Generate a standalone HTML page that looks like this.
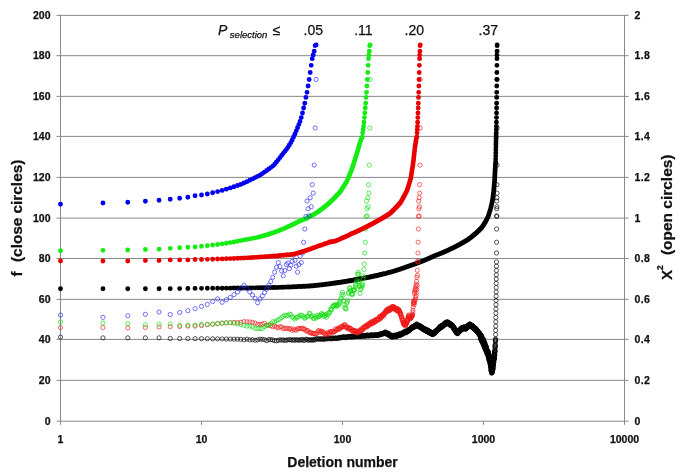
<!DOCTYPE html>
<html><head><meta charset="utf-8"><style>
html,body{margin:0;padding:0;background:#fff;}
svg{display:block;filter:blur(0.35px);}
.grid{stroke:#888;stroke-width:1;}
.ax{stroke:#888;stroke-width:1;}
text{font-family:"Liberation Sans",sans-serif;fill:#111;stroke:#111;stroke-width:0.25px;}
.tl{font-size:10.5px;font-weight:bold;}
.tt{font-size:14px;font-weight:bold;}
.ty{font-size:15.2px;font-weight:bold;}
.tr{font-size:10.5px;font-weight:bold;letter-spacing:0.3px;}
.sup{font-size:8.5px;font-weight:bold;}
.pl{font-size:14px;}
.sub{font-size:9.5px;}
</style></head><body>
<svg width="685" height="473" viewBox="0 0 685 473">
<rect width="685" height="473" fill="#fff"/>
<line x1="60.5" x2="624.5" y1="380.36" y2="380.36" class="grid"/>
<line x1="60.5" x2="624.5" y1="339.4" y2="339.4" class="grid"/>
<line x1="60.5" x2="624.5" y1="299.36" y2="299.36" class="grid"/>
<line x1="60.5" x2="624.5" y1="258.5" y2="258.5" class="grid"/>
<line x1="60.5" x2="624.5" y1="218.1" y2="218.1" class="grid"/>
<line x1="60.5" x2="624.5" y1="177.4" y2="177.4" class="grid"/>
<line x1="60.5" x2="624.5" y1="136.4" y2="136.4" class="grid"/>
<line x1="60.5" x2="624.5" y1="96.36" y2="96.36" class="grid"/>
<line x1="60.5" x2="624.5" y1="55.7" y2="55.7" class="grid"/>
<line x1="60.5" x2="624.5" y1="15.36" y2="15.36" class="grid"/>
<line x1="60.5" x2="60.5" y1="14.86" y2="421.7" class="ax"/>
<line x1="624.5" x2="624.5" y1="14.86" y2="421.7" class="ax"/>
<line x1="60" x2="625" y1="421.2" y2="421.2" class="ax"/>
<line x1="56.5" x2="60.5" y1="421.2" y2="421.2" class="ax"/>
<line x1="624.5" x2="628.5" y1="421.2" y2="421.2" class="ax"/>
<line x1="56.5" x2="60.5" y1="380.36" y2="380.36" class="ax"/>
<line x1="624.5" x2="628.5" y1="380.36" y2="380.36" class="ax"/>
<line x1="56.5" x2="60.5" y1="339.4" y2="339.4" class="ax"/>
<line x1="624.5" x2="628.5" y1="339.4" y2="339.4" class="ax"/>
<line x1="56.5" x2="60.5" y1="299.36" y2="299.36" class="ax"/>
<line x1="624.5" x2="628.5" y1="299.36" y2="299.36" class="ax"/>
<line x1="56.5" x2="60.5" y1="258.5" y2="258.5" class="ax"/>
<line x1="624.5" x2="628.5" y1="258.5" y2="258.5" class="ax"/>
<line x1="56.5" x2="60.5" y1="218.1" y2="218.1" class="ax"/>
<line x1="624.5" x2="628.5" y1="218.1" y2="218.1" class="ax"/>
<line x1="56.5" x2="60.5" y1="177.4" y2="177.4" class="ax"/>
<line x1="624.5" x2="628.5" y1="177.4" y2="177.4" class="ax"/>
<line x1="56.5" x2="60.5" y1="136.4" y2="136.4" class="ax"/>
<line x1="624.5" x2="628.5" y1="136.4" y2="136.4" class="ax"/>
<line x1="56.5" x2="60.5" y1="96.36" y2="96.36" class="ax"/>
<line x1="624.5" x2="628.5" y1="96.36" y2="96.36" class="ax"/>
<line x1="56.5" x2="60.5" y1="55.7" y2="55.7" class="ax"/>
<line x1="624.5" x2="628.5" y1="55.7" y2="55.7" class="ax"/>
<line x1="56.5" x2="60.5" y1="15.36" y2="15.36" class="ax"/>
<line x1="624.5" x2="628.5" y1="15.36" y2="15.36" class="ax"/>
<line x1="60.5" x2="60.5" y1="421.2" y2="424.8" class="ax"/>
<line x1="201.5" x2="201.5" y1="421.2" y2="424.8" class="ax"/>
<line x1="342.5" x2="342.5" y1="421.2" y2="424.8" class="ax"/>
<line x1="483.5" x2="483.5" y1="421.2" y2="424.8" class="ax"/>
<line x1="624.5" x2="624.5" y1="421.2" y2="424.8" class="ax"/>
<path fill="none" stroke="#000000" stroke-width="0.65" d="M58.4 337.05a2.1 2.1 0 1 0 4.2 0a2.1 2.1 0 1 0 -4.2 0M100.85 337.86a2.1 2.1 0 1 0 4.2 0a2.1 2.1 0 1 0 -4.2 0M125.67 337.86a2.1 2.1 0 1 0 4.2 0a2.1 2.1 0 1 0 -4.2 0M143.29 337.86a2.1 2.1 0 1 0 4.2 0a2.1 2.1 0 1 0 -4.2 0M156.95 337.86a2.1 2.1 0 1 0 4.2 0a2.1 2.1 0 1 0 -4.2 0M168.12 338.47a2.1 2.1 0 1 0 4.2 0a2.1 2.1 0 1 0 -4.2 0M177.56 338.52a2.1 2.1 0 1 0 4.2 0a2.1 2.1 0 1 0 -4.2 0M185.74 338.57a2.1 2.1 0 1 0 4.2 0a2.1 2.1 0 1 0 -4.2 0M192.95 338.63a2.1 2.1 0 1 0 4.2 0a2.1 2.1 0 1 0 -4.2 0M199.4 338.68a2.1 2.1 0 1 0 4.2 0a2.1 2.1 0 1 0 -4.2 0M205.24 338.75a2.1 2.1 0 1 0 4.2 0a2.1 2.1 0 1 0 -4.2 0M210.56 338.82a2.1 2.1 0 1 0 4.2 0a2.1 2.1 0 1 0 -4.2 0M215.47 338.89a2.1 2.1 0 1 0 4.2 0a2.1 2.1 0 1 0 -4.2 0M220 338.96a2.1 2.1 0 1 0 4.2 0a2.1 2.1 0 1 0 -4.2 0M224.23 339.03a2.1 2.1 0 1 0 4.2 0a2.1 2.1 0 1 0 -4.2 0M228.18 339.1a2.1 2.1 0 1 0 4.2 0a2.1 2.1 0 1 0 -4.2 0M231.89 339.17a2.1 2.1 0 1 0 4.2 0a2.1 2.1 0 1 0 -4.2 0M235.39 339.24a2.1 2.1 0 1 0 4.2 0a2.1 2.1 0 1 0 -4.2 0M238.7 339.31a2.1 2.1 0 1 0 4.2 0a2.1 2.1 0 1 0 -4.2 0M241.85 339.81a2.1 2.1 0 1 0 4.2 0a2.1 2.1 0 1 0 -4.2 0M244.83 339.19a2.1 2.1 0 1 0 4.2 0a2.1 2.1 0 1 0 -4.2 0M247.68 339.9a2.1 2.1 0 1 0 4.2 0a2.1 2.1 0 1 0 -4.2 0M250.4 339.79a2.1 2.1 0 1 0 4.2 0a2.1 2.1 0 1 0 -4.2 0M253.01 340.24a2.1 2.1 0 1 0 4.2 0a2.1 2.1 0 1 0 -4.2 0M255.51 339.93a2.1 2.1 0 1 0 4.2 0a2.1 2.1 0 1 0 -4.2 0M257.91 339.24a2.1 2.1 0 1 0 4.2 0a2.1 2.1 0 1 0 -4.2 0M260.22 339.29a2.1 2.1 0 1 0 4.2 0a2.1 2.1 0 1 0 -4.2 0M262.45 339.65a2.1 2.1 0 1 0 4.2 0a2.1 2.1 0 1 0 -4.2 0M264.6 340.62a2.1 2.1 0 1 0 4.2 0a2.1 2.1 0 1 0 -4.2 0M266.67 339.55a2.1 2.1 0 1 0 4.2 0a2.1 2.1 0 1 0 -4.2 0M268.68 339.71a2.1 2.1 0 1 0 4.2 0a2.1 2.1 0 1 0 -4.2 0M270.63 339.9a2.1 2.1 0 1 0 4.2 0a2.1 2.1 0 1 0 -4.2 0M272.51 340.69a2.1 2.1 0 1 0 4.2 0a2.1 2.1 0 1 0 -4.2 0M274.34 340.77a2.1 2.1 0 1 0 4.2 0a2.1 2.1 0 1 0 -4.2 0M276.11 340.36a2.1 2.1 0 1 0 4.2 0a2.1 2.1 0 1 0 -4.2 0M277.84 339.76a2.1 2.1 0 1 0 4.2 0a2.1 2.1 0 1 0 -4.2 0M279.52 340.11a2.1 2.1 0 1 0 4.2 0a2.1 2.1 0 1 0 -4.2 0M281.15 339.9a2.1 2.1 0 1 0 4.2 0a2.1 2.1 0 1 0 -4.2 0M282.74 340.49a2.1 2.1 0 1 0 4.2 0a2.1 2.1 0 1 0 -4.2 0M284.29 340.11a2.1 2.1 0 1 0 4.2 0a2.1 2.1 0 1 0 -4.2 0M285.8 339.86a2.1 2.1 0 1 0 4.2 0a2.1 2.1 0 1 0 -4.2 0M287.28 339.7a2.1 2.1 0 1 0 4.2 0a2.1 2.1 0 1 0 -4.2 0M288.72 339.7a2.1 2.1 0 1 0 4.2 0a2.1 2.1 0 1 0 -4.2 0M290.13 340.38a2.1 2.1 0 1 0 4.2 0a2.1 2.1 0 1 0 -4.2 0M291.5 339.57a2.1 2.1 0 1 0 4.2 0a2.1 2.1 0 1 0 -4.2 0M292.85 340.35a2.1 2.1 0 1 0 4.2 0a2.1 2.1 0 1 0 -4.2 0M294.17 339.62a2.1 2.1 0 1 0 4.2 0a2.1 2.1 0 1 0 -4.2 0M295.46 339.89a2.1 2.1 0 1 0 4.2 0a2.1 2.1 0 1 0 -4.2 0M296.72 340.32a2.1 2.1 0 1 0 4.2 0a2.1 2.1 0 1 0 -4.2 0M297.95 339.81a2.1 2.1 0 1 0 4.2 0a2.1 2.1 0 1 0 -4.2 0M299.17 339.87a2.1 2.1 0 1 0 4.2 0a2.1 2.1 0 1 0 -4.2 0M300.36 339.31a2.1 2.1 0 1 0 4.2 0a2.1 2.1 0 1 0 -4.2 0M301.52 340.41a2.1 2.1 0 1 0 4.2 0a2.1 2.1 0 1 0 -4.2 0M302.67 340.24a2.1 2.1 0 1 0 4.2 0a2.1 2.1 0 1 0 -4.2 0M303.79 339.22a2.1 2.1 0 1 0 4.2 0a2.1 2.1 0 1 0 -4.2 0M304.89 339.38a2.1 2.1 0 1 0 4.2 0a2.1 2.1 0 1 0 -4.2 0M305.98 340.18a2.1 2.1 0 1 0 4.2 0a2.1 2.1 0 1 0 -4.2 0M307.04 340.07a2.1 2.1 0 1 0 4.2 0a2.1 2.1 0 1 0 -4.2 0M308.09 339.67a2.1 2.1 0 1 0 4.2 0a2.1 2.1 0 1 0 -4.2 0M309.12 340.11a2.1 2.1 0 1 0 4.2 0a2.1 2.1 0 1 0 -4.2 0M310.13 339.85a2.1 2.1 0 1 0 4.2 0a2.1 2.1 0 1 0 -4.2 0M311.13 340.13a2.1 2.1 0 1 0 4.2 0a2.1 2.1 0 1 0 -4.2 0M312.11 339.26a2.1 2.1 0 1 0 4.2 0a2.1 2.1 0 1 0 -4.2 0M313.07 339.97a2.1 2.1 0 1 0 4.2 0a2.1 2.1 0 1 0 -4.2 0M314.02 338.8a2.1 2.1 0 1 0 4.2 0a2.1 2.1 0 1 0 -4.2 0M314.96 338.83a2.1 2.1 0 1 0 4.2 0a2.1 2.1 0 1 0 -4.2 0M315.88 338.94a2.1 2.1 0 1 0 4.2 0a2.1 2.1 0 1 0 -4.2 0M316.78 338.9a2.1 2.1 0 1 0 4.2 0a2.1 2.1 0 1 0 -4.2 0M317.68 339.34a2.1 2.1 0 1 0 4.2 0a2.1 2.1 0 1 0 -4.2 0M318.56 338.9a2.1 2.1 0 1 0 4.2 0a2.1 2.1 0 1 0 -4.2 0M319.43 338.74a2.1 2.1 0 1 0 4.2 0a2.1 2.1 0 1 0 -4.2 0M320.28 339.03a2.1 2.1 0 1 0 4.2 0a2.1 2.1 0 1 0 -4.2 0M321.13 339.48a2.1 2.1 0 1 0 4.2 0a2.1 2.1 0 1 0 -4.2 0M321.96 338.73a2.1 2.1 0 1 0 4.2 0a2.1 2.1 0 1 0 -4.2 0M322.78 339.04a2.1 2.1 0 1 0 4.2 0a2.1 2.1 0 1 0 -4.2 0M323.59 338.64a2.1 2.1 0 1 0 4.2 0a2.1 2.1 0 1 0 -4.2 0M324.4 338.81a2.1 2.1 0 1 0 4.2 0a2.1 2.1 0 1 0 -4.2 0M325.19 338.11a2.1 2.1 0 1 0 4.2 0a2.1 2.1 0 1 0 -4.2 0M325.97 338.96a2.1 2.1 0 1 0 4.2 0a2.1 2.1 0 1 0 -4.2 0M326.74 338.22a2.1 2.1 0 1 0 4.2 0a2.1 2.1 0 1 0 -4.2 0M327.5 338.24a2.1 2.1 0 1 0 4.2 0a2.1 2.1 0 1 0 -4.2 0M328.25 338.36a2.1 2.1 0 1 0 4.2 0a2.1 2.1 0 1 0 -4.2 0M328.99 338.88a2.1 2.1 0 1 0 4.2 0a2.1 2.1 0 1 0 -4.2 0M329.72 338.72a2.1 2.1 0 1 0 4.2 0a2.1 2.1 0 1 0 -4.2 0M330.45 337.69a2.1 2.1 0 1 0 4.2 0a2.1 2.1 0 1 0 -4.2 0M331.16 338.53a2.1 2.1 0 1 0 4.2 0a2.1 2.1 0 1 0 -4.2 0M331.87 338.55a2.1 2.1 0 1 0 4.2 0a2.1 2.1 0 1 0 -4.2 0M332.57 338.34a2.1 2.1 0 1 0 4.2 0a2.1 2.1 0 1 0 -4.2 0M333.26 337.98a2.1 2.1 0 1 0 4.2 0a2.1 2.1 0 1 0 -4.2 0M333.95 337.95a2.1 2.1 0 1 0 4.2 0a2.1 2.1 0 1 0 -4.2 0M334.62 338.52a2.1 2.1 0 1 0 4.2 0a2.1 2.1 0 1 0 -4.2 0M335.29 338.46a2.1 2.1 0 1 0 4.2 0a2.1 2.1 0 1 0 -4.2 0M335.96 337.8a2.1 2.1 0 1 0 4.2 0a2.1 2.1 0 1 0 -4.2 0M336.61 338.13a2.1 2.1 0 1 0 4.2 0a2.1 2.1 0 1 0 -4.2 0M337.26 337.55a2.1 2.1 0 1 0 4.2 0a2.1 2.1 0 1 0 -4.2 0M337.9 337.26a2.1 2.1 0 1 0 4.2 0a2.1 2.1 0 1 0 -4.2 0M338.53 338.06a2.1 2.1 0 1 0 4.2 0a2.1 2.1 0 1 0 -4.2 0M339.16 337.5a2.1 2.1 0 1 0 4.2 0a2.1 2.1 0 1 0 -4.2 0M339.78 337.56a2.1 2.1 0 1 0 4.2 0a2.1 2.1 0 1 0 -4.2 0M340.4 337.03a2.1 2.1 0 1 0 4.2 0a2.1 2.1 0 1 0 -4.2 0M341.01 336.76a2.1 2.1 0 1 0 4.2 0a2.1 2.1 0 1 0 -4.2 0M341.61 337.36a2.1 2.1 0 1 0 4.2 0a2.1 2.1 0 1 0 -4.2 0M342.21 337.51a2.1 2.1 0 1 0 4.2 0a2.1 2.1 0 1 0 -4.2 0M342.8 336.67a2.1 2.1 0 1 0 4.2 0a2.1 2.1 0 1 0 -4.2 0M343.39 337.65a2.1 2.1 0 1 0 4.2 0a2.1 2.1 0 1 0 -4.2 0M343.97 337.22a2.1 2.1 0 1 0 4.2 0a2.1 2.1 0 1 0 -4.2 0M344.54 337.08a2.1 2.1 0 1 0 4.2 0a2.1 2.1 0 1 0 -4.2 0M345.11 337.28a2.1 2.1 0 1 0 4.2 0a2.1 2.1 0 1 0 -4.2 0M345.68 336.61a2.1 2.1 0 1 0 4.2 0a2.1 2.1 0 1 0 -4.2 0M346.24 336.75a2.1 2.1 0 1 0 4.2 0a2.1 2.1 0 1 0 -4.2 0M346.79 337.01a2.1 2.1 0 1 0 4.2 0a2.1 2.1 0 1 0 -4.2 0M347.34 336.75a2.1 2.1 0 1 0 4.2 0a2.1 2.1 0 1 0 -4.2 0M347.88 336.38a2.1 2.1 0 1 0 4.2 0a2.1 2.1 0 1 0 -4.2 0M348.42 336.8a2.1 2.1 0 1 0 4.2 0a2.1 2.1 0 1 0 -4.2 0M348.96 337.09a2.1 2.1 0 1 0 4.2 0a2.1 2.1 0 1 0 -4.2 0M349.49 336.58a2.1 2.1 0 1 0 4.2 0a2.1 2.1 0 1 0 -4.2 0M350.01 336.88a2.1 2.1 0 1 0 4.2 0a2.1 2.1 0 1 0 -4.2 0M350.54 336.33a2.1 2.1 0 1 0 4.2 0a2.1 2.1 0 1 0 -4.2 0M351.05 336.81a2.1 2.1 0 1 0 4.2 0a2.1 2.1 0 1 0 -4.2 0M351.56 336.86a2.1 2.1 0 1 0 4.2 0a2.1 2.1 0 1 0 -4.2 0M352.07 335.91a2.1 2.1 0 1 0 4.2 0a2.1 2.1 0 1 0 -4.2 0M352.58 336.57a2.1 2.1 0 1 0 4.2 0a2.1 2.1 0 1 0 -4.2 0M353.08 336.59a2.1 2.1 0 1 0 4.2 0a2.1 2.1 0 1 0 -4.2 0M353.57 336.26a2.1 2.1 0 1 0 4.2 0a2.1 2.1 0 1 0 -4.2 0M354.06 336.04a2.1 2.1 0 1 0 4.2 0a2.1 2.1 0 1 0 -4.2 0M354.55 336.04a2.1 2.1 0 1 0 4.2 0a2.1 2.1 0 1 0 -4.2 0M355.04 335.86a2.1 2.1 0 1 0 4.2 0a2.1 2.1 0 1 0 -4.2 0M355.52 336.48a2.1 2.1 0 1 0 4.2 0a2.1 2.1 0 1 0 -4.2 0M355.99 336.25a2.1 2.1 0 1 0 4.2 0a2.1 2.1 0 1 0 -4.2 0M356.47 336.3a2.1 2.1 0 1 0 4.2 0a2.1 2.1 0 1 0 -4.2 0M356.94 336.09a2.1 2.1 0 1 0 4.2 0a2.1 2.1 0 1 0 -4.2 0M357.4 335.99a2.1 2.1 0 1 0 4.2 0a2.1 2.1 0 1 0 -4.2 0M357.86 335.89a2.1 2.1 0 1 0 4.2 0a2.1 2.1 0 1 0 -4.2 0M358.32 336.55a2.1 2.1 0 1 0 4.2 0a2.1 2.1 0 1 0 -4.2 0M358.78 336.15a2.1 2.1 0 1 0 4.2 0a2.1 2.1 0 1 0 -4.2 0M359.23 335.71a2.1 2.1 0 1 0 4.2 0a2.1 2.1 0 1 0 -4.2 0M359.68 336.5a2.1 2.1 0 1 0 4.2 0a2.1 2.1 0 1 0 -4.2 0M360.12 335.61a2.1 2.1 0 1 0 4.2 0a2.1 2.1 0 1 0 -4.2 0M360.57 335.65a2.1 2.1 0 1 0 4.2 0a2.1 2.1 0 1 0 -4.2 0M361 335.97a2.1 2.1 0 1 0 4.2 0a2.1 2.1 0 1 0 -4.2 0M361.44 335.88a2.1 2.1 0 1 0 4.2 0a2.1 2.1 0 1 0 -4.2 0M361.87 336.08a2.1 2.1 0 1 0 4.2 0a2.1 2.1 0 1 0 -4.2 0M362.3 335.48a2.1 2.1 0 1 0 4.2 0a2.1 2.1 0 1 0 -4.2 0M362.73 335.76a2.1 2.1 0 1 0 4.2 0a2.1 2.1 0 1 0 -4.2 0M363.15 336a2.1 2.1 0 1 0 4.2 0a2.1 2.1 0 1 0 -4.2 0M363.57 336.25a2.1 2.1 0 1 0 4.2 0a2.1 2.1 0 1 0 -4.2 0M363.99 335.84a2.1 2.1 0 1 0 4.2 0a2.1 2.1 0 1 0 -4.2 0M364.41 335.11a2.1 2.1 0 1 0 4.2 0a2.1 2.1 0 1 0 -4.2 0M364.82 335.38a2.1 2.1 0 1 0 4.2 0a2.1 2.1 0 1 0 -4.2 0M365.23 335.41a2.1 2.1 0 1 0 4.2 0a2.1 2.1 0 1 0 -4.2 0M365.64 335.01a2.1 2.1 0 1 0 4.2 0a2.1 2.1 0 1 0 -4.2 0M366.04 336.08a2.1 2.1 0 1 0 4.2 0a2.1 2.1 0 1 0 -4.2 0M366.44 335.36a2.1 2.1 0 1 0 4.2 0a2.1 2.1 0 1 0 -4.2 0M366.84 335.83a2.1 2.1 0 1 0 4.2 0a2.1 2.1 0 1 0 -4.2 0M367.24 335.55a2.1 2.1 0 1 0 4.2 0a2.1 2.1 0 1 0 -4.2 0M367.63 335.78a2.1 2.1 0 1 0 4.2 0a2.1 2.1 0 1 0 -4.2 0M368.02 335.55a2.1 2.1 0 1 0 4.2 0a2.1 2.1 0 1 0 -4.2 0M368.41 334.85a2.1 2.1 0 1 0 4.2 0a2.1 2.1 0 1 0 -4.2 0M368.8 335.04a2.1 2.1 0 1 0 4.2 0a2.1 2.1 0 1 0 -4.2 0M369.18 334.86a2.1 2.1 0 1 0 4.2 0a2.1 2.1 0 1 0 -4.2 0M369.56 335.77a2.1 2.1 0 1 0 4.2 0a2.1 2.1 0 1 0 -4.2 0M369.94 335.47a2.1 2.1 0 1 0 4.2 0a2.1 2.1 0 1 0 -4.2 0M370.32 334.85a2.1 2.1 0 1 0 4.2 0a2.1 2.1 0 1 0 -4.2 0M370.69 335.73a2.1 2.1 0 1 0 4.2 0a2.1 2.1 0 1 0 -4.2 0M371.07 335.52a2.1 2.1 0 1 0 4.2 0a2.1 2.1 0 1 0 -4.2 0M371.44 335.62a2.1 2.1 0 1 0 4.2 0a2.1 2.1 0 1 0 -4.2 0M371.8 334.7a2.1 2.1 0 1 0 4.2 0a2.1 2.1 0 1 0 -4.2 0M372.17 335.38a2.1 2.1 0 1 0 4.2 0a2.1 2.1 0 1 0 -4.2 0M372.53 335.12a2.1 2.1 0 1 0 4.2 0a2.1 2.1 0 1 0 -4.2 0M372.89 335.59a2.1 2.1 0 1 0 4.2 0a2.1 2.1 0 1 0 -4.2 0M373.25 335.44a2.1 2.1 0 1 0 4.2 0a2.1 2.1 0 1 0 -4.2 0M373.61 334.93a2.1 2.1 0 1 0 4.2 0a2.1 2.1 0 1 0 -4.2 0M373.96 334.56a2.1 2.1 0 1 0 4.2 0a2.1 2.1 0 1 0 -4.2 0M374.32 335.08a2.1 2.1 0 1 0 4.2 0a2.1 2.1 0 1 0 -4.2 0M374.67 335.08a2.1 2.1 0 1 0 4.2 0a2.1 2.1 0 1 0 -4.2 0M375.02 335.39a2.1 2.1 0 1 0 4.2 0a2.1 2.1 0 1 0 -4.2 0M375.36 335.29a2.1 2.1 0 1 0 4.2 0a2.1 2.1 0 1 0 -4.2 0M375.71 335.2a2.1 2.1 0 1 0 4.2 0a2.1 2.1 0 1 0 -4.2 0M376.05 335.1a2.1 2.1 0 1 0 4.2 0a2.1 2.1 0 1 0 -4.2 0M376.39 334.63a2.1 2.1 0 1 0 4.2 0a2.1 2.1 0 1 0 -4.2 0M376.73 334.86a2.1 2.1 0 1 0 4.2 0a2.1 2.1 0 1 0 -4.2 0M377.07 334.08a2.1 2.1 0 1 0 4.2 0a2.1 2.1 0 1 0 -4.2 0M377.41 334.89a2.1 2.1 0 1 0 4.2 0a2.1 2.1 0 1 0 -4.2 0M377.74 334.13a2.1 2.1 0 1 0 4.2 0a2.1 2.1 0 1 0 -4.2 0M378.07 334.96a2.1 2.1 0 1 0 4.2 0a2.1 2.1 0 1 0 -4.2 0M378.4 334.32a2.1 2.1 0 1 0 4.2 0a2.1 2.1 0 1 0 -4.2 0M378.73 334.19a2.1 2.1 0 1 0 4.2 0a2.1 2.1 0 1 0 -4.2 0M379.06 333.96a2.1 2.1 0 1 0 4.2 0a2.1 2.1 0 1 0 -4.2 0M379.38 334.15a2.1 2.1 0 1 0 4.2 0a2.1 2.1 0 1 0 -4.2 0M379.7 333.91a2.1 2.1 0 1 0 4.2 0a2.1 2.1 0 1 0 -4.2 0M380.03 333.5a2.1 2.1 0 1 0 4.2 0a2.1 2.1 0 1 0 -4.2 0M380.35 334.16a2.1 2.1 0 1 0 4.2 0a2.1 2.1 0 1 0 -4.2 0M380.66 333.59a2.1 2.1 0 1 0 4.2 0a2.1 2.1 0 1 0 -4.2 0M380.98 333.42a2.1 2.1 0 1 0 4.2 0a2.1 2.1 0 1 0 -4.2 0M381.29 333.08a2.1 2.1 0 1 0 4.2 0a2.1 2.1 0 1 0 -4.2 0M381.61 333.72a2.1 2.1 0 1 0 4.2 0a2.1 2.1 0 1 0 -4.2 0M381.92 333.31a2.1 2.1 0 1 0 4.2 0a2.1 2.1 0 1 0 -4.2 0M382.23 333.69a2.1 2.1 0 1 0 4.2 0a2.1 2.1 0 1 0 -4.2 0M382.54 332.8a2.1 2.1 0 1 0 4.2 0a2.1 2.1 0 1 0 -4.2 0M382.85 332.15a2.1 2.1 0 1 0 4.2 0a2.1 2.1 0 1 0 -4.2 0M383.15 333.09a2.1 2.1 0 1 0 4.2 0a2.1 2.1 0 1 0 -4.2 0M383.45 332.05a2.1 2.1 0 1 0 4.2 0a2.1 2.1 0 1 0 -4.2 0M383.76 332.27a2.1 2.1 0 1 0 4.2 0a2.1 2.1 0 1 0 -4.2 0M384.06 333.74a2.1 2.1 0 1 0 4.2 0a2.1 2.1 0 1 0 -4.2 0M384.36 333a2.1 2.1 0 1 0 4.2 0a2.1 2.1 0 1 0 -4.2 0M384.66 334.04a2.1 2.1 0 1 0 4.2 0a2.1 2.1 0 1 0 -4.2 0M384.95 333.67a2.1 2.1 0 1 0 4.2 0a2.1 2.1 0 1 0 -4.2 0M385.25 332.86a2.1 2.1 0 1 0 4.2 0a2.1 2.1 0 1 0 -4.2 0M385.54 334.41a2.1 2.1 0 1 0 4.2 0a2.1 2.1 0 1 0 -4.2 0M385.83 333.69a2.1 2.1 0 1 0 4.2 0a2.1 2.1 0 1 0 -4.2 0M386.12 334.9a2.1 2.1 0 1 0 4.2 0a2.1 2.1 0 1 0 -4.2 0M386.41 334.97a2.1 2.1 0 1 0 4.2 0a2.1 2.1 0 1 0 -4.2 0M386.7 333.43a2.1 2.1 0 1 0 4.2 0a2.1 2.1 0 1 0 -4.2 0M386.99 335.35a2.1 2.1 0 1 0 4.2 0a2.1 2.1 0 1 0 -4.2 0M387.27 335.37a2.1 2.1 0 1 0 4.2 0a2.1 2.1 0 1 0 -4.2 0M387.56 333.99a2.1 2.1 0 1 0 4.2 0a2.1 2.1 0 1 0 -4.2 0M387.84 335.45a2.1 2.1 0 1 0 4.2 0a2.1 2.1 0 1 0 -4.2 0M388.12 335.81a2.1 2.1 0 1 0 4.2 0a2.1 2.1 0 1 0 -4.2 0M388.4 336.23a2.1 2.1 0 1 0 4.2 0a2.1 2.1 0 1 0 -4.2 0M388.68 335.59a2.1 2.1 0 1 0 4.2 0a2.1 2.1 0 1 0 -4.2 0M388.96 336.66a2.1 2.1 0 1 0 4.2 0a2.1 2.1 0 1 0 -4.2 0M389.24 336.51a2.1 2.1 0 1 0 4.2 0a2.1 2.1 0 1 0 -4.2 0M389.51 336.68a2.1 2.1 0 1 0 4.2 0a2.1 2.1 0 1 0 -4.2 0M389.78 335.8a2.1 2.1 0 1 0 4.2 0a2.1 2.1 0 1 0 -4.2 0M390.06 337.16a2.1 2.1 0 1 0 4.2 0a2.1 2.1 0 1 0 -4.2 0M390.33 336.47a2.1 2.1 0 1 0 4.2 0a2.1 2.1 0 1 0 -4.2 0M390.6 337.1a2.1 2.1 0 1 0 4.2 0a2.1 2.1 0 1 0 -4.2 0M390.87 335.51a2.1 2.1 0 1 0 4.2 0a2.1 2.1 0 1 0 -4.2 0M391.14 335.45a2.1 2.1 0 1 0 4.2 0a2.1 2.1 0 1 0 -4.2 0M391.4 335.51a2.1 2.1 0 1 0 4.2 0a2.1 2.1 0 1 0 -4.2 0M391.67 335.5a2.1 2.1 0 1 0 4.2 0a2.1 2.1 0 1 0 -4.2 0M391.93 336.13a2.1 2.1 0 1 0 4.2 0a2.1 2.1 0 1 0 -4.2 0M392.2 335.3a2.1 2.1 0 1 0 4.2 0a2.1 2.1 0 1 0 -4.2 0M392.46 335.82a2.1 2.1 0 1 0 4.2 0a2.1 2.1 0 1 0 -4.2 0M392.72 336.73a2.1 2.1 0 1 0 4.2 0a2.1 2.1 0 1 0 -4.2 0M392.98 335.5a2.1 2.1 0 1 0 4.2 0a2.1 2.1 0 1 0 -4.2 0M393.24 335.19a2.1 2.1 0 1 0 4.2 0a2.1 2.1 0 1 0 -4.2 0M393.5 336.82a2.1 2.1 0 1 0 4.2 0a2.1 2.1 0 1 0 -4.2 0M393.75 336.39a2.1 2.1 0 1 0 4.2 0a2.1 2.1 0 1 0 -4.2 0M394.01 335.12a2.1 2.1 0 1 0 4.2 0a2.1 2.1 0 1 0 -4.2 0M394.26 335.09a2.1 2.1 0 1 0 4.2 0a2.1 2.1 0 1 0 -4.2 0M394.52 335.44a2.1 2.1 0 1 0 4.2 0a2.1 2.1 0 1 0 -4.2 0M394.77 336.26a2.1 2.1 0 1 0 4.2 0a2.1 2.1 0 1 0 -4.2 0M395.02 335.9a2.1 2.1 0 1 0 4.2 0a2.1 2.1 0 1 0 -4.2 0M395.27 335.9a2.1 2.1 0 1 0 4.2 0a2.1 2.1 0 1 0 -4.2 0M395.52 334.32a2.1 2.1 0 1 0 4.2 0a2.1 2.1 0 1 0 -4.2 0M395.77 335.78a2.1 2.1 0 1 0 4.2 0a2.1 2.1 0 1 0 -4.2 0M396.02 335.42a2.1 2.1 0 1 0 4.2 0a2.1 2.1 0 1 0 -4.2 0M396.26 334.71a2.1 2.1 0 1 0 4.2 0a2.1 2.1 0 1 0 -4.2 0M396.51 334.69a2.1 2.1 0 1 0 4.2 0a2.1 2.1 0 1 0 -4.2 0M396.75 334.83a2.1 2.1 0 1 0 4.2 0a2.1 2.1 0 1 0 -4.2 0M397 334.58a2.1 2.1 0 1 0 4.2 0a2.1 2.1 0 1 0 -4.2 0M397.24 334.08a2.1 2.1 0 1 0 4.2 0a2.1 2.1 0 1 0 -4.2 0M397.48 333.91a2.1 2.1 0 1 0 4.2 0a2.1 2.1 0 1 0 -4.2 0M397.72 335.48a2.1 2.1 0 1 0 4.2 0a2.1 2.1 0 1 0 -4.2 0M397.96 335.57a2.1 2.1 0 1 0 4.2 0a2.1 2.1 0 1 0 -4.2 0M398.2 333.67a2.1 2.1 0 1 0 4.2 0a2.1 2.1 0 1 0 -4.2 0M398.44 333.56a2.1 2.1 0 1 0 4.2 0a2.1 2.1 0 1 0 -4.2 0M398.68 334.55a2.1 2.1 0 1 0 4.2 0a2.1 2.1 0 1 0 -4.2 0M398.91 334.38a2.1 2.1 0 1 0 4.2 0a2.1 2.1 0 1 0 -4.2 0M399.15 333.69a2.1 2.1 0 1 0 4.2 0a2.1 2.1 0 1 0 -4.2 0M399.38 334.11a2.1 2.1 0 1 0 4.2 0a2.1 2.1 0 1 0 -4.2 0M399.61 334.63a2.1 2.1 0 1 0 4.2 0a2.1 2.1 0 1 0 -4.2 0M399.85 334.24a2.1 2.1 0 1 0 4.2 0a2.1 2.1 0 1 0 -4.2 0M400.08 334.02a2.1 2.1 0 1 0 4.2 0a2.1 2.1 0 1 0 -4.2 0M400.31 333.38a2.1 2.1 0 1 0 4.2 0a2.1 2.1 0 1 0 -4.2 0M400.54 334.07a2.1 2.1 0 1 0 4.2 0a2.1 2.1 0 1 0 -4.2 0M400.77 332.83a2.1 2.1 0 1 0 4.2 0a2.1 2.1 0 1 0 -4.2 0M401 332.23a2.1 2.1 0 1 0 4.2 0a2.1 2.1 0 1 0 -4.2 0M401.22 333.31a2.1 2.1 0 1 0 4.2 0a2.1 2.1 0 1 0 -4.2 0M401.45 332.82a2.1 2.1 0 1 0 4.2 0a2.1 2.1 0 1 0 -4.2 0M401.67 332.58a2.1 2.1 0 1 0 4.2 0a2.1 2.1 0 1 0 -4.2 0M401.9 332.14a2.1 2.1 0 1 0 4.2 0a2.1 2.1 0 1 0 -4.2 0M402.12 332.37a2.1 2.1 0 1 0 4.2 0a2.1 2.1 0 1 0 -4.2 0M402.35 332.49a2.1 2.1 0 1 0 4.2 0a2.1 2.1 0 1 0 -4.2 0M402.57 331.96a2.1 2.1 0 1 0 4.2 0a2.1 2.1 0 1 0 -4.2 0M402.79 333.27a2.1 2.1 0 1 0 4.2 0a2.1 2.1 0 1 0 -4.2 0M403.01 331.3a2.1 2.1 0 1 0 4.2 0a2.1 2.1 0 1 0 -4.2 0M403.23 331.27a2.1 2.1 0 1 0 4.2 0a2.1 2.1 0 1 0 -4.2 0M403.45 331.58a2.1 2.1 0 1 0 4.2 0a2.1 2.1 0 1 0 -4.2 0M403.67 332.47a2.1 2.1 0 1 0 4.2 0a2.1 2.1 0 1 0 -4.2 0M403.89 331.5a2.1 2.1 0 1 0 4.2 0a2.1 2.1 0 1 0 -4.2 0M404.1 332.6a2.1 2.1 0 1 0 4.2 0a2.1 2.1 0 1 0 -4.2 0M404.32 331.74a2.1 2.1 0 1 0 4.2 0a2.1 2.1 0 1 0 -4.2 0M404.53 332a2.1 2.1 0 1 0 4.2 0a2.1 2.1 0 1 0 -4.2 0M404.75 331.19a2.1 2.1 0 1 0 4.2 0a2.1 2.1 0 1 0 -4.2 0M404.96 331.71a2.1 2.1 0 1 0 4.2 0a2.1 2.1 0 1 0 -4.2 0M405.17 331.92a2.1 2.1 0 1 0 4.2 0a2.1 2.1 0 1 0 -4.2 0M405.39 330.38a2.1 2.1 0 1 0 4.2 0a2.1 2.1 0 1 0 -4.2 0M405.6 331.37a2.1 2.1 0 1 0 4.2 0a2.1 2.1 0 1 0 -4.2 0M405.81 330.64a2.1 2.1 0 1 0 4.2 0a2.1 2.1 0 1 0 -4.2 0M406.02 331.6a2.1 2.1 0 1 0 4.2 0a2.1 2.1 0 1 0 -4.2 0M406.23 330.34a2.1 2.1 0 1 0 4.2 0a2.1 2.1 0 1 0 -4.2 0M406.44 329.74a2.1 2.1 0 1 0 4.2 0a2.1 2.1 0 1 0 -4.2 0M406.64 329.6a2.1 2.1 0 1 0 4.2 0a2.1 2.1 0 1 0 -4.2 0M406.85 330.38a2.1 2.1 0 1 0 4.2 0a2.1 2.1 0 1 0 -4.2 0M407.06 330.64a2.1 2.1 0 1 0 4.2 0a2.1 2.1 0 1 0 -4.2 0M407.26 329.52a2.1 2.1 0 1 0 4.2 0a2.1 2.1 0 1 0 -4.2 0M407.47 330a2.1 2.1 0 1 0 4.2 0a2.1 2.1 0 1 0 -4.2 0M407.67 329.91a2.1 2.1 0 1 0 4.2 0a2.1 2.1 0 1 0 -4.2 0M407.88 329.93a2.1 2.1 0 1 0 4.2 0a2.1 2.1 0 1 0 -4.2 0M408.08 329.43a2.1 2.1 0 1 0 4.2 0a2.1 2.1 0 1 0 -4.2 0M408.28 328.71a2.1 2.1 0 1 0 4.2 0a2.1 2.1 0 1 0 -4.2 0M408.49 329.14a2.1 2.1 0 1 0 4.2 0a2.1 2.1 0 1 0 -4.2 0M408.69 328.51a2.1 2.1 0 1 0 4.2 0a2.1 2.1 0 1 0 -4.2 0M408.89 328.21a2.1 2.1 0 1 0 4.2 0a2.1 2.1 0 1 0 -4.2 0M409.09 327.91a2.1 2.1 0 1 0 4.2 0a2.1 2.1 0 1 0 -4.2 0M409.29 328.26a2.1 2.1 0 1 0 4.2 0a2.1 2.1 0 1 0 -4.2 0M409.48 327.28a2.1 2.1 0 1 0 4.2 0a2.1 2.1 0 1 0 -4.2 0M409.68 328.14a2.1 2.1 0 1 0 4.2 0a2.1 2.1 0 1 0 -4.2 0M409.88 327.93a2.1 2.1 0 1 0 4.2 0a2.1 2.1 0 1 0 -4.2 0M410.08 327.55a2.1 2.1 0 1 0 4.2 0a2.1 2.1 0 1 0 -4.2 0M410.27 326.78a2.1 2.1 0 1 0 4.2 0a2.1 2.1 0 1 0 -4.2 0M410.47 327.2a2.1 2.1 0 1 0 4.2 0a2.1 2.1 0 1 0 -4.2 0M410.66 326.63a2.1 2.1 0 1 0 4.2 0a2.1 2.1 0 1 0 -4.2 0M410.86 328.03a2.1 2.1 0 1 0 4.2 0a2.1 2.1 0 1 0 -4.2 0M411.05 327.36a2.1 2.1 0 1 0 4.2 0a2.1 2.1 0 1 0 -4.2 0M411.24 326.66a2.1 2.1 0 1 0 4.2 0a2.1 2.1 0 1 0 -4.2 0M411.43 326.47a2.1 2.1 0 1 0 4.2 0a2.1 2.1 0 1 0 -4.2 0M411.63 326.14a2.1 2.1 0 1 0 4.2 0a2.1 2.1 0 1 0 -4.2 0M411.82 327.15a2.1 2.1 0 1 0 4.2 0a2.1 2.1 0 1 0 -4.2 0M412.01 326.91a2.1 2.1 0 1 0 4.2 0a2.1 2.1 0 1 0 -4.2 0M412.2 326.58a2.1 2.1 0 1 0 4.2 0a2.1 2.1 0 1 0 -4.2 0M412.39 326.49a2.1 2.1 0 1 0 4.2 0a2.1 2.1 0 1 0 -4.2 0M412.58 326.96a2.1 2.1 0 1 0 4.2 0a2.1 2.1 0 1 0 -4.2 0M412.76 326.23a2.1 2.1 0 1 0 4.2 0a2.1 2.1 0 1 0 -4.2 0M412.95 325.58a2.1 2.1 0 1 0 4.2 0a2.1 2.1 0 1 0 -4.2 0M413.14 325.25a2.1 2.1 0 1 0 4.2 0a2.1 2.1 0 1 0 -4.2 0M413.32 326.15a2.1 2.1 0 1 0 4.2 0a2.1 2.1 0 1 0 -4.2 0M413.51 325.23a2.1 2.1 0 1 0 4.2 0a2.1 2.1 0 1 0 -4.2 0M413.7 324.83a2.1 2.1 0 1 0 4.2 0a2.1 2.1 0 1 0 -4.2 0M413.88 325.9a2.1 2.1 0 1 0 4.2 0a2.1 2.1 0 1 0 -4.2 0M414.06 326.06a2.1 2.1 0 1 0 4.2 0a2.1 2.1 0 1 0 -4.2 0M414.25 325.63a2.1 2.1 0 1 0 4.2 0a2.1 2.1 0 1 0 -4.2 0M414.43 324.44a2.1 2.1 0 1 0 4.2 0a2.1 2.1 0 1 0 -4.2 0M414.61 323.83a2.1 2.1 0 1 0 4.2 0a2.1 2.1 0 1 0 -4.2 0M414.8 325a2.1 2.1 0 1 0 4.2 0a2.1 2.1 0 1 0 -4.2 0M414.98 325.26a2.1 2.1 0 1 0 4.2 0a2.1 2.1 0 1 0 -4.2 0M415.16 324.72a2.1 2.1 0 1 0 4.2 0a2.1 2.1 0 1 0 -4.2 0M415.34 325.46a2.1 2.1 0 1 0 4.2 0a2.1 2.1 0 1 0 -4.2 0M415.52 326.12a2.1 2.1 0 1 0 4.2 0a2.1 2.1 0 1 0 -4.2 0M415.7 325.81a2.1 2.1 0 1 0 4.2 0a2.1 2.1 0 1 0 -4.2 0M415.88 325.19a2.1 2.1 0 1 0 4.2 0a2.1 2.1 0 1 0 -4.2 0M416.05 325.58a2.1 2.1 0 1 0 4.2 0a2.1 2.1 0 1 0 -4.2 0M416.23 325.91a2.1 2.1 0 1 0 4.2 0a2.1 2.1 0 1 0 -4.2 0M416.41 325.92a2.1 2.1 0 1 0 4.2 0a2.1 2.1 0 1 0 -4.2 0M416.59 326.54a2.1 2.1 0 1 0 4.2 0a2.1 2.1 0 1 0 -4.2 0M416.76 325.37a2.1 2.1 0 1 0 4.2 0a2.1 2.1 0 1 0 -4.2 0M416.94 326.27a2.1 2.1 0 1 0 4.2 0a2.1 2.1 0 1 0 -4.2 0M417.11 325.73a2.1 2.1 0 1 0 4.2 0a2.1 2.1 0 1 0 -4.2 0M417.29 326.08a2.1 2.1 0 1 0 4.2 0a2.1 2.1 0 1 0 -4.2 0M417.46 325.51a2.1 2.1 0 1 0 4.2 0a2.1 2.1 0 1 0 -4.2 0M417.64 325.83a2.1 2.1 0 1 0 4.2 0a2.1 2.1 0 1 0 -4.2 0M417.81 327.28a2.1 2.1 0 1 0 4.2 0a2.1 2.1 0 1 0 -4.2 0M417.98 326.74a2.1 2.1 0 1 0 4.2 0a2.1 2.1 0 1 0 -4.2 0M418.15 327.73a2.1 2.1 0 1 0 4.2 0a2.1 2.1 0 1 0 -4.2 0M418.33 326.33a2.1 2.1 0 1 0 4.2 0a2.1 2.1 0 1 0 -4.2 0M418.5 327.49a2.1 2.1 0 1 0 4.2 0a2.1 2.1 0 1 0 -4.2 0M418.67 326.08a2.1 2.1 0 1 0 4.2 0a2.1 2.1 0 1 0 -4.2 0M418.84 327.71a2.1 2.1 0 1 0 4.2 0a2.1 2.1 0 1 0 -4.2 0M419.01 327.24a2.1 2.1 0 1 0 4.2 0a2.1 2.1 0 1 0 -4.2 0M419.18 327.38a2.1 2.1 0 1 0 4.2 0a2.1 2.1 0 1 0 -4.2 0M419.35 326.8a2.1 2.1 0 1 0 4.2 0a2.1 2.1 0 1 0 -4.2 0M419.52 327.38a2.1 2.1 0 1 0 4.2 0a2.1 2.1 0 1 0 -4.2 0M419.68 326.9a2.1 2.1 0 1 0 4.2 0a2.1 2.1 0 1 0 -4.2 0M419.85 328.14a2.1 2.1 0 1 0 4.2 0a2.1 2.1 0 1 0 -4.2 0M420.02 328.7a2.1 2.1 0 1 0 4.2 0a2.1 2.1 0 1 0 -4.2 0M420.18 328.62a2.1 2.1 0 1 0 4.2 0a2.1 2.1 0 1 0 -4.2 0M420.35 329.01a2.1 2.1 0 1 0 4.2 0a2.1 2.1 0 1 0 -4.2 0M420.52 327.77a2.1 2.1 0 1 0 4.2 0a2.1 2.1 0 1 0 -4.2 0M420.68 327.92a2.1 2.1 0 1 0 4.2 0a2.1 2.1 0 1 0 -4.2 0M420.85 327.88a2.1 2.1 0 1 0 4.2 0a2.1 2.1 0 1 0 -4.2 0M421.17 329.37a2.1 2.1 0 1 0 4.2 0a2.1 2.1 0 1 0 -4.2 0M421.34 329.59a2.1 2.1 0 1 0 4.2 0a2.1 2.1 0 1 0 -4.2 0M421.5 328.49a2.1 2.1 0 1 0 4.2 0a2.1 2.1 0 1 0 -4.2 0M421.66 329.93a2.1 2.1 0 1 0 4.2 0a2.1 2.1 0 1 0 -4.2 0M421.83 329.35a2.1 2.1 0 1 0 4.2 0a2.1 2.1 0 1 0 -4.2 0M421.99 328.94a2.1 2.1 0 1 0 4.2 0a2.1 2.1 0 1 0 -4.2 0M422.15 328.92a2.1 2.1 0 1 0 4.2 0a2.1 2.1 0 1 0 -4.2 0M422.31 329.1a2.1 2.1 0 1 0 4.2 0a2.1 2.1 0 1 0 -4.2 0M422.47 328.52a2.1 2.1 0 1 0 4.2 0a2.1 2.1 0 1 0 -4.2 0M422.63 328.57a2.1 2.1 0 1 0 4.2 0a2.1 2.1 0 1 0 -4.2 0M422.79 330.03a2.1 2.1 0 1 0 4.2 0a2.1 2.1 0 1 0 -4.2 0M423.11 330.79a2.1 2.1 0 1 0 4.2 0a2.1 2.1 0 1 0 -4.2 0M423.43 330.11a2.1 2.1 0 1 0 4.2 0a2.1 2.1 0 1 0 -4.2 0M423.58 329.77a2.1 2.1 0 1 0 4.2 0a2.1 2.1 0 1 0 -4.2 0M423.74 330.68a2.1 2.1 0 1 0 4.2 0a2.1 2.1 0 1 0 -4.2 0M423.9 331.03a2.1 2.1 0 1 0 4.2 0a2.1 2.1 0 1 0 -4.2 0M424.05 329.92a2.1 2.1 0 1 0 4.2 0a2.1 2.1 0 1 0 -4.2 0M424.36 330.45a2.1 2.1 0 1 0 4.2 0a2.1 2.1 0 1 0 -4.2 0M424.52 331.26a2.1 2.1 0 1 0 4.2 0a2.1 2.1 0 1 0 -4.2 0M424.68 331.23a2.1 2.1 0 1 0 4.2 0a2.1 2.1 0 1 0 -4.2 0M424.83 331.16a2.1 2.1 0 1 0 4.2 0a2.1 2.1 0 1 0 -4.2 0M424.98 330.05a2.1 2.1 0 1 0 4.2 0a2.1 2.1 0 1 0 -4.2 0M425.14 329.98a2.1 2.1 0 1 0 4.2 0a2.1 2.1 0 1 0 -4.2 0M425.29 331.85a2.1 2.1 0 1 0 4.2 0a2.1 2.1 0 1 0 -4.2 0M425.44 330.12a2.1 2.1 0 1 0 4.2 0a2.1 2.1 0 1 0 -4.2 0M425.6 330.25a2.1 2.1 0 1 0 4.2 0a2.1 2.1 0 1 0 -4.2 0M425.75 330.57a2.1 2.1 0 1 0 4.2 0a2.1 2.1 0 1 0 -4.2 0M425.9 331.79a2.1 2.1 0 1 0 4.2 0a2.1 2.1 0 1 0 -4.2 0M426.05 330.37a2.1 2.1 0 1 0 4.2 0a2.1 2.1 0 1 0 -4.2 0M426.2 330.78a2.1 2.1 0 1 0 4.2 0a2.1 2.1 0 1 0 -4.2 0M426.35 332.21a2.1 2.1 0 1 0 4.2 0a2.1 2.1 0 1 0 -4.2 0M426.5 332.5a2.1 2.1 0 1 0 4.2 0a2.1 2.1 0 1 0 -4.2 0M426.65 331.89a2.1 2.1 0 1 0 4.2 0a2.1 2.1 0 1 0 -4.2 0M426.8 331.56a2.1 2.1 0 1 0 4.2 0a2.1 2.1 0 1 0 -4.2 0M426.95 332.76a2.1 2.1 0 1 0 4.2 0a2.1 2.1 0 1 0 -4.2 0M427.1 330.95a2.1 2.1 0 1 0 4.2 0a2.1 2.1 0 1 0 -4.2 0M427.25 331.6a2.1 2.1 0 1 0 4.2 0a2.1 2.1 0 1 0 -4.2 0M427.4 332a2.1 2.1 0 1 0 4.2 0a2.1 2.1 0 1 0 -4.2 0M427.54 332.13a2.1 2.1 0 1 0 4.2 0a2.1 2.1 0 1 0 -4.2 0M427.69 332.99a2.1 2.1 0 1 0 4.2 0a2.1 2.1 0 1 0 -4.2 0M427.84 331.77a2.1 2.1 0 1 0 4.2 0a2.1 2.1 0 1 0 -4.2 0M428.13 333.4a2.1 2.1 0 1 0 4.2 0a2.1 2.1 0 1 0 -4.2 0M428.28 331.88a2.1 2.1 0 1 0 4.2 0a2.1 2.1 0 1 0 -4.2 0M428.42 332.88a2.1 2.1 0 1 0 4.2 0a2.1 2.1 0 1 0 -4.2 0M428.57 331.79a2.1 2.1 0 1 0 4.2 0a2.1 2.1 0 1 0 -4.2 0M428.71 333.06a2.1 2.1 0 1 0 4.2 0a2.1 2.1 0 1 0 -4.2 0M428.86 333.41a2.1 2.1 0 1 0 4.2 0a2.1 2.1 0 1 0 -4.2 0M429.15 333.32a2.1 2.1 0 1 0 4.2 0a2.1 2.1 0 1 0 -4.2 0M429.29 333.93a2.1 2.1 0 1 0 4.2 0a2.1 2.1 0 1 0 -4.2 0M429.43 333.82a2.1 2.1 0 1 0 4.2 0a2.1 2.1 0 1 0 -4.2 0M429.58 333.27a2.1 2.1 0 1 0 4.2 0a2.1 2.1 0 1 0 -4.2 0M429.86 333.26a2.1 2.1 0 1 0 4.2 0a2.1 2.1 0 1 0 -4.2 0M430 334.2a2.1 2.1 0 1 0 4.2 0a2.1 2.1 0 1 0 -4.2 0M430.14 334.5a2.1 2.1 0 1 0 4.2 0a2.1 2.1 0 1 0 -4.2 0M430.29 334.33a2.1 2.1 0 1 0 4.2 0a2.1 2.1 0 1 0 -4.2 0M430.43 332.88a2.1 2.1 0 1 0 4.2 0a2.1 2.1 0 1 0 -4.2 0M430.57 334.51a2.1 2.1 0 1 0 4.2 0a2.1 2.1 0 1 0 -4.2 0M430.71 333.48a2.1 2.1 0 1 0 4.2 0a2.1 2.1 0 1 0 -4.2 0M430.85 333.82a2.1 2.1 0 1 0 4.2 0a2.1 2.1 0 1 0 -4.2 0M431.13 333a2.1 2.1 0 1 0 4.2 0a2.1 2.1 0 1 0 -4.2 0M431.27 334.25a2.1 2.1 0 1 0 4.2 0a2.1 2.1 0 1 0 -4.2 0M431.4 333.22a2.1 2.1 0 1 0 4.2 0a2.1 2.1 0 1 0 -4.2 0M431.54 333.48a2.1 2.1 0 1 0 4.2 0a2.1 2.1 0 1 0 -4.2 0M431.68 333.65a2.1 2.1 0 1 0 4.2 0a2.1 2.1 0 1 0 -4.2 0M431.82 333.46a2.1 2.1 0 1 0 4.2 0a2.1 2.1 0 1 0 -4.2 0M431.96 333.74a2.1 2.1 0 1 0 4.2 0a2.1 2.1 0 1 0 -4.2 0M432.09 333.82a2.1 2.1 0 1 0 4.2 0a2.1 2.1 0 1 0 -4.2 0M432.23 332.04a2.1 2.1 0 1 0 4.2 0a2.1 2.1 0 1 0 -4.2 0M432.37 332.48a2.1 2.1 0 1 0 4.2 0a2.1 2.1 0 1 0 -4.2 0M432.5 333.31a2.1 2.1 0 1 0 4.2 0a2.1 2.1 0 1 0 -4.2 0M432.64 331.9a2.1 2.1 0 1 0 4.2 0a2.1 2.1 0 1 0 -4.2 0M432.77 333.03a2.1 2.1 0 1 0 4.2 0a2.1 2.1 0 1 0 -4.2 0M432.91 331.94a2.1 2.1 0 1 0 4.2 0a2.1 2.1 0 1 0 -4.2 0M433.04 331.97a2.1 2.1 0 1 0 4.2 0a2.1 2.1 0 1 0 -4.2 0M433.18 331.42a2.1 2.1 0 1 0 4.2 0a2.1 2.1 0 1 0 -4.2 0M433.31 332.08a2.1 2.1 0 1 0 4.2 0a2.1 2.1 0 1 0 -4.2 0M433.45 330.85a2.1 2.1 0 1 0 4.2 0a2.1 2.1 0 1 0 -4.2 0M433.58 331.21a2.1 2.1 0 1 0 4.2 0a2.1 2.1 0 1 0 -4.2 0M433.72 331.63a2.1 2.1 0 1 0 4.2 0a2.1 2.1 0 1 0 -4.2 0M433.85 332.17a2.1 2.1 0 1 0 4.2 0a2.1 2.1 0 1 0 -4.2 0M433.98 331.77a2.1 2.1 0 1 0 4.2 0a2.1 2.1 0 1 0 -4.2 0M434.11 331.9a2.1 2.1 0 1 0 4.2 0a2.1 2.1 0 1 0 -4.2 0M434.25 330.99a2.1 2.1 0 1 0 4.2 0a2.1 2.1 0 1 0 -4.2 0M434.38 330.28a2.1 2.1 0 1 0 4.2 0a2.1 2.1 0 1 0 -4.2 0M434.64 330.38a2.1 2.1 0 1 0 4.2 0a2.1 2.1 0 1 0 -4.2 0M434.77 330.68a2.1 2.1 0 1 0 4.2 0a2.1 2.1 0 1 0 -4.2 0M434.9 330.86a2.1 2.1 0 1 0 4.2 0a2.1 2.1 0 1 0 -4.2 0M435.04 329.67a2.1 2.1 0 1 0 4.2 0a2.1 2.1 0 1 0 -4.2 0M435.3 329.71a2.1 2.1 0 1 0 4.2 0a2.1 2.1 0 1 0 -4.2 0M435.56 329.2a2.1 2.1 0 1 0 4.2 0a2.1 2.1 0 1 0 -4.2 0M435.68 329.48a2.1 2.1 0 1 0 4.2 0a2.1 2.1 0 1 0 -4.2 0M435.81 330.02a2.1 2.1 0 1 0 4.2 0a2.1 2.1 0 1 0 -4.2 0M435.94 329.67a2.1 2.1 0 1 0 4.2 0a2.1 2.1 0 1 0 -4.2 0M436.07 329.68a2.1 2.1 0 1 0 4.2 0a2.1 2.1 0 1 0 -4.2 0M436.2 329.59a2.1 2.1 0 1 0 4.2 0a2.1 2.1 0 1 0 -4.2 0M436.33 328.24a2.1 2.1 0 1 0 4.2 0a2.1 2.1 0 1 0 -4.2 0M436.46 328.49a2.1 2.1 0 1 0 4.2 0a2.1 2.1 0 1 0 -4.2 0M436.58 328.57a2.1 2.1 0 1 0 4.2 0a2.1 2.1 0 1 0 -4.2 0M436.71 328.77a2.1 2.1 0 1 0 4.2 0a2.1 2.1 0 1 0 -4.2 0M436.84 328.58a2.1 2.1 0 1 0 4.2 0a2.1 2.1 0 1 0 -4.2 0M436.96 329.23a2.1 2.1 0 1 0 4.2 0a2.1 2.1 0 1 0 -4.2 0M437.09 328.35a2.1 2.1 0 1 0 4.2 0a2.1 2.1 0 1 0 -4.2 0M437.22 328a2.1 2.1 0 1 0 4.2 0a2.1 2.1 0 1 0 -4.2 0M437.34 328.36a2.1 2.1 0 1 0 4.2 0a2.1 2.1 0 1 0 -4.2 0M437.47 327.91a2.1 2.1 0 1 0 4.2 0a2.1 2.1 0 1 0 -4.2 0M437.59 326.79a2.1 2.1 0 1 0 4.2 0a2.1 2.1 0 1 0 -4.2 0M437.84 328.41a2.1 2.1 0 1 0 4.2 0a2.1 2.1 0 1 0 -4.2 0M437.97 326.53a2.1 2.1 0 1 0 4.2 0a2.1 2.1 0 1 0 -4.2 0M438.09 326.71a2.1 2.1 0 1 0 4.2 0a2.1 2.1 0 1 0 -4.2 0M438.22 326.59a2.1 2.1 0 1 0 4.2 0a2.1 2.1 0 1 0 -4.2 0M438.34 326.51a2.1 2.1 0 1 0 4.2 0a2.1 2.1 0 1 0 -4.2 0M438.46 327.64a2.1 2.1 0 1 0 4.2 0a2.1 2.1 0 1 0 -4.2 0M438.59 327.71a2.1 2.1 0 1 0 4.2 0a2.1 2.1 0 1 0 -4.2 0M438.71 326.58a2.1 2.1 0 1 0 4.2 0a2.1 2.1 0 1 0 -4.2 0M438.83 326.12a2.1 2.1 0 1 0 4.2 0a2.1 2.1 0 1 0 -4.2 0M438.95 327.5a2.1 2.1 0 1 0 4.2 0a2.1 2.1 0 1 0 -4.2 0M439.08 327.59a2.1 2.1 0 1 0 4.2 0a2.1 2.1 0 1 0 -4.2 0M439.2 325.61a2.1 2.1 0 1 0 4.2 0a2.1 2.1 0 1 0 -4.2 0M439.32 325.6a2.1 2.1 0 1 0 4.2 0a2.1 2.1 0 1 0 -4.2 0M439.44 326.83a2.1 2.1 0 1 0 4.2 0a2.1 2.1 0 1 0 -4.2 0M439.56 325.59a2.1 2.1 0 1 0 4.2 0a2.1 2.1 0 1 0 -4.2 0M439.69 326.58a2.1 2.1 0 1 0 4.2 0a2.1 2.1 0 1 0 -4.2 0M439.81 325.39a2.1 2.1 0 1 0 4.2 0a2.1 2.1 0 1 0 -4.2 0M439.93 326.98a2.1 2.1 0 1 0 4.2 0a2.1 2.1 0 1 0 -4.2 0M440.05 325.69a2.1 2.1 0 1 0 4.2 0a2.1 2.1 0 1 0 -4.2 0M440.17 326.38a2.1 2.1 0 1 0 4.2 0a2.1 2.1 0 1 0 -4.2 0M440.29 325.46a2.1 2.1 0 1 0 4.2 0a2.1 2.1 0 1 0 -4.2 0M440.41 326.61a2.1 2.1 0 1 0 4.2 0a2.1 2.1 0 1 0 -4.2 0M440.53 325.26a2.1 2.1 0 1 0 4.2 0a2.1 2.1 0 1 0 -4.2 0M440.65 326.28a2.1 2.1 0 1 0 4.2 0a2.1 2.1 0 1 0 -4.2 0M440.76 325.5a2.1 2.1 0 1 0 4.2 0a2.1 2.1 0 1 0 -4.2 0M440.88 326.17a2.1 2.1 0 1 0 4.2 0a2.1 2.1 0 1 0 -4.2 0M441 325.44a2.1 2.1 0 1 0 4.2 0a2.1 2.1 0 1 0 -4.2 0M441.12 325.82a2.1 2.1 0 1 0 4.2 0a2.1 2.1 0 1 0 -4.2 0M441.24 325.38a2.1 2.1 0 1 0 4.2 0a2.1 2.1 0 1 0 -4.2 0M441.36 325.01a2.1 2.1 0 1 0 4.2 0a2.1 2.1 0 1 0 -4.2 0M441.47 324.53a2.1 2.1 0 1 0 4.2 0a2.1 2.1 0 1 0 -4.2 0M441.59 324.5a2.1 2.1 0 1 0 4.2 0a2.1 2.1 0 1 0 -4.2 0M441.71 324.64a2.1 2.1 0 1 0 4.2 0a2.1 2.1 0 1 0 -4.2 0M441.83 323.88a2.1 2.1 0 1 0 4.2 0a2.1 2.1 0 1 0 -4.2 0M441.94 324.69a2.1 2.1 0 1 0 4.2 0a2.1 2.1 0 1 0 -4.2 0M442.06 325.14a2.1 2.1 0 1 0 4.2 0a2.1 2.1 0 1 0 -4.2 0M442.18 323.96a2.1 2.1 0 1 0 4.2 0a2.1 2.1 0 1 0 -4.2 0M442.29 324.54a2.1 2.1 0 1 0 4.2 0a2.1 2.1 0 1 0 -4.2 0M442.41 323.28a2.1 2.1 0 1 0 4.2 0a2.1 2.1 0 1 0 -4.2 0M442.52 324.29a2.1 2.1 0 1 0 4.2 0a2.1 2.1 0 1 0 -4.2 0M442.64 324.97a2.1 2.1 0 1 0 4.2 0a2.1 2.1 0 1 0 -4.2 0M442.75 324.21a2.1 2.1 0 1 0 4.2 0a2.1 2.1 0 1 0 -4.2 0M442.87 322.87a2.1 2.1 0 1 0 4.2 0a2.1 2.1 0 1 0 -4.2 0M442.98 323.77a2.1 2.1 0 1 0 4.2 0a2.1 2.1 0 1 0 -4.2 0M443.1 322.98a2.1 2.1 0 1 0 4.2 0a2.1 2.1 0 1 0 -4.2 0M443.21 323.81a2.1 2.1 0 1 0 4.2 0a2.1 2.1 0 1 0 -4.2 0M443.33 323.24a2.1 2.1 0 1 0 4.2 0a2.1 2.1 0 1 0 -4.2 0M443.44 324.23a2.1 2.1 0 1 0 4.2 0a2.1 2.1 0 1 0 -4.2 0M443.55 323.89a2.1 2.1 0 1 0 4.2 0a2.1 2.1 0 1 0 -4.2 0M443.78 323.31a2.1 2.1 0 1 0 4.2 0a2.1 2.1 0 1 0 -4.2 0M443.89 323.38a2.1 2.1 0 1 0 4.2 0a2.1 2.1 0 1 0 -4.2 0M444.01 322.82a2.1 2.1 0 1 0 4.2 0a2.1 2.1 0 1 0 -4.2 0M444.12 322.54a2.1 2.1 0 1 0 4.2 0a2.1 2.1 0 1 0 -4.2 0M444.23 323.29a2.1 2.1 0 1 0 4.2 0a2.1 2.1 0 1 0 -4.2 0M444.34 323.14a2.1 2.1 0 1 0 4.2 0a2.1 2.1 0 1 0 -4.2 0M444.46 323.55a2.1 2.1 0 1 0 4.2 0a2.1 2.1 0 1 0 -4.2 0M444.57 323.26a2.1 2.1 0 1 0 4.2 0a2.1 2.1 0 1 0 -4.2 0M444.68 322.65a2.1 2.1 0 1 0 4.2 0a2.1 2.1 0 1 0 -4.2 0M444.79 321.51a2.1 2.1 0 1 0 4.2 0a2.1 2.1 0 1 0 -4.2 0M444.9 322.87a2.1 2.1 0 1 0 4.2 0a2.1 2.1 0 1 0 -4.2 0M445.01 322.49a2.1 2.1 0 1 0 4.2 0a2.1 2.1 0 1 0 -4.2 0M445.12 323.36a2.1 2.1 0 1 0 4.2 0a2.1 2.1 0 1 0 -4.2 0M445.23 322.26a2.1 2.1 0 1 0 4.2 0a2.1 2.1 0 1 0 -4.2 0M445.35 322.68a2.1 2.1 0 1 0 4.2 0a2.1 2.1 0 1 0 -4.2 0M445.46 322.93a2.1 2.1 0 1 0 4.2 0a2.1 2.1 0 1 0 -4.2 0M445.57 322.88a2.1 2.1 0 1 0 4.2 0a2.1 2.1 0 1 0 -4.2 0M445.68 323.19a2.1 2.1 0 1 0 4.2 0a2.1 2.1 0 1 0 -4.2 0M445.79 322.98a2.1 2.1 0 1 0 4.2 0a2.1 2.1 0 1 0 -4.2 0M445.89 323.51a2.1 2.1 0 1 0 4.2 0a2.1 2.1 0 1 0 -4.2 0M446 322.51a2.1 2.1 0 1 0 4.2 0a2.1 2.1 0 1 0 -4.2 0M446.11 322.13a2.1 2.1 0 1 0 4.2 0a2.1 2.1 0 1 0 -4.2 0M446.33 323.42a2.1 2.1 0 1 0 4.2 0a2.1 2.1 0 1 0 -4.2 0M446.44 324.21a2.1 2.1 0 1 0 4.2 0a2.1 2.1 0 1 0 -4.2 0M446.55 322.74a2.1 2.1 0 1 0 4.2 0a2.1 2.1 0 1 0 -4.2 0M446.66 323.44a2.1 2.1 0 1 0 4.2 0a2.1 2.1 0 1 0 -4.2 0M446.76 323.34a2.1 2.1 0 1 0 4.2 0a2.1 2.1 0 1 0 -4.2 0M446.87 323.18a2.1 2.1 0 1 0 4.2 0a2.1 2.1 0 1 0 -4.2 0M446.98 322.94a2.1 2.1 0 1 0 4.2 0a2.1 2.1 0 1 0 -4.2 0M447.09 323.61a2.1 2.1 0 1 0 4.2 0a2.1 2.1 0 1 0 -4.2 0M447.19 323.85a2.1 2.1 0 1 0 4.2 0a2.1 2.1 0 1 0 -4.2 0M447.3 324.53a2.1 2.1 0 1 0 4.2 0a2.1 2.1 0 1 0 -4.2 0M447.41 324.78a2.1 2.1 0 1 0 4.2 0a2.1 2.1 0 1 0 -4.2 0M447.51 324.6a2.1 2.1 0 1 0 4.2 0a2.1 2.1 0 1 0 -4.2 0M447.62 324.69a2.1 2.1 0 1 0 4.2 0a2.1 2.1 0 1 0 -4.2 0M447.73 323.17a2.1 2.1 0 1 0 4.2 0a2.1 2.1 0 1 0 -4.2 0M447.83 324a2.1 2.1 0 1 0 4.2 0a2.1 2.1 0 1 0 -4.2 0M447.94 325.16a2.1 2.1 0 1 0 4.2 0a2.1 2.1 0 1 0 -4.2 0M448.04 324.64a2.1 2.1 0 1 0 4.2 0a2.1 2.1 0 1 0 -4.2 0M448.15 324.52a2.1 2.1 0 1 0 4.2 0a2.1 2.1 0 1 0 -4.2 0M448.25 323.74a2.1 2.1 0 1 0 4.2 0a2.1 2.1 0 1 0 -4.2 0M448.36 324.66a2.1 2.1 0 1 0 4.2 0a2.1 2.1 0 1 0 -4.2 0M448.46 324.46a2.1 2.1 0 1 0 4.2 0a2.1 2.1 0 1 0 -4.2 0M448.57 325.11a2.1 2.1 0 1 0 4.2 0a2.1 2.1 0 1 0 -4.2 0M448.78 325.62a2.1 2.1 0 1 0 4.2 0a2.1 2.1 0 1 0 -4.2 0M448.88 324.26a2.1 2.1 0 1 0 4.2 0a2.1 2.1 0 1 0 -4.2 0M448.99 324.93a2.1 2.1 0 1 0 4.2 0a2.1 2.1 0 1 0 -4.2 0M449.09 324.51a2.1 2.1 0 1 0 4.2 0a2.1 2.1 0 1 0 -4.2 0M449.19 324.9a2.1 2.1 0 1 0 4.2 0a2.1 2.1 0 1 0 -4.2 0M449.3 325.95a2.1 2.1 0 1 0 4.2 0a2.1 2.1 0 1 0 -4.2 0M449.4 325.66a2.1 2.1 0 1 0 4.2 0a2.1 2.1 0 1 0 -4.2 0M449.61 324.76a2.1 2.1 0 1 0 4.2 0a2.1 2.1 0 1 0 -4.2 0M449.71 325.71a2.1 2.1 0 1 0 4.2 0a2.1 2.1 0 1 0 -4.2 0M449.81 324.53a2.1 2.1 0 1 0 4.2 0a2.1 2.1 0 1 0 -4.2 0M449.91 324.94a2.1 2.1 0 1 0 4.2 0a2.1 2.1 0 1 0 -4.2 0M450.02 325.23a2.1 2.1 0 1 0 4.2 0a2.1 2.1 0 1 0 -4.2 0M450.12 325.62a2.1 2.1 0 1 0 4.2 0a2.1 2.1 0 1 0 -4.2 0M450.32 326.31a2.1 2.1 0 1 0 4.2 0a2.1 2.1 0 1 0 -4.2 0M450.42 326.94a2.1 2.1 0 1 0 4.2 0a2.1 2.1 0 1 0 -4.2 0M450.53 325.56a2.1 2.1 0 1 0 4.2 0a2.1 2.1 0 1 0 -4.2 0M450.63 326.52a2.1 2.1 0 1 0 4.2 0a2.1 2.1 0 1 0 -4.2 0M450.73 325.66a2.1 2.1 0 1 0 4.2 0a2.1 2.1 0 1 0 -4.2 0M450.83 326.26a2.1 2.1 0 1 0 4.2 0a2.1 2.1 0 1 0 -4.2 0M450.93 326.73a2.1 2.1 0 1 0 4.2 0a2.1 2.1 0 1 0 -4.2 0M451.03 327.18a2.1 2.1 0 1 0 4.2 0a2.1 2.1 0 1 0 -4.2 0M451.13 326.81a2.1 2.1 0 1 0 4.2 0a2.1 2.1 0 1 0 -4.2 0M451.23 327.86a2.1 2.1 0 1 0 4.2 0a2.1 2.1 0 1 0 -4.2 0M451.33 327.78a2.1 2.1 0 1 0 4.2 0a2.1 2.1 0 1 0 -4.2 0M451.43 328a2.1 2.1 0 1 0 4.2 0a2.1 2.1 0 1 0 -4.2 0M451.53 327.14a2.1 2.1 0 1 0 4.2 0a2.1 2.1 0 1 0 -4.2 0M451.63 327.02a2.1 2.1 0 1 0 4.2 0a2.1 2.1 0 1 0 -4.2 0M451.73 328.91a2.1 2.1 0 1 0 4.2 0a2.1 2.1 0 1 0 -4.2 0M451.83 329.2a2.1 2.1 0 1 0 4.2 0a2.1 2.1 0 1 0 -4.2 0M451.93 328.69a2.1 2.1 0 1 0 4.2 0a2.1 2.1 0 1 0 -4.2 0M452.03 328.17a2.1 2.1 0 1 0 4.2 0a2.1 2.1 0 1 0 -4.2 0M452.13 328.81a2.1 2.1 0 1 0 4.2 0a2.1 2.1 0 1 0 -4.2 0M452.23 328.31a2.1 2.1 0 1 0 4.2 0a2.1 2.1 0 1 0 -4.2 0M452.32 328.04a2.1 2.1 0 1 0 4.2 0a2.1 2.1 0 1 0 -4.2 0M452.42 328.8a2.1 2.1 0 1 0 4.2 0a2.1 2.1 0 1 0 -4.2 0M452.52 328.95a2.1 2.1 0 1 0 4.2 0a2.1 2.1 0 1 0 -4.2 0M452.62 330.16a2.1 2.1 0 1 0 4.2 0a2.1 2.1 0 1 0 -4.2 0M452.72 329.42a2.1 2.1 0 1 0 4.2 0a2.1 2.1 0 1 0 -4.2 0M452.81 329.48a2.1 2.1 0 1 0 4.2 0a2.1 2.1 0 1 0 -4.2 0M452.91 330.51a2.1 2.1 0 1 0 4.2 0a2.1 2.1 0 1 0 -4.2 0M453.01 331a2.1 2.1 0 1 0 4.2 0a2.1 2.1 0 1 0 -4.2 0M453.11 329.83a2.1 2.1 0 1 0 4.2 0a2.1 2.1 0 1 0 -4.2 0M453.2 329.34a2.1 2.1 0 1 0 4.2 0a2.1 2.1 0 1 0 -4.2 0M453.3 330.19a2.1 2.1 0 1 0 4.2 0a2.1 2.1 0 1 0 -4.2 0M453.4 331.25a2.1 2.1 0 1 0 4.2 0a2.1 2.1 0 1 0 -4.2 0M453.49 330.04a2.1 2.1 0 1 0 4.2 0a2.1 2.1 0 1 0 -4.2 0M453.59 331.31a2.1 2.1 0 1 0 4.2 0a2.1 2.1 0 1 0 -4.2 0M453.69 331.41a2.1 2.1 0 1 0 4.2 0a2.1 2.1 0 1 0 -4.2 0M453.78 330.61a2.1 2.1 0 1 0 4.2 0a2.1 2.1 0 1 0 -4.2 0M453.88 330.8a2.1 2.1 0 1 0 4.2 0a2.1 2.1 0 1 0 -4.2 0M454.07 330.91a2.1 2.1 0 1 0 4.2 0a2.1 2.1 0 1 0 -4.2 0M454.17 332.85a2.1 2.1 0 1 0 4.2 0a2.1 2.1 0 1 0 -4.2 0M454.26 332.54a2.1 2.1 0 1 0 4.2 0a2.1 2.1 0 1 0 -4.2 0M454.36 331.98a2.1 2.1 0 1 0 4.2 0a2.1 2.1 0 1 0 -4.2 0M454.45 332.84a2.1 2.1 0 1 0 4.2 0a2.1 2.1 0 1 0 -4.2 0M454.55 331.73a2.1 2.1 0 1 0 4.2 0a2.1 2.1 0 1 0 -4.2 0M454.64 332.11a2.1 2.1 0 1 0 4.2 0a2.1 2.1 0 1 0 -4.2 0M454.74 332.22a2.1 2.1 0 1 0 4.2 0a2.1 2.1 0 1 0 -4.2 0M454.83 331.99a2.1 2.1 0 1 0 4.2 0a2.1 2.1 0 1 0 -4.2 0M454.93 332.62a2.1 2.1 0 1 0 4.2 0a2.1 2.1 0 1 0 -4.2 0M455.02 332.25a2.1 2.1 0 1 0 4.2 0a2.1 2.1 0 1 0 -4.2 0M455.11 333.17a2.1 2.1 0 1 0 4.2 0a2.1 2.1 0 1 0 -4.2 0M455.21 333.75a2.1 2.1 0 1 0 4.2 0a2.1 2.1 0 1 0 -4.2 0M455.3 332.89a2.1 2.1 0 1 0 4.2 0a2.1 2.1 0 1 0 -4.2 0M455.4 331.92a2.1 2.1 0 1 0 4.2 0a2.1 2.1 0 1 0 -4.2 0M455.49 332.51a2.1 2.1 0 1 0 4.2 0a2.1 2.1 0 1 0 -4.2 0M455.58 333.01a2.1 2.1 0 1 0 4.2 0a2.1 2.1 0 1 0 -4.2 0M455.68 333.38a2.1 2.1 0 1 0 4.2 0a2.1 2.1 0 1 0 -4.2 0M455.77 333.21a2.1 2.1 0 1 0 4.2 0a2.1 2.1 0 1 0 -4.2 0M455.86 333.15a2.1 2.1 0 1 0 4.2 0a2.1 2.1 0 1 0 -4.2 0M455.96 331.86a2.1 2.1 0 1 0 4.2 0a2.1 2.1 0 1 0 -4.2 0M456.05 332.55a2.1 2.1 0 1 0 4.2 0a2.1 2.1 0 1 0 -4.2 0M456.14 332.24a2.1 2.1 0 1 0 4.2 0a2.1 2.1 0 1 0 -4.2 0M456.23 331.05a2.1 2.1 0 1 0 4.2 0a2.1 2.1 0 1 0 -4.2 0M456.33 332.27a2.1 2.1 0 1 0 4.2 0a2.1 2.1 0 1 0 -4.2 0M456.42 331.52a2.1 2.1 0 1 0 4.2 0a2.1 2.1 0 1 0 -4.2 0M456.51 332.05a2.1 2.1 0 1 0 4.2 0a2.1 2.1 0 1 0 -4.2 0M456.6 331.89a2.1 2.1 0 1 0 4.2 0a2.1 2.1 0 1 0 -4.2 0M456.69 331.71a2.1 2.1 0 1 0 4.2 0a2.1 2.1 0 1 0 -4.2 0M456.79 331.59a2.1 2.1 0 1 0 4.2 0a2.1 2.1 0 1 0 -4.2 0M456.88 332.16a2.1 2.1 0 1 0 4.2 0a2.1 2.1 0 1 0 -4.2 0M456.97 331a2.1 2.1 0 1 0 4.2 0a2.1 2.1 0 1 0 -4.2 0M457.06 331.09a2.1 2.1 0 1 0 4.2 0a2.1 2.1 0 1 0 -4.2 0M457.15 331.9a2.1 2.1 0 1 0 4.2 0a2.1 2.1 0 1 0 -4.2 0M457.24 330.06a2.1 2.1 0 1 0 4.2 0a2.1 2.1 0 1 0 -4.2 0M457.33 329.94a2.1 2.1 0 1 0 4.2 0a2.1 2.1 0 1 0 -4.2 0M457.42 331.3a2.1 2.1 0 1 0 4.2 0a2.1 2.1 0 1 0 -4.2 0M457.51 331.07a2.1 2.1 0 1 0 4.2 0a2.1 2.1 0 1 0 -4.2 0M457.6 330.09a2.1 2.1 0 1 0 4.2 0a2.1 2.1 0 1 0 -4.2 0M457.69 330.55a2.1 2.1 0 1 0 4.2 0a2.1 2.1 0 1 0 -4.2 0M457.78 330.34a2.1 2.1 0 1 0 4.2 0a2.1 2.1 0 1 0 -4.2 0M457.87 329.85a2.1 2.1 0 1 0 4.2 0a2.1 2.1 0 1 0 -4.2 0M458.05 330.68a2.1 2.1 0 1 0 4.2 0a2.1 2.1 0 1 0 -4.2 0M458.14 330.14a2.1 2.1 0 1 0 4.2 0a2.1 2.1 0 1 0 -4.2 0M458.23 329.39a2.1 2.1 0 1 0 4.2 0a2.1 2.1 0 1 0 -4.2 0M458.32 329.16a2.1 2.1 0 1 0 4.2 0a2.1 2.1 0 1 0 -4.2 0M458.41 329.1a2.1 2.1 0 1 0 4.2 0a2.1 2.1 0 1 0 -4.2 0M458.5 329.14a2.1 2.1 0 1 0 4.2 0a2.1 2.1 0 1 0 -4.2 0M458.59 329.34a2.1 2.1 0 1 0 4.2 0a2.1 2.1 0 1 0 -4.2 0M458.68 330.53a2.1 2.1 0 1 0 4.2 0a2.1 2.1 0 1 0 -4.2 0M458.77 329.75a2.1 2.1 0 1 0 4.2 0a2.1 2.1 0 1 0 -4.2 0M458.85 328.96a2.1 2.1 0 1 0 4.2 0a2.1 2.1 0 1 0 -4.2 0M458.94 329.82a2.1 2.1 0 1 0 4.2 0a2.1 2.1 0 1 0 -4.2 0M459.03 330.09a2.1 2.1 0 1 0 4.2 0a2.1 2.1 0 1 0 -4.2 0M459.12 328.93a2.1 2.1 0 1 0 4.2 0a2.1 2.1 0 1 0 -4.2 0M459.21 328.48a2.1 2.1 0 1 0 4.2 0a2.1 2.1 0 1 0 -4.2 0M459.3 327.93a2.1 2.1 0 1 0 4.2 0a2.1 2.1 0 1 0 -4.2 0M459.38 328.38a2.1 2.1 0 1 0 4.2 0a2.1 2.1 0 1 0 -4.2 0M459.47 328.86a2.1 2.1 0 1 0 4.2 0a2.1 2.1 0 1 0 -4.2 0M459.56 329.61a2.1 2.1 0 1 0 4.2 0a2.1 2.1 0 1 0 -4.2 0M459.65 328.21a2.1 2.1 0 1 0 4.2 0a2.1 2.1 0 1 0 -4.2 0M459.73 327.69a2.1 2.1 0 1 0 4.2 0a2.1 2.1 0 1 0 -4.2 0M459.82 328.36a2.1 2.1 0 1 0 4.2 0a2.1 2.1 0 1 0 -4.2 0M459.99 329.04a2.1 2.1 0 1 0 4.2 0a2.1 2.1 0 1 0 -4.2 0M460.08 328.48a2.1 2.1 0 1 0 4.2 0a2.1 2.1 0 1 0 -4.2 0M460.17 327.93a2.1 2.1 0 1 0 4.2 0a2.1 2.1 0 1 0 -4.2 0M460.25 327.51a2.1 2.1 0 1 0 4.2 0a2.1 2.1 0 1 0 -4.2 0M460.34 328.48a2.1 2.1 0 1 0 4.2 0a2.1 2.1 0 1 0 -4.2 0M460.43 327.45a2.1 2.1 0 1 0 4.2 0a2.1 2.1 0 1 0 -4.2 0M460.51 327.94a2.1 2.1 0 1 0 4.2 0a2.1 2.1 0 1 0 -4.2 0M460.6 328.01a2.1 2.1 0 1 0 4.2 0a2.1 2.1 0 1 0 -4.2 0M460.69 328.73a2.1 2.1 0 1 0 4.2 0a2.1 2.1 0 1 0 -4.2 0M460.77 327.72a2.1 2.1 0 1 0 4.2 0a2.1 2.1 0 1 0 -4.2 0M460.86 328.86a2.1 2.1 0 1 0 4.2 0a2.1 2.1 0 1 0 -4.2 0M460.94 328.28a2.1 2.1 0 1 0 4.2 0a2.1 2.1 0 1 0 -4.2 0M461.03 327.34a2.1 2.1 0 1 0 4.2 0a2.1 2.1 0 1 0 -4.2 0M461.28 328.74a2.1 2.1 0 1 0 4.2 0a2.1 2.1 0 1 0 -4.2 0M461.37 327.3a2.1 2.1 0 1 0 4.2 0a2.1 2.1 0 1 0 -4.2 0M461.45 328.18a2.1 2.1 0 1 0 4.2 0a2.1 2.1 0 1 0 -4.2 0M461.54 328.8a2.1 2.1 0 1 0 4.2 0a2.1 2.1 0 1 0 -4.2 0M461.62 327.32a2.1 2.1 0 1 0 4.2 0a2.1 2.1 0 1 0 -4.2 0M461.79 327.16a2.1 2.1 0 1 0 4.2 0a2.1 2.1 0 1 0 -4.2 0M461.88 328.41a2.1 2.1 0 1 0 4.2 0a2.1 2.1 0 1 0 -4.2 0M461.96 328.68a2.1 2.1 0 1 0 4.2 0a2.1 2.1 0 1 0 -4.2 0M462.04 327.26a2.1 2.1 0 1 0 4.2 0a2.1 2.1 0 1 0 -4.2 0M462.13 327.69a2.1 2.1 0 1 0 4.2 0a2.1 2.1 0 1 0 -4.2 0M462.21 327.26a2.1 2.1 0 1 0 4.2 0a2.1 2.1 0 1 0 -4.2 0M462.3 327.65a2.1 2.1 0 1 0 4.2 0a2.1 2.1 0 1 0 -4.2 0M462.38 327.14a2.1 2.1 0 1 0 4.2 0a2.1 2.1 0 1 0 -4.2 0M462.46 327.65a2.1 2.1 0 1 0 4.2 0a2.1 2.1 0 1 0 -4.2 0M462.55 327.47a2.1 2.1 0 1 0 4.2 0a2.1 2.1 0 1 0 -4.2 0M462.63 327.26a2.1 2.1 0 1 0 4.2 0a2.1 2.1 0 1 0 -4.2 0M462.71 328.26a2.1 2.1 0 1 0 4.2 0a2.1 2.1 0 1 0 -4.2 0M462.8 327.27a2.1 2.1 0 1 0 4.2 0a2.1 2.1 0 1 0 -4.2 0M462.88 328.3a2.1 2.1 0 1 0 4.2 0a2.1 2.1 0 1 0 -4.2 0M462.96 327.18a2.1 2.1 0 1 0 4.2 0a2.1 2.1 0 1 0 -4.2 0M463.04 328.03a2.1 2.1 0 1 0 4.2 0a2.1 2.1 0 1 0 -4.2 0M463.13 327.83a2.1 2.1 0 1 0 4.2 0a2.1 2.1 0 1 0 -4.2 0M463.21 329.12a2.1 2.1 0 1 0 4.2 0a2.1 2.1 0 1 0 -4.2 0M463.29 328.45a2.1 2.1 0 1 0 4.2 0a2.1 2.1 0 1 0 -4.2 0M463.46 329.11a2.1 2.1 0 1 0 4.2 0a2.1 2.1 0 1 0 -4.2 0M463.54 328.5a2.1 2.1 0 1 0 4.2 0a2.1 2.1 0 1 0 -4.2 0M463.7 328.85a2.1 2.1 0 1 0 4.2 0a2.1 2.1 0 1 0 -4.2 0M463.78 328.49a2.1 2.1 0 1 0 4.2 0a2.1 2.1 0 1 0 -4.2 0M463.87 327.2a2.1 2.1 0 1 0 4.2 0a2.1 2.1 0 1 0 -4.2 0M463.95 328.44a2.1 2.1 0 1 0 4.2 0a2.1 2.1 0 1 0 -4.2 0M464.03 327.39a2.1 2.1 0 1 0 4.2 0a2.1 2.1 0 1 0 -4.2 0M464.11 326.74a2.1 2.1 0 1 0 4.2 0a2.1 2.1 0 1 0 -4.2 0M464.19 328.67a2.1 2.1 0 1 0 4.2 0a2.1 2.1 0 1 0 -4.2 0M464.27 327.18a2.1 2.1 0 1 0 4.2 0a2.1 2.1 0 1 0 -4.2 0M464.35 328.29a2.1 2.1 0 1 0 4.2 0a2.1 2.1 0 1 0 -4.2 0M464.43 328.12a2.1 2.1 0 1 0 4.2 0a2.1 2.1 0 1 0 -4.2 0M464.51 327.81a2.1 2.1 0 1 0 4.2 0a2.1 2.1 0 1 0 -4.2 0M464.59 326.5a2.1 2.1 0 1 0 4.2 0a2.1 2.1 0 1 0 -4.2 0M464.76 328.05a2.1 2.1 0 1 0 4.2 0a2.1 2.1 0 1 0 -4.2 0M464.84 326.57a2.1 2.1 0 1 0 4.2 0a2.1 2.1 0 1 0 -4.2 0M464.92 327.94a2.1 2.1 0 1 0 4.2 0a2.1 2.1 0 1 0 -4.2 0M465 327.32a2.1 2.1 0 1 0 4.2 0a2.1 2.1 0 1 0 -4.2 0M465.08 325.96a2.1 2.1 0 1 0 4.2 0a2.1 2.1 0 1 0 -4.2 0M465.16 326.14a2.1 2.1 0 1 0 4.2 0a2.1 2.1 0 1 0 -4.2 0M465.24 327.63a2.1 2.1 0 1 0 4.2 0a2.1 2.1 0 1 0 -4.2 0M465.32 326.64a2.1 2.1 0 1 0 4.2 0a2.1 2.1 0 1 0 -4.2 0M465.4 326.88a2.1 2.1 0 1 0 4.2 0a2.1 2.1 0 1 0 -4.2 0M465.47 326.29a2.1 2.1 0 1 0 4.2 0a2.1 2.1 0 1 0 -4.2 0M465.55 325.86a2.1 2.1 0 1 0 4.2 0a2.1 2.1 0 1 0 -4.2 0M465.63 326.41a2.1 2.1 0 1 0 4.2 0a2.1 2.1 0 1 0 -4.2 0M465.71 325.58a2.1 2.1 0 1 0 4.2 0a2.1 2.1 0 1 0 -4.2 0M465.79 325.59a2.1 2.1 0 1 0 4.2 0a2.1 2.1 0 1 0 -4.2 0M465.87 327.01a2.1 2.1 0 1 0 4.2 0a2.1 2.1 0 1 0 -4.2 0M465.95 327.17a2.1 2.1 0 1 0 4.2 0a2.1 2.1 0 1 0 -4.2 0M466.03 326.82a2.1 2.1 0 1 0 4.2 0a2.1 2.1 0 1 0 -4.2 0M466.11 326.12a2.1 2.1 0 1 0 4.2 0a2.1 2.1 0 1 0 -4.2 0M466.19 325.68a2.1 2.1 0 1 0 4.2 0a2.1 2.1 0 1 0 -4.2 0M466.26 325.29a2.1 2.1 0 1 0 4.2 0a2.1 2.1 0 1 0 -4.2 0M466.34 325.48a2.1 2.1 0 1 0 4.2 0a2.1 2.1 0 1 0 -4.2 0M466.58 325.44a2.1 2.1 0 1 0 4.2 0a2.1 2.1 0 1 0 -4.2 0M466.65 325.89a2.1 2.1 0 1 0 4.2 0a2.1 2.1 0 1 0 -4.2 0M466.73 325.3a2.1 2.1 0 1 0 4.2 0a2.1 2.1 0 1 0 -4.2 0M466.81 324.88a2.1 2.1 0 1 0 4.2 0a2.1 2.1 0 1 0 -4.2 0M466.89 324.78a2.1 2.1 0 1 0 4.2 0a2.1 2.1 0 1 0 -4.2 0M466.97 324.99a2.1 2.1 0 1 0 4.2 0a2.1 2.1 0 1 0 -4.2 0M467.04 325.02a2.1 2.1 0 1 0 4.2 0a2.1 2.1 0 1 0 -4.2 0M467.12 326.18a2.1 2.1 0 1 0 4.2 0a2.1 2.1 0 1 0 -4.2 0M467.2 325.59a2.1 2.1 0 1 0 4.2 0a2.1 2.1 0 1 0 -4.2 0M467.27 325.27a2.1 2.1 0 1 0 4.2 0a2.1 2.1 0 1 0 -4.2 0M467.35 325.51a2.1 2.1 0 1 0 4.2 0a2.1 2.1 0 1 0 -4.2 0M467.43 325.66a2.1 2.1 0 1 0 4.2 0a2.1 2.1 0 1 0 -4.2 0M467.51 325.24a2.1 2.1 0 1 0 4.2 0a2.1 2.1 0 1 0 -4.2 0M467.58 324.25a2.1 2.1 0 1 0 4.2 0a2.1 2.1 0 1 0 -4.2 0M467.66 325.33a2.1 2.1 0 1 0 4.2 0a2.1 2.1 0 1 0 -4.2 0M467.74 323.91a2.1 2.1 0 1 0 4.2 0a2.1 2.1 0 1 0 -4.2 0M467.81 325.74a2.1 2.1 0 1 0 4.2 0a2.1 2.1 0 1 0 -4.2 0M467.89 324.83a2.1 2.1 0 1 0 4.2 0a2.1 2.1 0 1 0 -4.2 0M467.96 324.28a2.1 2.1 0 1 0 4.2 0a2.1 2.1 0 1 0 -4.2 0M468.04 324.27a2.1 2.1 0 1 0 4.2 0a2.1 2.1 0 1 0 -4.2 0M468.12 325.83a2.1 2.1 0 1 0 4.2 0a2.1 2.1 0 1 0 -4.2 0M468.35 324.88a2.1 2.1 0 1 0 4.2 0a2.1 2.1 0 1 0 -4.2 0M468.42 325.9a2.1 2.1 0 1 0 4.2 0a2.1 2.1 0 1 0 -4.2 0M468.5 325.34a2.1 2.1 0 1 0 4.2 0a2.1 2.1 0 1 0 -4.2 0M468.57 325.63a2.1 2.1 0 1 0 4.2 0a2.1 2.1 0 1 0 -4.2 0M468.65 326.06a2.1 2.1 0 1 0 4.2 0a2.1 2.1 0 1 0 -4.2 0M468.72 325.56a2.1 2.1 0 1 0 4.2 0a2.1 2.1 0 1 0 -4.2 0M468.8 325.5a2.1 2.1 0 1 0 4.2 0a2.1 2.1 0 1 0 -4.2 0M468.87 325.26a2.1 2.1 0 1 0 4.2 0a2.1 2.1 0 1 0 -4.2 0M468.95 325.8a2.1 2.1 0 1 0 4.2 0a2.1 2.1 0 1 0 -4.2 0M469.02 326.41a2.1 2.1 0 1 0 4.2 0a2.1 2.1 0 1 0 -4.2 0M469.1 325.94a2.1 2.1 0 1 0 4.2 0a2.1 2.1 0 1 0 -4.2 0M469.17 325.26a2.1 2.1 0 1 0 4.2 0a2.1 2.1 0 1 0 -4.2 0M469.25 326.72a2.1 2.1 0 1 0 4.2 0a2.1 2.1 0 1 0 -4.2 0M469.32 325.73a2.1 2.1 0 1 0 4.2 0a2.1 2.1 0 1 0 -4.2 0M469.4 326.8a2.1 2.1 0 1 0 4.2 0a2.1 2.1 0 1 0 -4.2 0M469.47 325.15a2.1 2.1 0 1 0 4.2 0a2.1 2.1 0 1 0 -4.2 0M469.55 326.56a2.1 2.1 0 1 0 4.2 0a2.1 2.1 0 1 0 -4.2 0M469.62 325.93a2.1 2.1 0 1 0 4.2 0a2.1 2.1 0 1 0 -4.2 0M469.69 326.89a2.1 2.1 0 1 0 4.2 0a2.1 2.1 0 1 0 -4.2 0M469.77 326.02a2.1 2.1 0 1 0 4.2 0a2.1 2.1 0 1 0 -4.2 0M469.84 325.58a2.1 2.1 0 1 0 4.2 0a2.1 2.1 0 1 0 -4.2 0M469.99 325.7a2.1 2.1 0 1 0 4.2 0a2.1 2.1 0 1 0 -4.2 0M470.06 325.55a2.1 2.1 0 1 0 4.2 0a2.1 2.1 0 1 0 -4.2 0M470.14 327.41a2.1 2.1 0 1 0 4.2 0a2.1 2.1 0 1 0 -4.2 0M470.21 325.85a2.1 2.1 0 1 0 4.2 0a2.1 2.1 0 1 0 -4.2 0M470.28 327.44a2.1 2.1 0 1 0 4.2 0a2.1 2.1 0 1 0 -4.2 0M470.36 325.83a2.1 2.1 0 1 0 4.2 0a2.1 2.1 0 1 0 -4.2 0M470.5 326.26a2.1 2.1 0 1 0 4.2 0a2.1 2.1 0 1 0 -4.2 0M470.58 326.54a2.1 2.1 0 1 0 4.2 0a2.1 2.1 0 1 0 -4.2 0M470.65 326.34a2.1 2.1 0 1 0 4.2 0a2.1 2.1 0 1 0 -4.2 0M470.72 327.71a2.1 2.1 0 1 0 4.2 0a2.1 2.1 0 1 0 -4.2 0M470.8 326.19a2.1 2.1 0 1 0 4.2 0a2.1 2.1 0 1 0 -4.2 0M470.87 327.83a2.1 2.1 0 1 0 4.2 0a2.1 2.1 0 1 0 -4.2 0M470.94 327.58a2.1 2.1 0 1 0 4.2 0a2.1 2.1 0 1 0 -4.2 0M471.09 326.78a2.1 2.1 0 1 0 4.2 0a2.1 2.1 0 1 0 -4.2 0M471.16 327.44a2.1 2.1 0 1 0 4.2 0a2.1 2.1 0 1 0 -4.2 0M471.3 327.33a2.1 2.1 0 1 0 4.2 0a2.1 2.1 0 1 0 -4.2 0M471.38 326.88a2.1 2.1 0 1 0 4.2 0a2.1 2.1 0 1 0 -4.2 0M471.45 326.76a2.1 2.1 0 1 0 4.2 0a2.1 2.1 0 1 0 -4.2 0M471.59 328.01a2.1 2.1 0 1 0 4.2 0a2.1 2.1 0 1 0 -4.2 0M471.66 328.54a2.1 2.1 0 1 0 4.2 0a2.1 2.1 0 1 0 -4.2 0M471.81 328.52a2.1 2.1 0 1 0 4.2 0a2.1 2.1 0 1 0 -4.2 0M471.88 327.3a2.1 2.1 0 1 0 4.2 0a2.1 2.1 0 1 0 -4.2 0M471.95 328.7a2.1 2.1 0 1 0 4.2 0a2.1 2.1 0 1 0 -4.2 0M472.02 327.4a2.1 2.1 0 1 0 4.2 0a2.1 2.1 0 1 0 -4.2 0M472.09 328.99a2.1 2.1 0 1 0 4.2 0a2.1 2.1 0 1 0 -4.2 0M472.16 327.65a2.1 2.1 0 1 0 4.2 0a2.1 2.1 0 1 0 -4.2 0M472.24 328.6a2.1 2.1 0 1 0 4.2 0a2.1 2.1 0 1 0 -4.2 0M472.31 327.85a2.1 2.1 0 1 0 4.2 0a2.1 2.1 0 1 0 -4.2 0M472.45 327.95a2.1 2.1 0 1 0 4.2 0a2.1 2.1 0 1 0 -4.2 0M472.52 329.19a2.1 2.1 0 1 0 4.2 0a2.1 2.1 0 1 0 -4.2 0M472.59 329.35a2.1 2.1 0 1 0 4.2 0a2.1 2.1 0 1 0 -4.2 0M472.66 328.68a2.1 2.1 0 1 0 4.2 0a2.1 2.1 0 1 0 -4.2 0M472.73 327.67a2.1 2.1 0 1 0 4.2 0a2.1 2.1 0 1 0 -4.2 0M472.8 328.63a2.1 2.1 0 1 0 4.2 0a2.1 2.1 0 1 0 -4.2 0M472.87 329.09a2.1 2.1 0 1 0 4.2 0a2.1 2.1 0 1 0 -4.2 0M472.94 328.73a2.1 2.1 0 1 0 4.2 0a2.1 2.1 0 1 0 -4.2 0M473.01 328.08a2.1 2.1 0 1 0 4.2 0a2.1 2.1 0 1 0 -4.2 0M473.08 329.41a2.1 2.1 0 1 0 4.2 0a2.1 2.1 0 1 0 -4.2 0M473.15 329.66a2.1 2.1 0 1 0 4.2 0a2.1 2.1 0 1 0 -4.2 0M473.22 328.13a2.1 2.1 0 1 0 4.2 0a2.1 2.1 0 1 0 -4.2 0M473.29 329.21a2.1 2.1 0 1 0 4.2 0a2.1 2.1 0 1 0 -4.2 0M473.43 329.6a2.1 2.1 0 1 0 4.2 0a2.1 2.1 0 1 0 -4.2 0M473.5 329.82a2.1 2.1 0 1 0 4.2 0a2.1 2.1 0 1 0 -4.2 0M473.57 328.65a2.1 2.1 0 1 0 4.2 0a2.1 2.1 0 1 0 -4.2 0M473.71 330.05a2.1 2.1 0 1 0 4.2 0a2.1 2.1 0 1 0 -4.2 0M473.78 329.17a2.1 2.1 0 1 0 4.2 0a2.1 2.1 0 1 0 -4.2 0M473.85 328.86a2.1 2.1 0 1 0 4.2 0a2.1 2.1 0 1 0 -4.2 0M473.92 329.96a2.1 2.1 0 1 0 4.2 0a2.1 2.1 0 1 0 -4.2 0M473.99 328.9a2.1 2.1 0 1 0 4.2 0a2.1 2.1 0 1 0 -4.2 0M474.06 330.79a2.1 2.1 0 1 0 4.2 0a2.1 2.1 0 1 0 -4.2 0M474.13 329.35a2.1 2.1 0 1 0 4.2 0a2.1 2.1 0 1 0 -4.2 0M474.2 329.41a2.1 2.1 0 1 0 4.2 0a2.1 2.1 0 1 0 -4.2 0M474.26 330.71a2.1 2.1 0 1 0 4.2 0a2.1 2.1 0 1 0 -4.2 0M474.33 330.74a2.1 2.1 0 1 0 4.2 0a2.1 2.1 0 1 0 -4.2 0M474.47 331.19a2.1 2.1 0 1 0 4.2 0a2.1 2.1 0 1 0 -4.2 0M474.54 329.9a2.1 2.1 0 1 0 4.2 0a2.1 2.1 0 1 0 -4.2 0M474.61 330.21a2.1 2.1 0 1 0 4.2 0a2.1 2.1 0 1 0 -4.2 0M474.68 330.11a2.1 2.1 0 1 0 4.2 0a2.1 2.1 0 1 0 -4.2 0M474.74 330.49a2.1 2.1 0 1 0 4.2 0a2.1 2.1 0 1 0 -4.2 0M474.81 331.34a2.1 2.1 0 1 0 4.2 0a2.1 2.1 0 1 0 -4.2 0M474.88 331.78a2.1 2.1 0 1 0 4.2 0a2.1 2.1 0 1 0 -4.2 0M474.95 331.51a2.1 2.1 0 1 0 4.2 0a2.1 2.1 0 1 0 -4.2 0M475.02 330.52a2.1 2.1 0 1 0 4.2 0a2.1 2.1 0 1 0 -4.2 0M475.08 332.16a2.1 2.1 0 1 0 4.2 0a2.1 2.1 0 1 0 -4.2 0M475.15 331.2a2.1 2.1 0 1 0 4.2 0a2.1 2.1 0 1 0 -4.2 0M475.22 331.71a2.1 2.1 0 1 0 4.2 0a2.1 2.1 0 1 0 -4.2 0M475.29 331.86a2.1 2.1 0 1 0 4.2 0a2.1 2.1 0 1 0 -4.2 0M475.42 331.41a2.1 2.1 0 1 0 4.2 0a2.1 2.1 0 1 0 -4.2 0M475.49 332.35a2.1 2.1 0 1 0 4.2 0a2.1 2.1 0 1 0 -4.2 0M475.56 332.45a2.1 2.1 0 1 0 4.2 0a2.1 2.1 0 1 0 -4.2 0M475.62 331.13a2.1 2.1 0 1 0 4.2 0a2.1 2.1 0 1 0 -4.2 0M475.69 331.4a2.1 2.1 0 1 0 4.2 0a2.1 2.1 0 1 0 -4.2 0M475.76 332.29a2.1 2.1 0 1 0 4.2 0a2.1 2.1 0 1 0 -4.2 0M475.83 332.6a2.1 2.1 0 1 0 4.2 0a2.1 2.1 0 1 0 -4.2 0M475.89 332a2.1 2.1 0 1 0 4.2 0a2.1 2.1 0 1 0 -4.2 0M475.96 331.37a2.1 2.1 0 1 0 4.2 0a2.1 2.1 0 1 0 -4.2 0M476.03 331.75a2.1 2.1 0 1 0 4.2 0a2.1 2.1 0 1 0 -4.2 0M476.09 332.53a2.1 2.1 0 1 0 4.2 0a2.1 2.1 0 1 0 -4.2 0M476.16 332.22a2.1 2.1 0 1 0 4.2 0a2.1 2.1 0 1 0 -4.2 0M476.23 332.86a2.1 2.1 0 1 0 4.2 0a2.1 2.1 0 1 0 -4.2 0M476.29 332.23a2.1 2.1 0 1 0 4.2 0a2.1 2.1 0 1 0 -4.2 0M476.36 332.7a2.1 2.1 0 1 0 4.2 0a2.1 2.1 0 1 0 -4.2 0M476.43 333.78a2.1 2.1 0 1 0 4.2 0a2.1 2.1 0 1 0 -4.2 0M476.49 332.55a2.1 2.1 0 1 0 4.2 0a2.1 2.1 0 1 0 -4.2 0M476.56 332.23a2.1 2.1 0 1 0 4.2 0a2.1 2.1 0 1 0 -4.2 0M476.63 333.1a2.1 2.1 0 1 0 4.2 0a2.1 2.1 0 1 0 -4.2 0M476.69 333.84a2.1 2.1 0 1 0 4.2 0a2.1 2.1 0 1 0 -4.2 0M476.82 333.94a2.1 2.1 0 1 0 4.2 0a2.1 2.1 0 1 0 -4.2 0M476.89 332.7a2.1 2.1 0 1 0 4.2 0a2.1 2.1 0 1 0 -4.2 0M476.96 333a2.1 2.1 0 1 0 4.2 0a2.1 2.1 0 1 0 -4.2 0M477.02 333.97a2.1 2.1 0 1 0 4.2 0a2.1 2.1 0 1 0 -4.2 0M477.09 334.04a2.1 2.1 0 1 0 4.2 0a2.1 2.1 0 1 0 -4.2 0M477.15 334.48a2.1 2.1 0 1 0 4.2 0a2.1 2.1 0 1 0 -4.2 0M477.22 333.93a2.1 2.1 0 1 0 4.2 0a2.1 2.1 0 1 0 -4.2 0M477.28 332.96a2.1 2.1 0 1 0 4.2 0a2.1 2.1 0 1 0 -4.2 0M477.35 333.54a2.1 2.1 0 1 0 4.2 0a2.1 2.1 0 1 0 -4.2 0M477.42 333.3a2.1 2.1 0 1 0 4.2 0a2.1 2.1 0 1 0 -4.2 0M477.48 335.18a2.1 2.1 0 1 0 4.2 0a2.1 2.1 0 1 0 -4.2 0M477.55 333.57a2.1 2.1 0 1 0 4.2 0a2.1 2.1 0 1 0 -4.2 0M477.61 333.73a2.1 2.1 0 1 0 4.2 0a2.1 2.1 0 1 0 -4.2 0M477.68 334.06a2.1 2.1 0 1 0 4.2 0a2.1 2.1 0 1 0 -4.2 0M477.74 335.57a2.1 2.1 0 1 0 4.2 0a2.1 2.1 0 1 0 -4.2 0M477.81 334.2a2.1 2.1 0 1 0 4.2 0a2.1 2.1 0 1 0 -4.2 0M477.87 334.1a2.1 2.1 0 1 0 4.2 0a2.1 2.1 0 1 0 -4.2 0M477.94 334.71a2.1 2.1 0 1 0 4.2 0a2.1 2.1 0 1 0 -4.2 0M478 335.3a2.1 2.1 0 1 0 4.2 0a2.1 2.1 0 1 0 -4.2 0M478.07 335.77a2.1 2.1 0 1 0 4.2 0a2.1 2.1 0 1 0 -4.2 0M478.13 334.81a2.1 2.1 0 1 0 4.2 0a2.1 2.1 0 1 0 -4.2 0M478.19 335.51a2.1 2.1 0 1 0 4.2 0a2.1 2.1 0 1 0 -4.2 0M478.26 336.84a2.1 2.1 0 1 0 4.2 0a2.1 2.1 0 1 0 -4.2 0M478.32 338.34a2.1 2.1 0 1 0 4.2 0a2.1 2.1 0 1 0 -4.2 0M478.39 338.83a2.1 2.1 0 1 0 4.2 0a2.1 2.1 0 1 0 -4.2 0M478.45 335.07a2.1 2.1 0 1 0 4.2 0a2.1 2.1 0 1 0 -4.2 0M478.52 337.5a2.1 2.1 0 1 0 4.2 0a2.1 2.1 0 1 0 -4.2 0M478.58 338.56a2.1 2.1 0 1 0 4.2 0a2.1 2.1 0 1 0 -4.2 0M478.64 337.69a2.1 2.1 0 1 0 4.2 0a2.1 2.1 0 1 0 -4.2 0M478.71 336.94a2.1 2.1 0 1 0 4.2 0a2.1 2.1 0 1 0 -4.2 0M478.77 334.88a2.1 2.1 0 1 0 4.2 0a2.1 2.1 0 1 0 -4.2 0M478.84 337.12a2.1 2.1 0 1 0 4.2 0a2.1 2.1 0 1 0 -4.2 0M478.9 339.21a2.1 2.1 0 1 0 4.2 0a2.1 2.1 0 1 0 -4.2 0M478.96 335.36a2.1 2.1 0 1 0 4.2 0a2.1 2.1 0 1 0 -4.2 0M479.03 336.36a2.1 2.1 0 1 0 4.2 0a2.1 2.1 0 1 0 -4.2 0M479.09 337.22a2.1 2.1 0 1 0 4.2 0a2.1 2.1 0 1 0 -4.2 0M479.15 335.35a2.1 2.1 0 1 0 4.2 0a2.1 2.1 0 1 0 -4.2 0M479.22 338.28a2.1 2.1 0 1 0 4.2 0a2.1 2.1 0 1 0 -4.2 0M479.28 338.51a2.1 2.1 0 1 0 4.2 0a2.1 2.1 0 1 0 -4.2 0M479.35 340.52a2.1 2.1 0 1 0 4.2 0a2.1 2.1 0 1 0 -4.2 0M479.41 337.01a2.1 2.1 0 1 0 4.2 0a2.1 2.1 0 1 0 -4.2 0M479.47 337.55a2.1 2.1 0 1 0 4.2 0a2.1 2.1 0 1 0 -4.2 0M479.53 335.83a2.1 2.1 0 1 0 4.2 0a2.1 2.1 0 1 0 -4.2 0M479.6 341.3a2.1 2.1 0 1 0 4.2 0a2.1 2.1 0 1 0 -4.2 0M479.66 339.12a2.1 2.1 0 1 0 4.2 0a2.1 2.1 0 1 0 -4.2 0M479.79 339.36a2.1 2.1 0 1 0 4.2 0a2.1 2.1 0 1 0 -4.2 0M479.85 341.62a2.1 2.1 0 1 0 4.2 0a2.1 2.1 0 1 0 -4.2 0M479.91 337.38a2.1 2.1 0 1 0 4.2 0a2.1 2.1 0 1 0 -4.2 0M479.98 341.91a2.1 2.1 0 1 0 4.2 0a2.1 2.1 0 1 0 -4.2 0M480.04 338.66a2.1 2.1 0 1 0 4.2 0a2.1 2.1 0 1 0 -4.2 0M480.1 340.66a2.1 2.1 0 1 0 4.2 0a2.1 2.1 0 1 0 -4.2 0M480.16 340.17a2.1 2.1 0 1 0 4.2 0a2.1 2.1 0 1 0 -4.2 0M480.23 337.96a2.1 2.1 0 1 0 4.2 0a2.1 2.1 0 1 0 -4.2 0M480.29 341.71a2.1 2.1 0 1 0 4.2 0a2.1 2.1 0 1 0 -4.2 0M480.35 340.11a2.1 2.1 0 1 0 4.2 0a2.1 2.1 0 1 0 -4.2 0M480.41 341.64a2.1 2.1 0 1 0 4.2 0a2.1 2.1 0 1 0 -4.2 0M480.47 339.83a2.1 2.1 0 1 0 4.2 0a2.1 2.1 0 1 0 -4.2 0M480.54 340.35a2.1 2.1 0 1 0 4.2 0a2.1 2.1 0 1 0 -4.2 0M480.6 339.79a2.1 2.1 0 1 0 4.2 0a2.1 2.1 0 1 0 -4.2 0M480.66 343.19a2.1 2.1 0 1 0 4.2 0a2.1 2.1 0 1 0 -4.2 0M480.72 340.28a2.1 2.1 0 1 0 4.2 0a2.1 2.1 0 1 0 -4.2 0M480.78 340.25a2.1 2.1 0 1 0 4.2 0a2.1 2.1 0 1 0 -4.2 0M480.85 343.78a2.1 2.1 0 1 0 4.2 0a2.1 2.1 0 1 0 -4.2 0M480.91 338.8a2.1 2.1 0 1 0 4.2 0a2.1 2.1 0 1 0 -4.2 0M480.97 339.61a2.1 2.1 0 1 0 4.2 0a2.1 2.1 0 1 0 -4.2 0M481.03 340.08a2.1 2.1 0 1 0 4.2 0a2.1 2.1 0 1 0 -4.2 0M481.09 340.27a2.1 2.1 0 1 0 4.2 0a2.1 2.1 0 1 0 -4.2 0M481.15 342.04a2.1 2.1 0 1 0 4.2 0a2.1 2.1 0 1 0 -4.2 0M481.22 339.82a2.1 2.1 0 1 0 4.2 0a2.1 2.1 0 1 0 -4.2 0M481.28 344.29a2.1 2.1 0 1 0 4.2 0a2.1 2.1 0 1 0 -4.2 0M481.34 341.08a2.1 2.1 0 1 0 4.2 0a2.1 2.1 0 1 0 -4.2 0M481.4 339.9a2.1 2.1 0 1 0 4.2 0a2.1 2.1 0 1 0 -4.2 0M481.46 345.24a2.1 2.1 0 1 0 4.2 0a2.1 2.1 0 1 0 -4.2 0M481.52 342.05a2.1 2.1 0 1 0 4.2 0a2.1 2.1 0 1 0 -4.2 0M481.58 340.35a2.1 2.1 0 1 0 4.2 0a2.1 2.1 0 1 0 -4.2 0M481.64 345.22a2.1 2.1 0 1 0 4.2 0a2.1 2.1 0 1 0 -4.2 0M481.71 342.99a2.1 2.1 0 1 0 4.2 0a2.1 2.1 0 1 0 -4.2 0M481.77 341.21a2.1 2.1 0 1 0 4.2 0a2.1 2.1 0 1 0 -4.2 0M481.83 344.96a2.1 2.1 0 1 0 4.2 0a2.1 2.1 0 1 0 -4.2 0M481.89 345.41a2.1 2.1 0 1 0 4.2 0a2.1 2.1 0 1 0 -4.2 0M481.95 342.67a2.1 2.1 0 1 0 4.2 0a2.1 2.1 0 1 0 -4.2 0M482.01 342.38a2.1 2.1 0 1 0 4.2 0a2.1 2.1 0 1 0 -4.2 0M482.07 341.68a2.1 2.1 0 1 0 4.2 0a2.1 2.1 0 1 0 -4.2 0M482.13 343.47a2.1 2.1 0 1 0 4.2 0a2.1 2.1 0 1 0 -4.2 0M482.19 347.01a2.1 2.1 0 1 0 4.2 0a2.1 2.1 0 1 0 -4.2 0M482.25 342.8a2.1 2.1 0 1 0 4.2 0a2.1 2.1 0 1 0 -4.2 0M482.31 345.98a2.1 2.1 0 1 0 4.2 0a2.1 2.1 0 1 0 -4.2 0M482.37 344.55a2.1 2.1 0 1 0 4.2 0a2.1 2.1 0 1 0 -4.2 0M482.43 343.79a2.1 2.1 0 1 0 4.2 0a2.1 2.1 0 1 0 -4.2 0M482.49 342.47a2.1 2.1 0 1 0 4.2 0a2.1 2.1 0 1 0 -4.2 0M482.55 345.03a2.1 2.1 0 1 0 4.2 0a2.1 2.1 0 1 0 -4.2 0M482.61 347.49a2.1 2.1 0 1 0 4.2 0a2.1 2.1 0 1 0 -4.2 0M482.67 345.54a2.1 2.1 0 1 0 4.2 0a2.1 2.1 0 1 0 -4.2 0M482.79 344.45a2.1 2.1 0 1 0 4.2 0a2.1 2.1 0 1 0 -4.2 0M482.85 347.78a2.1 2.1 0 1 0 4.2 0a2.1 2.1 0 1 0 -4.2 0M482.91 345.87a2.1 2.1 0 1 0 4.2 0a2.1 2.1 0 1 0 -4.2 0M482.97 348.87a2.1 2.1 0 1 0 4.2 0a2.1 2.1 0 1 0 -4.2 0M483.03 343.69a2.1 2.1 0 1 0 4.2 0a2.1 2.1 0 1 0 -4.2 0M483.09 349.3a2.1 2.1 0 1 0 4.2 0a2.1 2.1 0 1 0 -4.2 0M483.15 346.5a2.1 2.1 0 1 0 4.2 0a2.1 2.1 0 1 0 -4.2 0M483.21 348.72a2.1 2.1 0 1 0 4.2 0a2.1 2.1 0 1 0 -4.2 0M483.27 348.29a2.1 2.1 0 1 0 4.2 0a2.1 2.1 0 1 0 -4.2 0M483.33 347.7a2.1 2.1 0 1 0 4.2 0a2.1 2.1 0 1 0 -4.2 0M483.39 348.69a2.1 2.1 0 1 0 4.2 0a2.1 2.1 0 1 0 -4.2 0M483.57 347.71a2.1 2.1 0 1 0 4.2 0a2.1 2.1 0 1 0 -4.2 0M483.62 345.26a2.1 2.1 0 1 0 4.2 0a2.1 2.1 0 1 0 -4.2 0M483.68 349.64a2.1 2.1 0 1 0 4.2 0a2.1 2.1 0 1 0 -4.2 0M483.74 349.99a2.1 2.1 0 1 0 4.2 0a2.1 2.1 0 1 0 -4.2 0M483.8 350.87a2.1 2.1 0 1 0 4.2 0a2.1 2.1 0 1 0 -4.2 0M483.86 346.05a2.1 2.1 0 1 0 4.2 0a2.1 2.1 0 1 0 -4.2 0M483.92 346.94a2.1 2.1 0 1 0 4.2 0a2.1 2.1 0 1 0 -4.2 0M483.98 346.81a2.1 2.1 0 1 0 4.2 0a2.1 2.1 0 1 0 -4.2 0M484.04 350.82a2.1 2.1 0 1 0 4.2 0a2.1 2.1 0 1 0 -4.2 0M484.1 349.3a2.1 2.1 0 1 0 4.2 0a2.1 2.1 0 1 0 -4.2 0M484.15 348.14a2.1 2.1 0 1 0 4.2 0a2.1 2.1 0 1 0 -4.2 0M484.21 349.07a2.1 2.1 0 1 0 4.2 0a2.1 2.1 0 1 0 -4.2 0M484.27 348.07a2.1 2.1 0 1 0 4.2 0a2.1 2.1 0 1 0 -4.2 0M484.33 351.27a2.1 2.1 0 1 0 4.2 0a2.1 2.1 0 1 0 -4.2 0M484.39 347.38a2.1 2.1 0 1 0 4.2 0a2.1 2.1 0 1 0 -4.2 0M484.45 349.29a2.1 2.1 0 1 0 4.2 0a2.1 2.1 0 1 0 -4.2 0M484.56 349.6a2.1 2.1 0 1 0 4.2 0a2.1 2.1 0 1 0 -4.2 0M484.62 350.56a2.1 2.1 0 1 0 4.2 0a2.1 2.1 0 1 0 -4.2 0M484.68 353.14a2.1 2.1 0 1 0 4.2 0a2.1 2.1 0 1 0 -4.2 0M484.74 352.42a2.1 2.1 0 1 0 4.2 0a2.1 2.1 0 1 0 -4.2 0M484.79 350.76a2.1 2.1 0 1 0 4.2 0a2.1 2.1 0 1 0 -4.2 0M484.85 353.2a2.1 2.1 0 1 0 4.2 0a2.1 2.1 0 1 0 -4.2 0M484.91 350.45a2.1 2.1 0 1 0 4.2 0a2.1 2.1 0 1 0 -4.2 0M484.97 352.92a2.1 2.1 0 1 0 4.2 0a2.1 2.1 0 1 0 -4.2 0M485.03 350.28a2.1 2.1 0 1 0 4.2 0a2.1 2.1 0 1 0 -4.2 0M485.08 352.04a2.1 2.1 0 1 0 4.2 0a2.1 2.1 0 1 0 -4.2 0M485.14 350.77a2.1 2.1 0 1 0 4.2 0a2.1 2.1 0 1 0 -4.2 0M485.2 353.19a2.1 2.1 0 1 0 4.2 0a2.1 2.1 0 1 0 -4.2 0M485.26 354.14a2.1 2.1 0 1 0 4.2 0a2.1 2.1 0 1 0 -4.2 0M485.31 351.24a2.1 2.1 0 1 0 4.2 0a2.1 2.1 0 1 0 -4.2 0M485.37 350.49a2.1 2.1 0 1 0 4.2 0a2.1 2.1 0 1 0 -4.2 0M485.43 354.16a2.1 2.1 0 1 0 4.2 0a2.1 2.1 0 1 0 -4.2 0M485.49 355.32a2.1 2.1 0 1 0 4.2 0a2.1 2.1 0 1 0 -4.2 0M485.54 350.76a2.1 2.1 0 1 0 4.2 0a2.1 2.1 0 1 0 -4.2 0M485.6 351.58a2.1 2.1 0 1 0 4.2 0a2.1 2.1 0 1 0 -4.2 0M485.66 351.67a2.1 2.1 0 1 0 4.2 0a2.1 2.1 0 1 0 -4.2 0M485.77 354a2.1 2.1 0 1 0 4.2 0a2.1 2.1 0 1 0 -4.2 0M485.83 351.13a2.1 2.1 0 1 0 4.2 0a2.1 2.1 0 1 0 -4.2 0M485.89 352.12a2.1 2.1 0 1 0 4.2 0a2.1 2.1 0 1 0 -4.2 0M485.94 352.58a2.1 2.1 0 1 0 4.2 0a2.1 2.1 0 1 0 -4.2 0M486 351.7a2.1 2.1 0 1 0 4.2 0a2.1 2.1 0 1 0 -4.2 0M486.06 352.06a2.1 2.1 0 1 0 4.2 0a2.1 2.1 0 1 0 -4.2 0M486.11 354.17a2.1 2.1 0 1 0 4.2 0a2.1 2.1 0 1 0 -4.2 0M486.17 357.23a2.1 2.1 0 1 0 4.2 0a2.1 2.1 0 1 0 -4.2 0M486.23 354.37a2.1 2.1 0 1 0 4.2 0a2.1 2.1 0 1 0 -4.2 0M486.28 355.08a2.1 2.1 0 1 0 4.2 0a2.1 2.1 0 1 0 -4.2 0M486.34 357.97a2.1 2.1 0 1 0 4.2 0a2.1 2.1 0 1 0 -4.2 0M486.4 356.45a2.1 2.1 0 1 0 4.2 0a2.1 2.1 0 1 0 -4.2 0M486.45 353.74a2.1 2.1 0 1 0 4.2 0a2.1 2.1 0 1 0 -4.2 0M486.51 355.02a2.1 2.1 0 1 0 4.2 0a2.1 2.1 0 1 0 -4.2 0M486.56 353.51a2.1 2.1 0 1 0 4.2 0a2.1 2.1 0 1 0 -4.2 0M486.62 354.72a2.1 2.1 0 1 0 4.2 0a2.1 2.1 0 1 0 -4.2 0M486.68 358.18a2.1 2.1 0 1 0 4.2 0a2.1 2.1 0 1 0 -4.2 0M486.73 355.41a2.1 2.1 0 1 0 4.2 0a2.1 2.1 0 1 0 -4.2 0M486.79 359.42a2.1 2.1 0 1 0 4.2 0a2.1 2.1 0 1 0 -4.2 0M486.85 354.97a2.1 2.1 0 1 0 4.2 0a2.1 2.1 0 1 0 -4.2 0M486.9 358.46a2.1 2.1 0 1 0 4.2 0a2.1 2.1 0 1 0 -4.2 0M486.96 354.84a2.1 2.1 0 1 0 4.2 0a2.1 2.1 0 1 0 -4.2 0M487.01 360.31a2.1 2.1 0 1 0 4.2 0a2.1 2.1 0 1 0 -4.2 0M487.07 356.58a2.1 2.1 0 1 0 4.2 0a2.1 2.1 0 1 0 -4.2 0M487.12 360.45a2.1 2.1 0 1 0 4.2 0a2.1 2.1 0 1 0 -4.2 0M487.18 356.34a2.1 2.1 0 1 0 4.2 0a2.1 2.1 0 1 0 -4.2 0M487.24 356.83a2.1 2.1 0 1 0 4.2 0a2.1 2.1 0 1 0 -4.2 0M487.29 358.78a2.1 2.1 0 1 0 4.2 0a2.1 2.1 0 1 0 -4.2 0M487.4 360.89a2.1 2.1 0 1 0 4.2 0a2.1 2.1 0 1 0 -4.2 0M487.46 360.29a2.1 2.1 0 1 0 4.2 0a2.1 2.1 0 1 0 -4.2 0M487.51 361.75a2.1 2.1 0 1 0 4.2 0a2.1 2.1 0 1 0 -4.2 0M487.57 360.58a2.1 2.1 0 1 0 4.2 0a2.1 2.1 0 1 0 -4.2 0M487.62 362.25a2.1 2.1 0 1 0 4.2 0a2.1 2.1 0 1 0 -4.2 0M487.68 359.65a2.1 2.1 0 1 0 4.2 0a2.1 2.1 0 1 0 -4.2 0M487.74 360.68a2.1 2.1 0 1 0 4.2 0a2.1 2.1 0 1 0 -4.2 0M487.79 361.69a2.1 2.1 0 1 0 4.2 0a2.1 2.1 0 1 0 -4.2 0M487.85 361.96a2.1 2.1 0 1 0 4.2 0a2.1 2.1 0 1 0 -4.2 0M487.9 358.74a2.1 2.1 0 1 0 4.2 0a2.1 2.1 0 1 0 -4.2 0M487.96 358.99a2.1 2.1 0 1 0 4.2 0a2.1 2.1 0 1 0 -4.2 0M488.07 362.76a2.1 2.1 0 1 0 4.2 0a2.1 2.1 0 1 0 -4.2 0M488.12 364.58a2.1 2.1 0 1 0 4.2 0a2.1 2.1 0 1 0 -4.2 0M488.18 364.34a2.1 2.1 0 1 0 4.2 0a2.1 2.1 0 1 0 -4.2 0M488.23 360.78a2.1 2.1 0 1 0 4.2 0a2.1 2.1 0 1 0 -4.2 0M488.29 364.09a2.1 2.1 0 1 0 4.2 0a2.1 2.1 0 1 0 -4.2 0M488.34 365.65a2.1 2.1 0 1 0 4.2 0a2.1 2.1 0 1 0 -4.2 0M488.39 361.46a2.1 2.1 0 1 0 4.2 0a2.1 2.1 0 1 0 -4.2 0M488.45 366.03a2.1 2.1 0 1 0 4.2 0a2.1 2.1 0 1 0 -4.2 0M488.5 364.52a2.1 2.1 0 1 0 4.2 0a2.1 2.1 0 1 0 -4.2 0M488.56 365.76a2.1 2.1 0 1 0 4.2 0a2.1 2.1 0 1 0 -4.2 0M488.61 367.73a2.1 2.1 0 1 0 4.2 0a2.1 2.1 0 1 0 -4.2 0M488.67 366.81a2.1 2.1 0 1 0 4.2 0a2.1 2.1 0 1 0 -4.2 0M488.72 364.85a2.1 2.1 0 1 0 4.2 0a2.1 2.1 0 1 0 -4.2 0M488.78 366.65a2.1 2.1 0 1 0 4.2 0a2.1 2.1 0 1 0 -4.2 0M488.83 365.27a2.1 2.1 0 1 0 4.2 0a2.1 2.1 0 1 0 -4.2 0M488.88 370.46a2.1 2.1 0 1 0 4.2 0a2.1 2.1 0 1 0 -4.2 0M488.94 370.34a2.1 2.1 0 1 0 4.2 0a2.1 2.1 0 1 0 -4.2 0M488.99 368.9a2.1 2.1 0 1 0 4.2 0a2.1 2.1 0 1 0 -4.2 0M489.05 368.12a2.1 2.1 0 1 0 4.2 0a2.1 2.1 0 1 0 -4.2 0M489.1 369.83a2.1 2.1 0 1 0 4.2 0a2.1 2.1 0 1 0 -4.2 0M489.15 370.96a2.1 2.1 0 1 0 4.2 0a2.1 2.1 0 1 0 -4.2 0M489.21 368.26a2.1 2.1 0 1 0 4.2 0a2.1 2.1 0 1 0 -4.2 0M489.26 368.41a2.1 2.1 0 1 0 4.2 0a2.1 2.1 0 1 0 -4.2 0M489.32 369.92a2.1 2.1 0 1 0 4.2 0a2.1 2.1 0 1 0 -4.2 0M489.37 373.22a2.1 2.1 0 1 0 4.2 0a2.1 2.1 0 1 0 -4.2 0M489.42 370.13a2.1 2.1 0 1 0 4.2 0a2.1 2.1 0 1 0 -4.2 0M489.48 371.24a2.1 2.1 0 1 0 4.2 0a2.1 2.1 0 1 0 -4.2 0M489.53 370.88a2.1 2.1 0 1 0 4.2 0a2.1 2.1 0 1 0 -4.2 0M489.58 371.24a2.1 2.1 0 1 0 4.2 0a2.1 2.1 0 1 0 -4.2 0M489.64 372a2.1 2.1 0 1 0 4.2 0a2.1 2.1 0 1 0 -4.2 0M489.69 372.79a2.1 2.1 0 1 0 4.2 0a2.1 2.1 0 1 0 -4.2 0M489.75 370a2.1 2.1 0 1 0 4.2 0a2.1 2.1 0 1 0 -4.2 0M489.8 369.28a2.1 2.1 0 1 0 4.2 0a2.1 2.1 0 1 0 -4.2 0M489.85 368.91a2.1 2.1 0 1 0 4.2 0a2.1 2.1 0 1 0 -4.2 0M489.91 372.37a2.1 2.1 0 1 0 4.2 0a2.1 2.1 0 1 0 -4.2 0M489.96 372.67a2.1 2.1 0 1 0 4.2 0a2.1 2.1 0 1 0 -4.2 0M490.01 372.56a2.1 2.1 0 1 0 4.2 0a2.1 2.1 0 1 0 -4.2 0M490.06 369.56a2.1 2.1 0 1 0 4.2 0a2.1 2.1 0 1 0 -4.2 0M490.12 367.73a2.1 2.1 0 1 0 4.2 0a2.1 2.1 0 1 0 -4.2 0M490.17 371.63a2.1 2.1 0 1 0 4.2 0a2.1 2.1 0 1 0 -4.2 0M490.22 370.22a2.1 2.1 0 1 0 4.2 0a2.1 2.1 0 1 0 -4.2 0M490.28 369.45a2.1 2.1 0 1 0 4.2 0a2.1 2.1 0 1 0 -4.2 0M490.33 369.96a2.1 2.1 0 1 0 4.2 0a2.1 2.1 0 1 0 -4.2 0M490.38 368.99a2.1 2.1 0 1 0 4.2 0a2.1 2.1 0 1 0 -4.2 0M490.44 369.78a2.1 2.1 0 1 0 4.2 0a2.1 2.1 0 1 0 -4.2 0M490.49 368.33a2.1 2.1 0 1 0 4.2 0a2.1 2.1 0 1 0 -4.2 0M490.54 365.89a2.1 2.1 0 1 0 4.2 0a2.1 2.1 0 1 0 -4.2 0M490.59 366.88a2.1 2.1 0 1 0 4.2 0a2.1 2.1 0 1 0 -4.2 0M490.65 365.53a2.1 2.1 0 1 0 4.2 0a2.1 2.1 0 1 0 -4.2 0M490.7 368.39a2.1 2.1 0 1 0 4.2 0a2.1 2.1 0 1 0 -4.2 0M490.75 369.71a2.1 2.1 0 1 0 4.2 0a2.1 2.1 0 1 0 -4.2 0M490.8 369.2a2.1 2.1 0 1 0 4.2 0a2.1 2.1 0 1 0 -4.2 0M490.86 368.6a2.1 2.1 0 1 0 4.2 0a2.1 2.1 0 1 0 -4.2 0M490.91 365.1a2.1 2.1 0 1 0 4.2 0a2.1 2.1 0 1 0 -4.2 0M490.96 367.78a2.1 2.1 0 1 0 4.2 0a2.1 2.1 0 1 0 -4.2 0M491.01 365.42a2.1 2.1 0 1 0 4.2 0a2.1 2.1 0 1 0 -4.2 0M491.07 362.91a2.1 2.1 0 1 0 4.2 0a2.1 2.1 0 1 0 -4.2 0M491.12 365.35a2.1 2.1 0 1 0 4.2 0a2.1 2.1 0 1 0 -4.2 0M491.17 365.96a2.1 2.1 0 1 0 4.2 0a2.1 2.1 0 1 0 -4.2 0M491.22 361.84a2.1 2.1 0 1 0 4.2 0a2.1 2.1 0 1 0 -4.2 0M491.28 360.88a2.1 2.1 0 1 0 4.2 0a2.1 2.1 0 1 0 -4.2 0M491.33 365.63a2.1 2.1 0 1 0 4.2 0a2.1 2.1 0 1 0 -4.2 0M491.38 360.9a2.1 2.1 0 1 0 4.2 0a2.1 2.1 0 1 0 -4.2 0M491.43 359.61a2.1 2.1 0 1 0 4.2 0a2.1 2.1 0 1 0 -4.2 0M491.48 363.03a2.1 2.1 0 1 0 4.2 0a2.1 2.1 0 1 0 -4.2 0M491.54 362.24a2.1 2.1 0 1 0 4.2 0a2.1 2.1 0 1 0 -4.2 0M491.59 362.76a2.1 2.1 0 1 0 4.2 0a2.1 2.1 0 1 0 -4.2 0M491.64 362.23a2.1 2.1 0 1 0 4.2 0a2.1 2.1 0 1 0 -4.2 0M491.69 358.71a2.1 2.1 0 1 0 4.2 0a2.1 2.1 0 1 0 -4.2 0M491.74 360.19a2.1 2.1 0 1 0 4.2 0a2.1 2.1 0 1 0 -4.2 0M491.79 360.56a2.1 2.1 0 1 0 4.2 0a2.1 2.1 0 1 0 -4.2 0M491.85 359.86a2.1 2.1 0 1 0 4.2 0a2.1 2.1 0 1 0 -4.2 0M491.9 356.39a2.1 2.1 0 1 0 4.2 0a2.1 2.1 0 1 0 -4.2 0M491.95 355.5a2.1 2.1 0 1 0 4.2 0a2.1 2.1 0 1 0 -4.2 0M492 358.96a2.1 2.1 0 1 0 4.2 0a2.1 2.1 0 1 0 -4.2 0M492.05 358.88a2.1 2.1 0 1 0 4.2 0a2.1 2.1 0 1 0 -4.2 0M492.1 358.48a2.1 2.1 0 1 0 4.2 0a2.1 2.1 0 1 0 -4.2 0M492.15 355.17a2.1 2.1 0 1 0 4.2 0a2.1 2.1 0 1 0 -4.2 0M492.21 354.08a2.1 2.1 0 1 0 4.2 0a2.1 2.1 0 1 0 -4.2 0M492.26 357.77a2.1 2.1 0 1 0 4.2 0a2.1 2.1 0 1 0 -4.2 0M492.31 357.88a2.1 2.1 0 1 0 4.2 0a2.1 2.1 0 1 0 -4.2 0M492.36 356.21a2.1 2.1 0 1 0 4.2 0a2.1 2.1 0 1 0 -4.2 0M492.41 352.99a2.1 2.1 0 1 0 4.2 0a2.1 2.1 0 1 0 -4.2 0M492.46 352.51a2.1 2.1 0 1 0 4.2 0a2.1 2.1 0 1 0 -4.2 0M492.51 351.55a2.1 2.1 0 1 0 4.2 0a2.1 2.1 0 1 0 -4.2 0M492.56 353.89a2.1 2.1 0 1 0 4.2 0a2.1 2.1 0 1 0 -4.2 0M492.62 355.36a2.1 2.1 0 1 0 4.2 0a2.1 2.1 0 1 0 -4.2 0M492.67 354.68a2.1 2.1 0 1 0 4.2 0a2.1 2.1 0 1 0 -4.2 0M492.72 349.68a2.1 2.1 0 1 0 4.2 0a2.1 2.1 0 1 0 -4.2 0M492.77 351.47a2.1 2.1 0 1 0 4.2 0a2.1 2.1 0 1 0 -4.2 0M492.82 351.96a2.1 2.1 0 1 0 4.2 0a2.1 2.1 0 1 0 -4.2 0M492.87 350.65a2.1 2.1 0 1 0 4.2 0a2.1 2.1 0 1 0 -4.2 0M492.92 351.02a2.1 2.1 0 1 0 4.2 0a2.1 2.1 0 1 0 -4.2 0M492.97 345.71a2.1 2.1 0 1 0 4.2 0a2.1 2.1 0 1 0 -4.2 0M493.02 347.8a2.1 2.1 0 1 0 4.2 0a2.1 2.1 0 1 0 -4.2 0M493.07 346.43a2.1 2.1 0 1 0 4.2 0a2.1 2.1 0 1 0 -4.2 0M493.12 347.22a2.1 2.1 0 1 0 4.2 0a2.1 2.1 0 1 0 -4.2 0M493.17 344.43a2.1 2.1 0 1 0 4.2 0a2.1 2.1 0 1 0 -4.2 0M493.22 345.02a2.1 2.1 0 1 0 4.2 0a2.1 2.1 0 1 0 -4.2 0M493.27 340.17a2.1 2.1 0 1 0 4.2 0a2.1 2.1 0 1 0 -4.2 0M493.33 341.72a2.1 2.1 0 1 0 4.2 0a2.1 2.1 0 1 0 -4.2 0M493.38 340.77a2.1 2.1 0 1 0 4.2 0a2.1 2.1 0 1 0 -4.2 0M493.43 339.83a2.1 2.1 0 1 0 4.2 0a2.1 2.1 0 1 0 -4.2 0M493.48 338.88a2.1 2.1 0 1 0 4.2 0a2.1 2.1 0 1 0 -4.2 0M493.53 334.6a2.1 2.1 0 1 0 4.2 0a2.1 2.1 0 1 0 -4.2 0M493.58 330.33a2.1 2.1 0 1 0 4.2 0a2.1 2.1 0 1 0 -4.2 0M493.63 326.06a2.1 2.1 0 1 0 4.2 0a2.1 2.1 0 1 0 -4.2 0M493.68 321.78a2.1 2.1 0 1 0 4.2 0a2.1 2.1 0 1 0 -4.2 0M493.73 317.51a2.1 2.1 0 1 0 4.2 0a2.1 2.1 0 1 0 -4.2 0M493.78 313.23a2.1 2.1 0 1 0 4.2 0a2.1 2.1 0 1 0 -4.2 0M493.83 308.96a2.1 2.1 0 1 0 4.2 0a2.1 2.1 0 1 0 -4.2 0M493.88 304.68a2.1 2.1 0 1 0 4.2 0a2.1 2.1 0 1 0 -4.2 0M493.93 300.41a2.1 2.1 0 1 0 4.2 0a2.1 2.1 0 1 0 -4.2 0M493.98 296.14a2.1 2.1 0 1 0 4.2 0a2.1 2.1 0 1 0 -4.2 0M494.03 291.86a2.1 2.1 0 1 0 4.2 0a2.1 2.1 0 1 0 -4.2 0M494.08 287.59a2.1 2.1 0 1 0 4.2 0a2.1 2.1 0 1 0 -4.2 0M494.13 283.31a2.1 2.1 0 1 0 4.2 0a2.1 2.1 0 1 0 -4.2 0M494.18 279.04a2.1 2.1 0 1 0 4.2 0a2.1 2.1 0 1 0 -4.2 0M494.23 274.76a2.1 2.1 0 1 0 4.2 0a2.1 2.1 0 1 0 -4.2 0M494.28 270.49a2.1 2.1 0 1 0 4.2 0a2.1 2.1 0 1 0 -4.2 0M494.33 266.22a2.1 2.1 0 1 0 4.2 0a2.1 2.1 0 1 0 -4.2 0M494.37 261.94a2.1 2.1 0 1 0 4.2 0a2.1 2.1 0 1 0 -4.2 0M494.42 253.01a2.1 2.1 0 1 0 4.2 0a2.1 2.1 0 1 0 -4.2 0M494.47 242.25a2.1 2.1 0 1 0 4.2 0a2.1 2.1 0 1 0 -4.2 0M494.52 229.06a2.1 2.1 0 1 0 4.2 0a2.1 2.1 0 1 0 -4.2 0M494.57 216.47a2.1 2.1 0 1 0 4.2 0a2.1 2.1 0 1 0 -4.2 0M494.62 201.04a2.1 2.1 0 1 0 4.2 0a2.1 2.1 0 1 0 -4.2 0M494.67 208.76a2.1 2.1 0 1 0 4.2 0a2.1 2.1 0 1 0 -4.2 0M494.72 215.86a2.1 2.1 0 1 0 4.2 0a2.1 2.1 0 1 0 -4.2 0M494.77 197.79a2.1 2.1 0 1 0 4.2 0a2.1 2.1 0 1 0 -4.2 0M494.82 206.73a2.1 2.1 0 1 0 4.2 0a2.1 2.1 0 1 0 -4.2 0M494.87 184.6a2.1 2.1 0 1 0 4.2 0a2.1 2.1 0 1 0 -4.2 0M494.92 193.13a2.1 2.1 0 1 0 4.2 0a2.1 2.1 0 1 0 -4.2 0M494.97 165.11a2.1 2.1 0 1 0 4.2 0a2.1 2.1 0 1 0 -4.2 0M495.02 127.96a2.1 2.1 0 1 0 4.2 0a2.1 2.1 0 1 0 -4.2 0M495.06 79.45a2.1 2.1 0 1 0 4.2 0a2.1 2.1 0 1 0 -4.2 0"/>
<path fill="#000000" d="M58.05 288.74a2.45 2.45 0 1 0 4.9 0a2.45 2.45 0 1 0 -4.9 0M100.5 288.74a2.45 2.45 0 1 0 4.9 0a2.45 2.45 0 1 0 -4.9 0M125.32 288.74a2.45 2.45 0 1 0 4.9 0a2.45 2.45 0 1 0 -4.9 0M142.94 288.74a2.45 2.45 0 1 0 4.9 0a2.45 2.45 0 1 0 -4.9 0M156.6 288.74a2.45 2.45 0 1 0 4.9 0a2.45 2.45 0 1 0 -4.9 0M167.77 288.66a2.45 2.45 0 1 0 4.9 0a2.45 2.45 0 1 0 -4.9 0M177.21 288.58a2.45 2.45 0 1 0 4.9 0a2.45 2.45 0 1 0 -4.9 0M185.39 288.49a2.45 2.45 0 1 0 4.9 0a2.45 2.45 0 1 0 -4.9 0M192.6 288.41a2.45 2.45 0 1 0 4.9 0a2.45 2.45 0 1 0 -4.9 0M199.05 288.33a2.45 2.45 0 1 0 4.9 0a2.45 2.45 0 1 0 -4.9 0M204.89 288.3a2.45 2.45 0 1 0 4.9 0a2.45 2.45 0 1 0 -4.9 0M210.21 288.26a2.45 2.45 0 1 0 4.9 0a2.45 2.45 0 1 0 -4.9 0M215.12 288.23a2.45 2.45 0 1 0 4.9 0a2.45 2.45 0 1 0 -4.9 0M219.65 288.19a2.45 2.45 0 1 0 4.9 0a2.45 2.45 0 1 0 -4.9 0M223.88 288.16a2.45 2.45 0 1 0 4.9 0a2.45 2.45 0 1 0 -4.9 0M227.83 288.12a2.45 2.45 0 1 0 4.9 0a2.45 2.45 0 1 0 -4.9 0M231.54 288.08a2.45 2.45 0 1 0 4.9 0a2.45 2.45 0 1 0 -4.9 0M235.04 288.05a2.45 2.45 0 1 0 4.9 0a2.45 2.45 0 1 0 -4.9 0M238.35 288.01a2.45 2.45 0 1 0 4.9 0a2.45 2.45 0 1 0 -4.9 0M241.5 287.98a2.45 2.45 0 1 0 4.9 0a2.45 2.45 0 1 0 -4.9 0M244.48 287.94a2.45 2.45 0 1 0 4.9 0a2.45 2.45 0 1 0 -4.9 0M247.33 287.91a2.45 2.45 0 1 0 4.9 0a2.45 2.45 0 1 0 -4.9 0M250.05 287.87a2.45 2.45 0 1 0 4.9 0a2.45 2.45 0 1 0 -4.9 0M252.66 287.84a2.45 2.45 0 1 0 4.9 0a2.45 2.45 0 1 0 -4.9 0M255.16 287.8a2.45 2.45 0 1 0 4.9 0a2.45 2.45 0 1 0 -4.9 0M257.56 287.77a2.45 2.45 0 1 0 4.9 0a2.45 2.45 0 1 0 -4.9 0M259.87 287.73a2.45 2.45 0 1 0 4.9 0a2.45 2.45 0 1 0 -4.9 0M262.1 287.7a2.45 2.45 0 1 0 4.9 0a2.45 2.45 0 1 0 -4.9 0M264.25 287.66a2.45 2.45 0 1 0 4.9 0a2.45 2.45 0 1 0 -4.9 0M266.32 287.63a2.45 2.45 0 1 0 4.9 0a2.45 2.45 0 1 0 -4.9 0M268.33 287.59a2.45 2.45 0 1 0 4.9 0a2.45 2.45 0 1 0 -4.9 0M270.28 287.56a2.45 2.45 0 1 0 4.9 0a2.45 2.45 0 1 0 -4.9 0M272.16 287.52a2.45 2.45 0 1 0 4.9 0a2.45 2.45 0 1 0 -4.9 0M273.99 287.46a2.45 2.45 0 1 0 4.9 0a2.45 2.45 0 1 0 -4.9 0M275.76 287.4a2.45 2.45 0 1 0 4.9 0a2.45 2.45 0 1 0 -4.9 0M277.49 287.34a2.45 2.45 0 1 0 4.9 0a2.45 2.45 0 1 0 -4.9 0M279.17 287.28a2.45 2.45 0 1 0 4.9 0a2.45 2.45 0 1 0 -4.9 0M280.8 287.22a2.45 2.45 0 1 0 4.9 0a2.45 2.45 0 1 0 -4.9 0M282.39 287.16a2.45 2.45 0 1 0 4.9 0a2.45 2.45 0 1 0 -4.9 0M283.94 287.1a2.45 2.45 0 1 0 4.9 0a2.45 2.45 0 1 0 -4.9 0M285.45 287.04a2.45 2.45 0 1 0 4.9 0a2.45 2.45 0 1 0 -4.9 0M286.93 286.98a2.45 2.45 0 1 0 4.9 0a2.45 2.45 0 1 0 -4.9 0M288.37 286.92a2.45 2.45 0 1 0 4.9 0a2.45 2.45 0 1 0 -4.9 0M289.78 286.86a2.45 2.45 0 1 0 4.9 0a2.45 2.45 0 1 0 -4.9 0M291.15 286.8a2.45 2.45 0 1 0 4.9 0a2.45 2.45 0 1 0 -4.9 0M292.5 286.74a2.45 2.45 0 1 0 4.9 0a2.45 2.45 0 1 0 -4.9 0M293.82 286.68a2.45 2.45 0 1 0 4.9 0a2.45 2.45 0 1 0 -4.9 0M295.11 286.62a2.45 2.45 0 1 0 4.9 0a2.45 2.45 0 1 0 -4.9 0M296.37 286.56a2.45 2.45 0 1 0 4.9 0a2.45 2.45 0 1 0 -4.9 0M297.6 286.5a2.45 2.45 0 1 0 4.9 0a2.45 2.45 0 1 0 -4.9 0M298.82 286.44a2.45 2.45 0 1 0 4.9 0a2.45 2.45 0 1 0 -4.9 0M300.01 286.38a2.45 2.45 0 1 0 4.9 0a2.45 2.45 0 1 0 -4.9 0M301.17 286.32a2.45 2.45 0 1 0 4.9 0a2.45 2.45 0 1 0 -4.9 0M302.32 286.26a2.45 2.45 0 1 0 4.9 0a2.45 2.45 0 1 0 -4.9 0M303.44 286.2a2.45 2.45 0 1 0 4.9 0a2.45 2.45 0 1 0 -4.9 0M304.54 286.14a2.45 2.45 0 1 0 4.9 0a2.45 2.45 0 1 0 -4.9 0M305.63 286.08a2.45 2.45 0 1 0 4.9 0a2.45 2.45 0 1 0 -4.9 0M306.69 286.02a2.45 2.45 0 1 0 4.9 0a2.45 2.45 0 1 0 -4.9 0M307.74 285.96a2.45 2.45 0 1 0 4.9 0a2.45 2.45 0 1 0 -4.9 0M308.77 285.9a2.45 2.45 0 1 0 4.9 0a2.45 2.45 0 1 0 -4.9 0M309.78 285.8a2.45 2.45 0 1 0 4.9 0a2.45 2.45 0 1 0 -4.9 0M310.78 285.7a2.45 2.45 0 1 0 4.9 0a2.45 2.45 0 1 0 -4.9 0M311.76 285.6a2.45 2.45 0 1 0 4.9 0a2.45 2.45 0 1 0 -4.9 0M312.72 285.5a2.45 2.45 0 1 0 4.9 0a2.45 2.45 0 1 0 -4.9 0M313.67 285.4a2.45 2.45 0 1 0 4.9 0a2.45 2.45 0 1 0 -4.9 0M314.61 285.3a2.45 2.45 0 1 0 4.9 0a2.45 2.45 0 1 0 -4.9 0M315.53 285.2a2.45 2.45 0 1 0 4.9 0a2.45 2.45 0 1 0 -4.9 0M316.43 285.1a2.45 2.45 0 1 0 4.9 0a2.45 2.45 0 1 0 -4.9 0M317.33 285a2.45 2.45 0 1 0 4.9 0a2.45 2.45 0 1 0 -4.9 0M318.21 284.9a2.45 2.45 0 1 0 4.9 0a2.45 2.45 0 1 0 -4.9 0M319.08 284.8a2.45 2.45 0 1 0 4.9 0a2.45 2.45 0 1 0 -4.9 0M319.93 284.7a2.45 2.45 0 1 0 4.9 0a2.45 2.45 0 1 0 -4.9 0M320.78 284.6a2.45 2.45 0 1 0 4.9 0a2.45 2.45 0 1 0 -4.9 0M321.61 284.5a2.45 2.45 0 1 0 4.9 0a2.45 2.45 0 1 0 -4.9 0M322.43 284.4a2.45 2.45 0 1 0 4.9 0a2.45 2.45 0 1 0 -4.9 0M323.24 284.3a2.45 2.45 0 1 0 4.9 0a2.45 2.45 0 1 0 -4.9 0M324.05 284.2a2.45 2.45 0 1 0 4.9 0a2.45 2.45 0 1 0 -4.9 0M324.84 284.1a2.45 2.45 0 1 0 4.9 0a2.45 2.45 0 1 0 -4.9 0M325.62 284a2.45 2.45 0 1 0 4.9 0a2.45 2.45 0 1 0 -4.9 0M326.39 283.9a2.45 2.45 0 1 0 4.9 0a2.45 2.45 0 1 0 -4.9 0M327.15 283.8a2.45 2.45 0 1 0 4.9 0a2.45 2.45 0 1 0 -4.9 0M327.9 283.7a2.45 2.45 0 1 0 4.9 0a2.45 2.45 0 1 0 -4.9 0M328.64 283.6a2.45 2.45 0 1 0 4.9 0a2.45 2.45 0 1 0 -4.9 0M329.37 283.5a2.45 2.45 0 1 0 4.9 0a2.45 2.45 0 1 0 -4.9 0M330.1 283.4a2.45 2.45 0 1 0 4.9 0a2.45 2.45 0 1 0 -4.9 0M330.81 283.3a2.45 2.45 0 1 0 4.9 0a2.45 2.45 0 1 0 -4.9 0M331.52 283.2a2.45 2.45 0 1 0 4.9 0a2.45 2.45 0 1 0 -4.9 0M332.22 283.1a2.45 2.45 0 1 0 4.9 0a2.45 2.45 0 1 0 -4.9 0M332.91 283.01a2.45 2.45 0 1 0 4.9 0a2.45 2.45 0 1 0 -4.9 0M333.6 282.92a2.45 2.45 0 1 0 4.9 0a2.45 2.45 0 1 0 -4.9 0M334.27 282.82a2.45 2.45 0 1 0 4.9 0a2.45 2.45 0 1 0 -4.9 0M334.94 282.73a2.45 2.45 0 1 0 4.9 0a2.45 2.45 0 1 0 -4.9 0M335.61 282.64a2.45 2.45 0 1 0 4.9 0a2.45 2.45 0 1 0 -4.9 0M336.26 282.55a2.45 2.45 0 1 0 4.9 0a2.45 2.45 0 1 0 -4.9 0M336.91 282.45a2.45 2.45 0 1 0 4.9 0a2.45 2.45 0 1 0 -4.9 0M337.55 282.36a2.45 2.45 0 1 0 4.9 0a2.45 2.45 0 1 0 -4.9 0M338.18 282.27a2.45 2.45 0 1 0 4.9 0a2.45 2.45 0 1 0 -4.9 0M338.81 282.18a2.45 2.45 0 1 0 4.9 0a2.45 2.45 0 1 0 -4.9 0M339.43 282.09a2.45 2.45 0 1 0 4.9 0a2.45 2.45 0 1 0 -4.9 0M340.05 281.99a2.45 2.45 0 1 0 4.9 0a2.45 2.45 0 1 0 -4.9 0M340.66 281.9a2.45 2.45 0 1 0 4.9 0a2.45 2.45 0 1 0 -4.9 0M341.26 281.81a2.45 2.45 0 1 0 4.9 0a2.45 2.45 0 1 0 -4.9 0M341.86 281.72a2.45 2.45 0 1 0 4.9 0a2.45 2.45 0 1 0 -4.9 0M342.45 281.62a2.45 2.45 0 1 0 4.9 0a2.45 2.45 0 1 0 -4.9 0M343.04 281.53a2.45 2.45 0 1 0 4.9 0a2.45 2.45 0 1 0 -4.9 0M343.62 281.44a2.45 2.45 0 1 0 4.9 0a2.45 2.45 0 1 0 -4.9 0M344.19 281.35a2.45 2.45 0 1 0 4.9 0a2.45 2.45 0 1 0 -4.9 0M344.76 281.25a2.45 2.45 0 1 0 4.9 0a2.45 2.45 0 1 0 -4.9 0M345.33 281.16a2.45 2.45 0 1 0 4.9 0a2.45 2.45 0 1 0 -4.9 0M345.89 281.07a2.45 2.45 0 1 0 4.9 0a2.45 2.45 0 1 0 -4.9 0M346.44 280.98a2.45 2.45 0 1 0 4.9 0a2.45 2.45 0 1 0 -4.9 0M346.99 280.89a2.45 2.45 0 1 0 4.9 0a2.45 2.45 0 1 0 -4.9 0M347.53 280.79a2.45 2.45 0 1 0 4.9 0a2.45 2.45 0 1 0 -4.9 0M348.07 280.7a2.45 2.45 0 1 0 4.9 0a2.45 2.45 0 1 0 -4.9 0M348.61 280.61a2.45 2.45 0 1 0 4.9 0a2.45 2.45 0 1 0 -4.9 0M349.14 280.52a2.45 2.45 0 1 0 4.9 0a2.45 2.45 0 1 0 -4.9 0M349.66 280.42a2.45 2.45 0 1 0 4.9 0a2.45 2.45 0 1 0 -4.9 0M350.19 280.33a2.45 2.45 0 1 0 4.9 0a2.45 2.45 0 1 0 -4.9 0M350.7 280.24a2.45 2.45 0 1 0 4.9 0a2.45 2.45 0 1 0 -4.9 0M351.21 280.15a2.45 2.45 0 1 0 4.9 0a2.45 2.45 0 1 0 -4.9 0M351.72 280.06a2.45 2.45 0 1 0 4.9 0a2.45 2.45 0 1 0 -4.9 0M352.23 279.96a2.45 2.45 0 1 0 4.9 0a2.45 2.45 0 1 0 -4.9 0M352.73 279.87a2.45 2.45 0 1 0 4.9 0a2.45 2.45 0 1 0 -4.9 0M353.22 279.78a2.45 2.45 0 1 0 4.9 0a2.45 2.45 0 1 0 -4.9 0M353.71 279.69a2.45 2.45 0 1 0 4.9 0a2.45 2.45 0 1 0 -4.9 0M354.2 279.59a2.45 2.45 0 1 0 4.9 0a2.45 2.45 0 1 0 -4.9 0M354.69 279.5a2.45 2.45 0 1 0 4.9 0a2.45 2.45 0 1 0 -4.9 0M355.17 279.41a2.45 2.45 0 1 0 4.9 0a2.45 2.45 0 1 0 -4.9 0M355.64 279.32a2.45 2.45 0 1 0 4.9 0a2.45 2.45 0 1 0 -4.9 0M356.12 279.22a2.45 2.45 0 1 0 4.9 0a2.45 2.45 0 1 0 -4.9 0M356.59 279.13a2.45 2.45 0 1 0 4.9 0a2.45 2.45 0 1 0 -4.9 0M357.05 279.04a2.45 2.45 0 1 0 4.9 0a2.45 2.45 0 1 0 -4.9 0M357.51 278.95a2.45 2.45 0 1 0 4.9 0a2.45 2.45 0 1 0 -4.9 0M357.97 278.87a2.45 2.45 0 1 0 4.9 0a2.45 2.45 0 1 0 -4.9 0M358.43 278.79a2.45 2.45 0 1 0 4.9 0a2.45 2.45 0 1 0 -4.9 0M358.88 278.71a2.45 2.45 0 1 0 4.9 0a2.45 2.45 0 1 0 -4.9 0M359.33 278.63a2.45 2.45 0 1 0 4.9 0a2.45 2.45 0 1 0 -4.9 0M359.77 278.55a2.45 2.45 0 1 0 4.9 0a2.45 2.45 0 1 0 -4.9 0M360.22 278.47a2.45 2.45 0 1 0 4.9 0a2.45 2.45 0 1 0 -4.9 0M360.65 278.39a2.45 2.45 0 1 0 4.9 0a2.45 2.45 0 1 0 -4.9 0M361.09 278.31a2.45 2.45 0 1 0 4.9 0a2.45 2.45 0 1 0 -4.9 0M361.52 278.23a2.45 2.45 0 1 0 4.9 0a2.45 2.45 0 1 0 -4.9 0M361.95 278.15a2.45 2.45 0 1 0 4.9 0a2.45 2.45 0 1 0 -4.9 0M362.38 278.07a2.45 2.45 0 1 0 4.9 0a2.45 2.45 0 1 0 -4.9 0M362.8 277.99a2.45 2.45 0 1 0 4.9 0a2.45 2.45 0 1 0 -4.9 0M363.22 277.91a2.45 2.45 0 1 0 4.9 0a2.45 2.45 0 1 0 -4.9 0M363.64 277.83a2.45 2.45 0 1 0 4.9 0a2.45 2.45 0 1 0 -4.9 0M364.06 277.75a2.45 2.45 0 1 0 4.9 0a2.45 2.45 0 1 0 -4.9 0M364.47 277.67a2.45 2.45 0 1 0 4.9 0a2.45 2.45 0 1 0 -4.9 0M364.88 277.59a2.45 2.45 0 1 0 4.9 0a2.45 2.45 0 1 0 -4.9 0M365.29 277.51a2.45 2.45 0 1 0 4.9 0a2.45 2.45 0 1 0 -4.9 0M365.69 277.43a2.45 2.45 0 1 0 4.9 0a2.45 2.45 0 1 0 -4.9 0M366.09 277.35a2.45 2.45 0 1 0 4.9 0a2.45 2.45 0 1 0 -4.9 0M366.49 277.27a2.45 2.45 0 1 0 4.9 0a2.45 2.45 0 1 0 -4.9 0M366.89 277.19a2.45 2.45 0 1 0 4.9 0a2.45 2.45 0 1 0 -4.9 0M367.28 277.11a2.45 2.45 0 1 0 4.9 0a2.45 2.45 0 1 0 -4.9 0M367.67 277.03a2.45 2.45 0 1 0 4.9 0a2.45 2.45 0 1 0 -4.9 0M368.06 276.95a2.45 2.45 0 1 0 4.9 0a2.45 2.45 0 1 0 -4.9 0M368.45 276.87a2.45 2.45 0 1 0 4.9 0a2.45 2.45 0 1 0 -4.9 0M368.83 276.79a2.45 2.45 0 1 0 4.9 0a2.45 2.45 0 1 0 -4.9 0M369.21 276.71a2.45 2.45 0 1 0 4.9 0a2.45 2.45 0 1 0 -4.9 0M369.59 276.63a2.45 2.45 0 1 0 4.9 0a2.45 2.45 0 1 0 -4.9 0M369.97 276.55a2.45 2.45 0 1 0 4.9 0a2.45 2.45 0 1 0 -4.9 0M370.34 276.47a2.45 2.45 0 1 0 4.9 0a2.45 2.45 0 1 0 -4.9 0M370.72 276.39a2.45 2.45 0 1 0 4.9 0a2.45 2.45 0 1 0 -4.9 0M371.09 276.32a2.45 2.45 0 1 0 4.9 0a2.45 2.45 0 1 0 -4.9 0M371.45 276.24a2.45 2.45 0 1 0 4.9 0a2.45 2.45 0 1 0 -4.9 0M371.82 276.16a2.45 2.45 0 1 0 4.9 0a2.45 2.45 0 1 0 -4.9 0M372.18 276.08a2.45 2.45 0 1 0 4.9 0a2.45 2.45 0 1 0 -4.9 0M372.54 276a2.45 2.45 0 1 0 4.9 0a2.45 2.45 0 1 0 -4.9 0M372.9 275.92a2.45 2.45 0 1 0 4.9 0a2.45 2.45 0 1 0 -4.9 0M373.26 275.84a2.45 2.45 0 1 0 4.9 0a2.45 2.45 0 1 0 -4.9 0M373.61 275.76a2.45 2.45 0 1 0 4.9 0a2.45 2.45 0 1 0 -4.9 0M373.97 275.68a2.45 2.45 0 1 0 4.9 0a2.45 2.45 0 1 0 -4.9 0M374.32 275.6a2.45 2.45 0 1 0 4.9 0a2.45 2.45 0 1 0 -4.9 0M374.67 275.52a2.45 2.45 0 1 0 4.9 0a2.45 2.45 0 1 0 -4.9 0M375.01 275.44a2.45 2.45 0 1 0 4.9 0a2.45 2.45 0 1 0 -4.9 0M375.36 275.36a2.45 2.45 0 1 0 4.9 0a2.45 2.45 0 1 0 -4.9 0M375.7 275.28a2.45 2.45 0 1 0 4.9 0a2.45 2.45 0 1 0 -4.9 0M376.04 275.2a2.45 2.45 0 1 0 4.9 0a2.45 2.45 0 1 0 -4.9 0M376.38 275.12a2.45 2.45 0 1 0 4.9 0a2.45 2.45 0 1 0 -4.9 0M376.72 275.04a2.45 2.45 0 1 0 4.9 0a2.45 2.45 0 1 0 -4.9 0M377.06 274.96a2.45 2.45 0 1 0 4.9 0a2.45 2.45 0 1 0 -4.9 0M377.39 274.88a2.45 2.45 0 1 0 4.9 0a2.45 2.45 0 1 0 -4.9 0M377.72 274.8a2.45 2.45 0 1 0 4.9 0a2.45 2.45 0 1 0 -4.9 0M378.05 274.72a2.45 2.45 0 1 0 4.9 0a2.45 2.45 0 1 0 -4.9 0M378.38 274.64a2.45 2.45 0 1 0 4.9 0a2.45 2.45 0 1 0 -4.9 0M378.71 274.56a2.45 2.45 0 1 0 4.9 0a2.45 2.45 0 1 0 -4.9 0M379.03 274.48a2.45 2.45 0 1 0 4.9 0a2.45 2.45 0 1 0 -4.9 0M379.35 274.4a2.45 2.45 0 1 0 4.9 0a2.45 2.45 0 1 0 -4.9 0M379.68 274.32a2.45 2.45 0 1 0 4.9 0a2.45 2.45 0 1 0 -4.9 0M380 274.24a2.45 2.45 0 1 0 4.9 0a2.45 2.45 0 1 0 -4.9 0M380.31 274.16a2.45 2.45 0 1 0 4.9 0a2.45 2.45 0 1 0 -4.9 0M380.63 274.08a2.45 2.45 0 1 0 4.9 0a2.45 2.45 0 1 0 -4.9 0M380.94 274a2.45 2.45 0 1 0 4.9 0a2.45 2.45 0 1 0 -4.9 0M381.26 273.92a2.45 2.45 0 1 0 4.9 0a2.45 2.45 0 1 0 -4.9 0M381.57 273.84a2.45 2.45 0 1 0 4.9 0a2.45 2.45 0 1 0 -4.9 0M381.88 273.76a2.45 2.45 0 1 0 4.9 0a2.45 2.45 0 1 0 -4.9 0M382.19 273.68a2.45 2.45 0 1 0 4.9 0a2.45 2.45 0 1 0 -4.9 0M382.5 273.6a2.45 2.45 0 1 0 4.9 0a2.45 2.45 0 1 0 -4.9 0M382.8 273.52a2.45 2.45 0 1 0 4.9 0a2.45 2.45 0 1 0 -4.9 0M383.1 273.44a2.45 2.45 0 1 0 4.9 0a2.45 2.45 0 1 0 -4.9 0M383.41 273.36a2.45 2.45 0 1 0 4.9 0a2.45 2.45 0 1 0 -4.9 0M383.71 273.28a2.45 2.45 0 1 0 4.9 0a2.45 2.45 0 1 0 -4.9 0M384.01 273.2a2.45 2.45 0 1 0 4.9 0a2.45 2.45 0 1 0 -4.9 0M384.31 273.13a2.45 2.45 0 1 0 4.9 0a2.45 2.45 0 1 0 -4.9 0M384.6 273.05a2.45 2.45 0 1 0 4.9 0a2.45 2.45 0 1 0 -4.9 0M384.9 272.97a2.45 2.45 0 1 0 4.9 0a2.45 2.45 0 1 0 -4.9 0M385.19 272.89a2.45 2.45 0 1 0 4.9 0a2.45 2.45 0 1 0 -4.9 0M385.48 272.81a2.45 2.45 0 1 0 4.9 0a2.45 2.45 0 1 0 -4.9 0M385.77 272.73a2.45 2.45 0 1 0 4.9 0a2.45 2.45 0 1 0 -4.9 0M386.06 272.65a2.45 2.45 0 1 0 4.9 0a2.45 2.45 0 1 0 -4.9 0M386.35 272.57a2.45 2.45 0 1 0 4.9 0a2.45 2.45 0 1 0 -4.9 0M386.64 272.49a2.45 2.45 0 1 0 4.9 0a2.45 2.45 0 1 0 -4.9 0M386.92 272.42a2.45 2.45 0 1 0 4.9 0a2.45 2.45 0 1 0 -4.9 0M387.21 272.34a2.45 2.45 0 1 0 4.9 0a2.45 2.45 0 1 0 -4.9 0M387.49 272.26a2.45 2.45 0 1 0 4.9 0a2.45 2.45 0 1 0 -4.9 0M387.77 272.18a2.45 2.45 0 1 0 4.9 0a2.45 2.45 0 1 0 -4.9 0M388.05 272.1a2.45 2.45 0 1 0 4.9 0a2.45 2.45 0 1 0 -4.9 0M388.33 272.02a2.45 2.45 0 1 0 4.9 0a2.45 2.45 0 1 0 -4.9 0M388.61 271.94a2.45 2.45 0 1 0 4.9 0a2.45 2.45 0 1 0 -4.9 0M388.89 271.86a2.45 2.45 0 1 0 4.9 0a2.45 2.45 0 1 0 -4.9 0M389.16 271.79a2.45 2.45 0 1 0 4.9 0a2.45 2.45 0 1 0 -4.9 0M389.43 271.71a2.45 2.45 0 1 0 4.9 0a2.45 2.45 0 1 0 -4.9 0M389.71 271.63a2.45 2.45 0 1 0 4.9 0a2.45 2.45 0 1 0 -4.9 0M389.98 271.55a2.45 2.45 0 1 0 4.9 0a2.45 2.45 0 1 0 -4.9 0M390.25 271.47a2.45 2.45 0 1 0 4.9 0a2.45 2.45 0 1 0 -4.9 0M390.52 271.39a2.45 2.45 0 1 0 4.9 0a2.45 2.45 0 1 0 -4.9 0M390.79 271.31a2.45 2.45 0 1 0 4.9 0a2.45 2.45 0 1 0 -4.9 0M391.05 271.23a2.45 2.45 0 1 0 4.9 0a2.45 2.45 0 1 0 -4.9 0M391.32 271.16a2.45 2.45 0 1 0 4.9 0a2.45 2.45 0 1 0 -4.9 0M391.58 271.08a2.45 2.45 0 1 0 4.9 0a2.45 2.45 0 1 0 -4.9 0M391.85 271a2.45 2.45 0 1 0 4.9 0a2.45 2.45 0 1 0 -4.9 0M392.11 270.92a2.45 2.45 0 1 0 4.9 0a2.45 2.45 0 1 0 -4.9 0M392.37 270.84a2.45 2.45 0 1 0 4.9 0a2.45 2.45 0 1 0 -4.9 0M392.63 270.76a2.45 2.45 0 1 0 4.9 0a2.45 2.45 0 1 0 -4.9 0M392.89 270.68a2.45 2.45 0 1 0 4.9 0a2.45 2.45 0 1 0 -4.9 0M393.15 270.6a2.45 2.45 0 1 0 4.9 0a2.45 2.45 0 1 0 -4.9 0M393.4 270.53a2.45 2.45 0 1 0 4.9 0a2.45 2.45 0 1 0 -4.9 0M393.66 270.45a2.45 2.45 0 1 0 4.9 0a2.45 2.45 0 1 0 -4.9 0M393.91 270.37a2.45 2.45 0 1 0 4.9 0a2.45 2.45 0 1 0 -4.9 0M394.17 270.29a2.45 2.45 0 1 0 4.9 0a2.45 2.45 0 1 0 -4.9 0M394.42 270.21a2.45 2.45 0 1 0 4.9 0a2.45 2.45 0 1 0 -4.9 0M394.67 270.13a2.45 2.45 0 1 0 4.9 0a2.45 2.45 0 1 0 -4.9 0M394.92 270.05a2.45 2.45 0 1 0 4.9 0a2.45 2.45 0 1 0 -4.9 0M395.17 269.97a2.45 2.45 0 1 0 4.9 0a2.45 2.45 0 1 0 -4.9 0M395.42 269.9a2.45 2.45 0 1 0 4.9 0a2.45 2.45 0 1 0 -4.9 0M395.67 269.82a2.45 2.45 0 1 0 4.9 0a2.45 2.45 0 1 0 -4.9 0M395.91 269.74a2.45 2.45 0 1 0 4.9 0a2.45 2.45 0 1 0 -4.9 0M396.16 269.66a2.45 2.45 0 1 0 4.9 0a2.45 2.45 0 1 0 -4.9 0M396.4 269.58a2.45 2.45 0 1 0 4.9 0a2.45 2.45 0 1 0 -4.9 0M396.65 269.5a2.45 2.45 0 1 0 4.9 0a2.45 2.45 0 1 0 -4.9 0M396.89 269.42a2.45 2.45 0 1 0 4.9 0a2.45 2.45 0 1 0 -4.9 0M397.13 269.34a2.45 2.45 0 1 0 4.9 0a2.45 2.45 0 1 0 -4.9 0M397.37 269.27a2.45 2.45 0 1 0 4.9 0a2.45 2.45 0 1 0 -4.9 0M397.61 269.19a2.45 2.45 0 1 0 4.9 0a2.45 2.45 0 1 0 -4.9 0M397.85 269.11a2.45 2.45 0 1 0 4.9 0a2.45 2.45 0 1 0 -4.9 0M398.09 269.03a2.45 2.45 0 1 0 4.9 0a2.45 2.45 0 1 0 -4.9 0M398.33 268.95a2.45 2.45 0 1 0 4.9 0a2.45 2.45 0 1 0 -4.9 0M398.56 268.87a2.45 2.45 0 1 0 4.9 0a2.45 2.45 0 1 0 -4.9 0M398.8 268.79a2.45 2.45 0 1 0 4.9 0a2.45 2.45 0 1 0 -4.9 0M399.03 268.71a2.45 2.45 0 1 0 4.9 0a2.45 2.45 0 1 0 -4.9 0M399.26 268.63a2.45 2.45 0 1 0 4.9 0a2.45 2.45 0 1 0 -4.9 0M399.5 268.56a2.45 2.45 0 1 0 4.9 0a2.45 2.45 0 1 0 -4.9 0M399.73 268.48a2.45 2.45 0 1 0 4.9 0a2.45 2.45 0 1 0 -4.9 0M399.96 268.4a2.45 2.45 0 1 0 4.9 0a2.45 2.45 0 1 0 -4.9 0M400.19 268.32a2.45 2.45 0 1 0 4.9 0a2.45 2.45 0 1 0 -4.9 0M400.65 268.16a2.45 2.45 0 1 0 4.9 0a2.45 2.45 0 1 0 -4.9 0M400.87 268.08a2.45 2.45 0 1 0 4.9 0a2.45 2.45 0 1 0 -4.9 0M401.1 268a2.45 2.45 0 1 0 4.9 0a2.45 2.45 0 1 0 -4.9 0M401.32 267.93a2.45 2.45 0 1 0 4.9 0a2.45 2.45 0 1 0 -4.9 0M401.55 267.85a2.45 2.45 0 1 0 4.9 0a2.45 2.45 0 1 0 -4.9 0M401.77 267.77a2.45 2.45 0 1 0 4.9 0a2.45 2.45 0 1 0 -4.9 0M402 267.69a2.45 2.45 0 1 0 4.9 0a2.45 2.45 0 1 0 -4.9 0M402.22 267.61a2.45 2.45 0 1 0 4.9 0a2.45 2.45 0 1 0 -4.9 0M402.44 267.53a2.45 2.45 0 1 0 4.9 0a2.45 2.45 0 1 0 -4.9 0M402.88 267.37a2.45 2.45 0 1 0 4.9 0a2.45 2.45 0 1 0 -4.9 0M403.1 267.3a2.45 2.45 0 1 0 4.9 0a2.45 2.45 0 1 0 -4.9 0M403.32 267.22a2.45 2.45 0 1 0 4.9 0a2.45 2.45 0 1 0 -4.9 0M403.54 267.14a2.45 2.45 0 1 0 4.9 0a2.45 2.45 0 1 0 -4.9 0M403.75 267.06a2.45 2.45 0 1 0 4.9 0a2.45 2.45 0 1 0 -4.9 0M403.97 266.98a2.45 2.45 0 1 0 4.9 0a2.45 2.45 0 1 0 -4.9 0M404.18 266.9a2.45 2.45 0 1 0 4.9 0a2.45 2.45 0 1 0 -4.9 0M404.4 266.82a2.45 2.45 0 1 0 4.9 0a2.45 2.45 0 1 0 -4.9 0M404.61 266.74a2.45 2.45 0 1 0 4.9 0a2.45 2.45 0 1 0 -4.9 0M404.82 266.67a2.45 2.45 0 1 0 4.9 0a2.45 2.45 0 1 0 -4.9 0M405.04 266.59a2.45 2.45 0 1 0 4.9 0a2.45 2.45 0 1 0 -4.9 0M405.25 266.51a2.45 2.45 0 1 0 4.9 0a2.45 2.45 0 1 0 -4.9 0M405.46 266.43a2.45 2.45 0 1 0 4.9 0a2.45 2.45 0 1 0 -4.9 0M405.67 266.35a2.45 2.45 0 1 0 4.9 0a2.45 2.45 0 1 0 -4.9 0M405.88 266.27a2.45 2.45 0 1 0 4.9 0a2.45 2.45 0 1 0 -4.9 0M406.09 266.19a2.45 2.45 0 1 0 4.9 0a2.45 2.45 0 1 0 -4.9 0M406.29 266.11a2.45 2.45 0 1 0 4.9 0a2.45 2.45 0 1 0 -4.9 0M406.5 266.04a2.45 2.45 0 1 0 4.9 0a2.45 2.45 0 1 0 -4.9 0M406.71 265.96a2.45 2.45 0 1 0 4.9 0a2.45 2.45 0 1 0 -4.9 0M407.12 265.8a2.45 2.45 0 1 0 4.9 0a2.45 2.45 0 1 0 -4.9 0M407.32 265.73a2.45 2.45 0 1 0 4.9 0a2.45 2.45 0 1 0 -4.9 0M407.53 265.67a2.45 2.45 0 1 0 4.9 0a2.45 2.45 0 1 0 -4.9 0M407.73 265.6a2.45 2.45 0 1 0 4.9 0a2.45 2.45 0 1 0 -4.9 0M407.93 265.53a2.45 2.45 0 1 0 4.9 0a2.45 2.45 0 1 0 -4.9 0M408.34 265.4a2.45 2.45 0 1 0 4.9 0a2.45 2.45 0 1 0 -4.9 0M408.54 265.33a2.45 2.45 0 1 0 4.9 0a2.45 2.45 0 1 0 -4.9 0M408.74 265.27a2.45 2.45 0 1 0 4.9 0a2.45 2.45 0 1 0 -4.9 0M408.94 265.2a2.45 2.45 0 1 0 4.9 0a2.45 2.45 0 1 0 -4.9 0M409.33 265.07a2.45 2.45 0 1 0 4.9 0a2.45 2.45 0 1 0 -4.9 0M409.53 265a2.45 2.45 0 1 0 4.9 0a2.45 2.45 0 1 0 -4.9 0M409.73 264.94a2.45 2.45 0 1 0 4.9 0a2.45 2.45 0 1 0 -4.9 0M409.92 264.87a2.45 2.45 0 1 0 4.9 0a2.45 2.45 0 1 0 -4.9 0M410.12 264.8a2.45 2.45 0 1 0 4.9 0a2.45 2.45 0 1 0 -4.9 0M410.31 264.74a2.45 2.45 0 1 0 4.9 0a2.45 2.45 0 1 0 -4.9 0M410.51 264.67a2.45 2.45 0 1 0 4.9 0a2.45 2.45 0 1 0 -4.9 0M410.7 264.61a2.45 2.45 0 1 0 4.9 0a2.45 2.45 0 1 0 -4.9 0M411.08 264.47a2.45 2.45 0 1 0 4.9 0a2.45 2.45 0 1 0 -4.9 0M411.28 264.41a2.45 2.45 0 1 0 4.9 0a2.45 2.45 0 1 0 -4.9 0M411.47 264.34a2.45 2.45 0 1 0 4.9 0a2.45 2.45 0 1 0 -4.9 0M411.85 264.21a2.45 2.45 0 1 0 4.9 0a2.45 2.45 0 1 0 -4.9 0M412.04 264.14a2.45 2.45 0 1 0 4.9 0a2.45 2.45 0 1 0 -4.9 0M412.23 264.07a2.45 2.45 0 1 0 4.9 0a2.45 2.45 0 1 0 -4.9 0M412.6 263.94a2.45 2.45 0 1 0 4.9 0a2.45 2.45 0 1 0 -4.9 0M412.79 263.88a2.45 2.45 0 1 0 4.9 0a2.45 2.45 0 1 0 -4.9 0M412.97 263.81a2.45 2.45 0 1 0 4.9 0a2.45 2.45 0 1 0 -4.9 0M413.35 263.68a2.45 2.45 0 1 0 4.9 0a2.45 2.45 0 1 0 -4.9 0M413.53 263.61a2.45 2.45 0 1 0 4.9 0a2.45 2.45 0 1 0 -4.9 0M413.71 263.54a2.45 2.45 0 1 0 4.9 0a2.45 2.45 0 1 0 -4.9 0M414.08 263.41a2.45 2.45 0 1 0 4.9 0a2.45 2.45 0 1 0 -4.9 0M414.26 263.35a2.45 2.45 0 1 0 4.9 0a2.45 2.45 0 1 0 -4.9 0M414.45 263.28a2.45 2.45 0 1 0 4.9 0a2.45 2.45 0 1 0 -4.9 0M414.81 263.15a2.45 2.45 0 1 0 4.9 0a2.45 2.45 0 1 0 -4.9 0M414.99 263.08a2.45 2.45 0 1 0 4.9 0a2.45 2.45 0 1 0 -4.9 0M415.35 262.95a2.45 2.45 0 1 0 4.9 0a2.45 2.45 0 1 0 -4.9 0M415.53 262.88a2.45 2.45 0 1 0 4.9 0a2.45 2.45 0 1 0 -4.9 0M415.7 262.81a2.45 2.45 0 1 0 4.9 0a2.45 2.45 0 1 0 -4.9 0M416.06 262.68a2.45 2.45 0 1 0 4.9 0a2.45 2.45 0 1 0 -4.9 0M416.24 262.62a2.45 2.45 0 1 0 4.9 0a2.45 2.45 0 1 0 -4.9 0M416.59 262.48a2.45 2.45 0 1 0 4.9 0a2.45 2.45 0 1 0 -4.9 0M416.76 262.42a2.45 2.45 0 1 0 4.9 0a2.45 2.45 0 1 0 -4.9 0M416.94 262.35a2.45 2.45 0 1 0 4.9 0a2.45 2.45 0 1 0 -4.9 0M417.29 262.22a2.45 2.45 0 1 0 4.9 0a2.45 2.45 0 1 0 -4.9 0M417.46 262.15a2.45 2.45 0 1 0 4.9 0a2.45 2.45 0 1 0 -4.9 0M417.63 262.09a2.45 2.45 0 1 0 4.9 0a2.45 2.45 0 1 0 -4.9 0M417.8 262.02a2.45 2.45 0 1 0 4.9 0a2.45 2.45 0 1 0 -4.9 0M417.98 261.95a2.45 2.45 0 1 0 4.9 0a2.45 2.45 0 1 0 -4.9 0M418.32 261.82a2.45 2.45 0 1 0 4.9 0a2.45 2.45 0 1 0 -4.9 0M418.49 261.75a2.45 2.45 0 1 0 4.9 0a2.45 2.45 0 1 0 -4.9 0M418.83 261.62a2.45 2.45 0 1 0 4.9 0a2.45 2.45 0 1 0 -4.9 0M419 261.55a2.45 2.45 0 1 0 4.9 0a2.45 2.45 0 1 0 -4.9 0M419.33 261.42a2.45 2.45 0 1 0 4.9 0a2.45 2.45 0 1 0 -4.9 0M419.5 261.36a2.45 2.45 0 1 0 4.9 0a2.45 2.45 0 1 0 -4.9 0M419.83 261.22a2.45 2.45 0 1 0 4.9 0a2.45 2.45 0 1 0 -4.9 0M420 261.16a2.45 2.45 0 1 0 4.9 0a2.45 2.45 0 1 0 -4.9 0M420.17 261.09a2.45 2.45 0 1 0 4.9 0a2.45 2.45 0 1 0 -4.9 0M420.33 261.02a2.45 2.45 0 1 0 4.9 0a2.45 2.45 0 1 0 -4.9 0M420.5 260.96a2.45 2.45 0 1 0 4.9 0a2.45 2.45 0 1 0 -4.9 0M420.82 260.83a2.45 2.45 0 1 0 4.9 0a2.45 2.45 0 1 0 -4.9 0M420.99 260.76a2.45 2.45 0 1 0 4.9 0a2.45 2.45 0 1 0 -4.9 0M421.31 260.63a2.45 2.45 0 1 0 4.9 0a2.45 2.45 0 1 0 -4.9 0M421.48 260.56a2.45 2.45 0 1 0 4.9 0a2.45 2.45 0 1 0 -4.9 0M421.8 260.43a2.45 2.45 0 1 0 4.9 0a2.45 2.45 0 1 0 -4.9 0M421.96 260.36a2.45 2.45 0 1 0 4.9 0a2.45 2.45 0 1 0 -4.9 0M422.28 260.23a2.45 2.45 0 1 0 4.9 0a2.45 2.45 0 1 0 -4.9 0M422.44 260.16a2.45 2.45 0 1 0 4.9 0a2.45 2.45 0 1 0 -4.9 0M422.6 260.1a2.45 2.45 0 1 0 4.9 0a2.45 2.45 0 1 0 -4.9 0M422.76 260.03a2.45 2.45 0 1 0 4.9 0a2.45 2.45 0 1 0 -4.9 0M423.08 259.9a2.45 2.45 0 1 0 4.9 0a2.45 2.45 0 1 0 -4.9 0M423.23 259.83a2.45 2.45 0 1 0 4.9 0a2.45 2.45 0 1 0 -4.9 0M423.55 259.7a2.45 2.45 0 1 0 4.9 0a2.45 2.45 0 1 0 -4.9 0M423.7 259.63a2.45 2.45 0 1 0 4.9 0a2.45 2.45 0 1 0 -4.9 0M423.86 259.57a2.45 2.45 0 1 0 4.9 0a2.45 2.45 0 1 0 -4.9 0M424.01 259.5a2.45 2.45 0 1 0 4.9 0a2.45 2.45 0 1 0 -4.9 0M424.33 259.37a2.45 2.45 0 1 0 4.9 0a2.45 2.45 0 1 0 -4.9 0M424.48 259.3a2.45 2.45 0 1 0 4.9 0a2.45 2.45 0 1 0 -4.9 0M424.79 259.17a2.45 2.45 0 1 0 4.9 0a2.45 2.45 0 1 0 -4.9 0M424.94 259.1a2.45 2.45 0 1 0 4.9 0a2.45 2.45 0 1 0 -4.9 0M425.25 258.97a2.45 2.45 0 1 0 4.9 0a2.45 2.45 0 1 0 -4.9 0M425.55 258.84a2.45 2.45 0 1 0 4.9 0a2.45 2.45 0 1 0 -4.9 0M425.7 258.77a2.45 2.45 0 1 0 4.9 0a2.45 2.45 0 1 0 -4.9 0M426 258.64a2.45 2.45 0 1 0 4.9 0a2.45 2.45 0 1 0 -4.9 0M426.15 258.57a2.45 2.45 0 1 0 4.9 0a2.45 2.45 0 1 0 -4.9 0M426.3 258.5a2.45 2.45 0 1 0 4.9 0a2.45 2.45 0 1 0 -4.9 0M426.45 258.44a2.45 2.45 0 1 0 4.9 0a2.45 2.45 0 1 0 -4.9 0M426.6 258.37a2.45 2.45 0 1 0 4.9 0a2.45 2.45 0 1 0 -4.9 0M426.75 258.31a2.45 2.45 0 1 0 4.9 0a2.45 2.45 0 1 0 -4.9 0M427.05 258.17a2.45 2.45 0 1 0 4.9 0a2.45 2.45 0 1 0 -4.9 0M427.19 258.11a2.45 2.45 0 1 0 4.9 0a2.45 2.45 0 1 0 -4.9 0M427.49 257.97a2.45 2.45 0 1 0 4.9 0a2.45 2.45 0 1 0 -4.9 0M427.78 257.84a2.45 2.45 0 1 0 4.9 0a2.45 2.45 0 1 0 -4.9 0M427.93 257.78a2.45 2.45 0 1 0 4.9 0a2.45 2.45 0 1 0 -4.9 0M428.22 257.64a2.45 2.45 0 1 0 4.9 0a2.45 2.45 0 1 0 -4.9 0M428.36 257.58a2.45 2.45 0 1 0 4.9 0a2.45 2.45 0 1 0 -4.9 0M428.51 257.51a2.45 2.45 0 1 0 4.9 0a2.45 2.45 0 1 0 -4.9 0M428.8 257.38a2.45 2.45 0 1 0 4.9 0a2.45 2.45 0 1 0 -4.9 0M428.94 257.31a2.45 2.45 0 1 0 4.9 0a2.45 2.45 0 1 0 -4.9 0M429.23 257.18a2.45 2.45 0 1 0 4.9 0a2.45 2.45 0 1 0 -4.9 0M429.37 257.11a2.45 2.45 0 1 0 4.9 0a2.45 2.45 0 1 0 -4.9 0M429.51 257.05a2.45 2.45 0 1 0 4.9 0a2.45 2.45 0 1 0 -4.9 0M429.79 256.91a2.45 2.45 0 1 0 4.9 0a2.45 2.45 0 1 0 -4.9 0M429.94 256.85a2.45 2.45 0 1 0 4.9 0a2.45 2.45 0 1 0 -4.9 0M430.22 256.71a2.45 2.45 0 1 0 4.9 0a2.45 2.45 0 1 0 -4.9 0M430.5 256.58a2.45 2.45 0 1 0 4.9 0a2.45 2.45 0 1 0 -4.9 0M430.78 256.45a2.45 2.45 0 1 0 4.9 0a2.45 2.45 0 1 0 -4.9 0M431.05 256.32a2.45 2.45 0 1 0 4.9 0a2.45 2.45 0 1 0 -4.9 0M431.19 256.25a2.45 2.45 0 1 0 4.9 0a2.45 2.45 0 1 0 -4.9 0M431.47 256.12a2.45 2.45 0 1 0 4.9 0a2.45 2.45 0 1 0 -4.9 0M431.74 255.98a2.45 2.45 0 1 0 4.9 0a2.45 2.45 0 1 0 -4.9 0M432.02 255.85a2.45 2.45 0 1 0 4.9 0a2.45 2.45 0 1 0 -4.9 0M432.29 255.75a2.45 2.45 0 1 0 4.9 0a2.45 2.45 0 1 0 -4.9 0M432.56 255.65a2.45 2.45 0 1 0 4.9 0a2.45 2.45 0 1 0 -4.9 0M432.69 255.6a2.45 2.45 0 1 0 4.9 0a2.45 2.45 0 1 0 -4.9 0M432.96 255.5a2.45 2.45 0 1 0 4.9 0a2.45 2.45 0 1 0 -4.9 0M433.23 255.4a2.45 2.45 0 1 0 4.9 0a2.45 2.45 0 1 0 -4.9 0M433.37 255.35a2.45 2.45 0 1 0 4.9 0a2.45 2.45 0 1 0 -4.9 0M433.5 255.3a2.45 2.45 0 1 0 4.9 0a2.45 2.45 0 1 0 -4.9 0M433.76 255.2a2.45 2.45 0 1 0 4.9 0a2.45 2.45 0 1 0 -4.9 0M434.03 255.1a2.45 2.45 0 1 0 4.9 0a2.45 2.45 0 1 0 -4.9 0M434.29 255a2.45 2.45 0 1 0 4.9 0a2.45 2.45 0 1 0 -4.9 0M434.55 254.9a2.45 2.45 0 1 0 4.9 0a2.45 2.45 0 1 0 -4.9 0M434.69 254.85a2.45 2.45 0 1 0 4.9 0a2.45 2.45 0 1 0 -4.9 0M434.95 254.75a2.45 2.45 0 1 0 4.9 0a2.45 2.45 0 1 0 -4.9 0M435.21 254.66a2.45 2.45 0 1 0 4.9 0a2.45 2.45 0 1 0 -4.9 0M435.33 254.61a2.45 2.45 0 1 0 4.9 0a2.45 2.45 0 1 0 -4.9 0M435.46 254.56a2.45 2.45 0 1 0 4.9 0a2.45 2.45 0 1 0 -4.9 0M435.72 254.46a2.45 2.45 0 1 0 4.9 0a2.45 2.45 0 1 0 -4.9 0M435.98 254.36a2.45 2.45 0 1 0 4.9 0a2.45 2.45 0 1 0 -4.9 0M436.23 254.26a2.45 2.45 0 1 0 4.9 0a2.45 2.45 0 1 0 -4.9 0M436.49 254.16a2.45 2.45 0 1 0 4.9 0a2.45 2.45 0 1 0 -4.9 0M436.61 254.11a2.45 2.45 0 1 0 4.9 0a2.45 2.45 0 1 0 -4.9 0M436.74 254.06a2.45 2.45 0 1 0 4.9 0a2.45 2.45 0 1 0 -4.9 0M436.99 253.96a2.45 2.45 0 1 0 4.9 0a2.45 2.45 0 1 0 -4.9 0M437.24 253.86a2.45 2.45 0 1 0 4.9 0a2.45 2.45 0 1 0 -4.9 0M437.49 253.76a2.45 2.45 0 1 0 4.9 0a2.45 2.45 0 1 0 -4.9 0M437.74 253.66a2.45 2.45 0 1 0 4.9 0a2.45 2.45 0 1 0 -4.9 0M437.87 253.61a2.45 2.45 0 1 0 4.9 0a2.45 2.45 0 1 0 -4.9 0M437.99 253.56a2.45 2.45 0 1 0 4.9 0a2.45 2.45 0 1 0 -4.9 0M438.24 253.46a2.45 2.45 0 1 0 4.9 0a2.45 2.45 0 1 0 -4.9 0M438.48 253.36a2.45 2.45 0 1 0 4.9 0a2.45 2.45 0 1 0 -4.9 0M438.73 253.26a2.45 2.45 0 1 0 4.9 0a2.45 2.45 0 1 0 -4.9 0M438.97 253.16a2.45 2.45 0 1 0 4.9 0a2.45 2.45 0 1 0 -4.9 0M439.09 253.11a2.45 2.45 0 1 0 4.9 0a2.45 2.45 0 1 0 -4.9 0M439.21 253.06a2.45 2.45 0 1 0 4.9 0a2.45 2.45 0 1 0 -4.9 0M439.46 252.96a2.45 2.45 0 1 0 4.9 0a2.45 2.45 0 1 0 -4.9 0M439.7 252.86a2.45 2.45 0 1 0 4.9 0a2.45 2.45 0 1 0 -4.9 0M439.94 252.76a2.45 2.45 0 1 0 4.9 0a2.45 2.45 0 1 0 -4.9 0M440.18 252.66a2.45 2.45 0 1 0 4.9 0a2.45 2.45 0 1 0 -4.9 0M440.3 252.61a2.45 2.45 0 1 0 4.9 0a2.45 2.45 0 1 0 -4.9 0M440.53 252.51a2.45 2.45 0 1 0 4.9 0a2.45 2.45 0 1 0 -4.9 0M440.77 252.41a2.45 2.45 0 1 0 4.9 0a2.45 2.45 0 1 0 -4.9 0M440.89 252.36a2.45 2.45 0 1 0 4.9 0a2.45 2.45 0 1 0 -4.9 0M441.01 252.31a2.45 2.45 0 1 0 4.9 0a2.45 2.45 0 1 0 -4.9 0M441.24 252.21a2.45 2.45 0 1 0 4.9 0a2.45 2.45 0 1 0 -4.9 0M441.48 252.11a2.45 2.45 0 1 0 4.9 0a2.45 2.45 0 1 0 -4.9 0M441.71 252.01a2.45 2.45 0 1 0 4.9 0a2.45 2.45 0 1 0 -4.9 0M441.94 251.91a2.45 2.45 0 1 0 4.9 0a2.45 2.45 0 1 0 -4.9 0M442.06 251.86a2.45 2.45 0 1 0 4.9 0a2.45 2.45 0 1 0 -4.9 0M442.29 251.76a2.45 2.45 0 1 0 4.9 0a2.45 2.45 0 1 0 -4.9 0M442.52 251.66a2.45 2.45 0 1 0 4.9 0a2.45 2.45 0 1 0 -4.9 0M442.63 251.61a2.45 2.45 0 1 0 4.9 0a2.45 2.45 0 1 0 -4.9 0M442.75 251.56a2.45 2.45 0 1 0 4.9 0a2.45 2.45 0 1 0 -4.9 0M442.98 251.46a2.45 2.45 0 1 0 4.9 0a2.45 2.45 0 1 0 -4.9 0M443.2 251.36a2.45 2.45 0 1 0 4.9 0a2.45 2.45 0 1 0 -4.9 0M443.43 251.26a2.45 2.45 0 1 0 4.9 0a2.45 2.45 0 1 0 -4.9 0M443.77 251.11a2.45 2.45 0 1 0 4.9 0a2.45 2.45 0 1 0 -4.9 0M443.99 251.01a2.45 2.45 0 1 0 4.9 0a2.45 2.45 0 1 0 -4.9 0M444.22 250.91a2.45 2.45 0 1 0 4.9 0a2.45 2.45 0 1 0 -4.9 0M444.33 250.86a2.45 2.45 0 1 0 4.9 0a2.45 2.45 0 1 0 -4.9 0M444.44 250.81a2.45 2.45 0 1 0 4.9 0a2.45 2.45 0 1 0 -4.9 0M444.77 250.67a2.45 2.45 0 1 0 4.9 0a2.45 2.45 0 1 0 -4.9 0M444.88 250.62a2.45 2.45 0 1 0 4.9 0a2.45 2.45 0 1 0 -4.9 0M445 250.57a2.45 2.45 0 1 0 4.9 0a2.45 2.45 0 1 0 -4.9 0M445.22 250.47a2.45 2.45 0 1 0 4.9 0a2.45 2.45 0 1 0 -4.9 0M445.44 250.37a2.45 2.45 0 1 0 4.9 0a2.45 2.45 0 1 0 -4.9 0M445.76 250.22a2.45 2.45 0 1 0 4.9 0a2.45 2.45 0 1 0 -4.9 0M445.98 250.12a2.45 2.45 0 1 0 4.9 0a2.45 2.45 0 1 0 -4.9 0M446.2 250.02a2.45 2.45 0 1 0 4.9 0a2.45 2.45 0 1 0 -4.9 0M446.52 249.87a2.45 2.45 0 1 0 4.9 0a2.45 2.45 0 1 0 -4.9 0M446.74 249.77a2.45 2.45 0 1 0 4.9 0a2.45 2.45 0 1 0 -4.9 0M446.95 249.67a2.45 2.45 0 1 0 4.9 0a2.45 2.45 0 1 0 -4.9 0M447.06 249.62a2.45 2.45 0 1 0 4.9 0a2.45 2.45 0 1 0 -4.9 0M447.27 249.52a2.45 2.45 0 1 0 4.9 0a2.45 2.45 0 1 0 -4.9 0M447.48 249.42a2.45 2.45 0 1 0 4.9 0a2.45 2.45 0 1 0 -4.9 0M447.59 249.37a2.45 2.45 0 1 0 4.9 0a2.45 2.45 0 1 0 -4.9 0M447.69 249.32a2.45 2.45 0 1 0 4.9 0a2.45 2.45 0 1 0 -4.9 0M448.01 249.17a2.45 2.45 0 1 0 4.9 0a2.45 2.45 0 1 0 -4.9 0M448.11 249.12a2.45 2.45 0 1 0 4.9 0a2.45 2.45 0 1 0 -4.9 0M448.22 249.07a2.45 2.45 0 1 0 4.9 0a2.45 2.45 0 1 0 -4.9 0M448.43 248.97a2.45 2.45 0 1 0 4.9 0a2.45 2.45 0 1 0 -4.9 0M448.64 248.87a2.45 2.45 0 1 0 4.9 0a2.45 2.45 0 1 0 -4.9 0M448.74 248.82a2.45 2.45 0 1 0 4.9 0a2.45 2.45 0 1 0 -4.9 0M448.95 248.72a2.45 2.45 0 1 0 4.9 0a2.45 2.45 0 1 0 -4.9 0M449.15 248.62a2.45 2.45 0 1 0 4.9 0a2.45 2.45 0 1 0 -4.9 0M449.26 248.57a2.45 2.45 0 1 0 4.9 0a2.45 2.45 0 1 0 -4.9 0M449.46 248.47a2.45 2.45 0 1 0 4.9 0a2.45 2.45 0 1 0 -4.9 0M449.67 248.37a2.45 2.45 0 1 0 4.9 0a2.45 2.45 0 1 0 -4.9 0M449.77 248.32a2.45 2.45 0 1 0 4.9 0a2.45 2.45 0 1 0 -4.9 0M449.97 248.22a2.45 2.45 0 1 0 4.9 0a2.45 2.45 0 1 0 -4.9 0M450.18 248.12a2.45 2.45 0 1 0 4.9 0a2.45 2.45 0 1 0 -4.9 0M450.48 247.97a2.45 2.45 0 1 0 4.9 0a2.45 2.45 0 1 0 -4.9 0M450.68 247.87a2.45 2.45 0 1 0 4.9 0a2.45 2.45 0 1 0 -4.9 0M450.98 247.72a2.45 2.45 0 1 0 4.9 0a2.45 2.45 0 1 0 -4.9 0M451.18 247.62a2.45 2.45 0 1 0 4.9 0a2.45 2.45 0 1 0 -4.9 0M451.48 247.47a2.45 2.45 0 1 0 4.9 0a2.45 2.45 0 1 0 -4.9 0M451.68 247.37a2.45 2.45 0 1 0 4.9 0a2.45 2.45 0 1 0 -4.9 0M451.97 247.22a2.45 2.45 0 1 0 4.9 0a2.45 2.45 0 1 0 -4.9 0M452.17 247.12a2.45 2.45 0 1 0 4.9 0a2.45 2.45 0 1 0 -4.9 0M452.27 247.07a2.45 2.45 0 1 0 4.9 0a2.45 2.45 0 1 0 -4.9 0M452.46 246.97a2.45 2.45 0 1 0 4.9 0a2.45 2.45 0 1 0 -4.9 0M452.66 246.87a2.45 2.45 0 1 0 4.9 0a2.45 2.45 0 1 0 -4.9 0M452.76 246.82a2.45 2.45 0 1 0 4.9 0a2.45 2.45 0 1 0 -4.9 0M452.95 246.72a2.45 2.45 0 1 0 4.9 0a2.45 2.45 0 1 0 -4.9 0M453.24 246.58a2.45 2.45 0 1 0 4.9 0a2.45 2.45 0 1 0 -4.9 0M453.43 246.48a2.45 2.45 0 1 0 4.9 0a2.45 2.45 0 1 0 -4.9 0M453.72 246.33a2.45 2.45 0 1 0 4.9 0a2.45 2.45 0 1 0 -4.9 0M454.01 246.18a2.45 2.45 0 1 0 4.9 0a2.45 2.45 0 1 0 -4.9 0M454.2 246.08a2.45 2.45 0 1 0 4.9 0a2.45 2.45 0 1 0 -4.9 0M454.48 245.93a2.45 2.45 0 1 0 4.9 0a2.45 2.45 0 1 0 -4.9 0M454.67 245.83a2.45 2.45 0 1 0 4.9 0a2.45 2.45 0 1 0 -4.9 0M454.76 245.78a2.45 2.45 0 1 0 4.9 0a2.45 2.45 0 1 0 -4.9 0M454.95 245.68a2.45 2.45 0 1 0 4.9 0a2.45 2.45 0 1 0 -4.9 0M455.14 245.58a2.45 2.45 0 1 0 4.9 0a2.45 2.45 0 1 0 -4.9 0M455.23 245.53a2.45 2.45 0 1 0 4.9 0a2.45 2.45 0 1 0 -4.9 0M455.51 245.38a2.45 2.45 0 1 0 4.9 0a2.45 2.45 0 1 0 -4.9 0M455.61 245.33a2.45 2.45 0 1 0 4.9 0a2.45 2.45 0 1 0 -4.9 0M455.7 245.28a2.45 2.45 0 1 0 4.9 0a2.45 2.45 0 1 0 -4.9 0M455.98 245.13a2.45 2.45 0 1 0 4.9 0a2.45 2.45 0 1 0 -4.9 0M456.07 245.08a2.45 2.45 0 1 0 4.9 0a2.45 2.45 0 1 0 -4.9 0M456.25 244.98a2.45 2.45 0 1 0 4.9 0a2.45 2.45 0 1 0 -4.9 0M456.44 244.88a2.45 2.45 0 1 0 4.9 0a2.45 2.45 0 1 0 -4.9 0M456.53 244.83a2.45 2.45 0 1 0 4.9 0a2.45 2.45 0 1 0 -4.9 0M456.71 244.73a2.45 2.45 0 1 0 4.9 0a2.45 2.45 0 1 0 -4.9 0M456.98 244.58a2.45 2.45 0 1 0 4.9 0a2.45 2.45 0 1 0 -4.9 0M457.25 244.43a2.45 2.45 0 1 0 4.9 0a2.45 2.45 0 1 0 -4.9 0M457.43 244.33a2.45 2.45 0 1 0 4.9 0a2.45 2.45 0 1 0 -4.9 0M457.7 244.18a2.45 2.45 0 1 0 4.9 0a2.45 2.45 0 1 0 -4.9 0M457.88 244.09a2.45 2.45 0 1 0 4.9 0a2.45 2.45 0 1 0 -4.9 0M457.97 244.04a2.45 2.45 0 1 0 4.9 0a2.45 2.45 0 1 0 -4.9 0M458.24 243.89a2.45 2.45 0 1 0 4.9 0a2.45 2.45 0 1 0 -4.9 0M458.33 243.84a2.45 2.45 0 1 0 4.9 0a2.45 2.45 0 1 0 -4.9 0M458.5 243.75a2.45 2.45 0 1 0 4.9 0a2.45 2.45 0 1 0 -4.9 0M458.68 243.65a2.45 2.45 0 1 0 4.9 0a2.45 2.45 0 1 0 -4.9 0M458.77 243.6a2.45 2.45 0 1 0 4.9 0a2.45 2.45 0 1 0 -4.9 0M458.95 243.5a2.45 2.45 0 1 0 4.9 0a2.45 2.45 0 1 0 -4.9 0M459.21 243.36a2.45 2.45 0 1 0 4.9 0a2.45 2.45 0 1 0 -4.9 0M459.47 243.21a2.45 2.45 0 1 0 4.9 0a2.45 2.45 0 1 0 -4.9 0M459.64 243.11a2.45 2.45 0 1 0 4.9 0a2.45 2.45 0 1 0 -4.9 0M459.73 243.06a2.45 2.45 0 1 0 4.9 0a2.45 2.45 0 1 0 -4.9 0M459.99 242.92a2.45 2.45 0 1 0 4.9 0a2.45 2.45 0 1 0 -4.9 0M460.08 242.87a2.45 2.45 0 1 0 4.9 0a2.45 2.45 0 1 0 -4.9 0M460.25 242.77a2.45 2.45 0 1 0 4.9 0a2.45 2.45 0 1 0 -4.9 0M460.51 242.62a2.45 2.45 0 1 0 4.9 0a2.45 2.45 0 1 0 -4.9 0M460.68 242.53a2.45 2.45 0 1 0 4.9 0a2.45 2.45 0 1 0 -4.9 0M460.93 242.38a2.45 2.45 0 1 0 4.9 0a2.45 2.45 0 1 0 -4.9 0M461.02 242.33a2.45 2.45 0 1 0 4.9 0a2.45 2.45 0 1 0 -4.9 0M461.19 242.23a2.45 2.45 0 1 0 4.9 0a2.45 2.45 0 1 0 -4.9 0M461.44 242.09a2.45 2.45 0 1 0 4.9 0a2.45 2.45 0 1 0 -4.9 0M461.69 241.94a2.45 2.45 0 1 0 4.9 0a2.45 2.45 0 1 0 -4.9 0M461.86 241.85a2.45 2.45 0 1 0 4.9 0a2.45 2.45 0 1 0 -4.9 0M461.95 241.8a2.45 2.45 0 1 0 4.9 0a2.45 2.45 0 1 0 -4.9 0M462.2 241.65a2.45 2.45 0 1 0 4.9 0a2.45 2.45 0 1 0 -4.9 0M462.28 241.6a2.45 2.45 0 1 0 4.9 0a2.45 2.45 0 1 0 -4.9 0M462.45 241.5a2.45 2.45 0 1 0 4.9 0a2.45 2.45 0 1 0 -4.9 0M462.69 241.36a2.45 2.45 0 1 0 4.9 0a2.45 2.45 0 1 0 -4.9 0M462.94 241.21a2.45 2.45 0 1 0 4.9 0a2.45 2.45 0 1 0 -4.9 0M463.11 241.11a2.45 2.45 0 1 0 4.9 0a2.45 2.45 0 1 0 -4.9 0M463.19 241.07a2.45 2.45 0 1 0 4.9 0a2.45 2.45 0 1 0 -4.9 0M463.43 240.92a2.45 2.45 0 1 0 4.9 0a2.45 2.45 0 1 0 -4.9 0M463.52 240.87a2.45 2.45 0 1 0 4.9 0a2.45 2.45 0 1 0 -4.9 0M463.68 240.77a2.45 2.45 0 1 0 4.9 0a2.45 2.45 0 1 0 -4.9 0M464 240.58a2.45 2.45 0 1 0 4.9 0a2.45 2.45 0 1 0 -4.9 0M464.24 240.43a2.45 2.45 0 1 0 4.9 0a2.45 2.45 0 1 0 -4.9 0M464.41 240.33a2.45 2.45 0 1 0 4.9 0a2.45 2.45 0 1 0 -4.9 0M464.49 240.29a2.45 2.45 0 1 0 4.9 0a2.45 2.45 0 1 0 -4.9 0M464.73 240.14a2.45 2.45 0 1 0 4.9 0a2.45 2.45 0 1 0 -4.9 0M464.81 240.09a2.45 2.45 0 1 0 4.9 0a2.45 2.45 0 1 0 -4.9 0M464.97 239.99a2.45 2.45 0 1 0 4.9 0a2.45 2.45 0 1 0 -4.9 0M465.2 239.85a2.45 2.45 0 1 0 4.9 0a2.45 2.45 0 1 0 -4.9 0M465.44 239.7a2.45 2.45 0 1 0 4.9 0a2.45 2.45 0 1 0 -4.9 0M465.6 239.6a2.45 2.45 0 1 0 4.9 0a2.45 2.45 0 1 0 -4.9 0M465.68 239.56a2.45 2.45 0 1 0 4.9 0a2.45 2.45 0 1 0 -4.9 0M465.99 239.35a2.45 2.45 0 1 0 4.9 0a2.45 2.45 0 1 0 -4.9 0M466.23 239.17a2.45 2.45 0 1 0 4.9 0a2.45 2.45 0 1 0 -4.9 0M466.3 239.11a2.45 2.45 0 1 0 4.9 0a2.45 2.45 0 1 0 -4.9 0M466.46 239a2.45 2.45 0 1 0 4.9 0a2.45 2.45 0 1 0 -4.9 0M466.69 238.82a2.45 2.45 0 1 0 4.9 0a2.45 2.45 0 1 0 -4.9 0M467 238.58a2.45 2.45 0 1 0 4.9 0a2.45 2.45 0 1 0 -4.9 0M467.23 238.41a2.45 2.45 0 1 0 4.9 0a2.45 2.45 0 1 0 -4.9 0M467.31 238.35a2.45 2.45 0 1 0 4.9 0a2.45 2.45 0 1 0 -4.9 0M467.46 238.23a2.45 2.45 0 1 0 4.9 0a2.45 2.45 0 1 0 -4.9 0M467.61 238.11a2.45 2.45 0 1 0 4.9 0a2.45 2.45 0 1 0 -4.9 0M467.69 238.05a2.45 2.45 0 1 0 4.9 0a2.45 2.45 0 1 0 -4.9 0M468 237.82a2.45 2.45 0 1 0 4.9 0a2.45 2.45 0 1 0 -4.9 0M468.22 237.64a2.45 2.45 0 1 0 4.9 0a2.45 2.45 0 1 0 -4.9 0M468.3 237.58a2.45 2.45 0 1 0 4.9 0a2.45 2.45 0 1 0 -4.9 0M468.45 237.46a2.45 2.45 0 1 0 4.9 0a2.45 2.45 0 1 0 -4.9 0M468.6 237.34a2.45 2.45 0 1 0 4.9 0a2.45 2.45 0 1 0 -4.9 0M468.75 237.23a2.45 2.45 0 1 0 4.9 0a2.45 2.45 0 1 0 -4.9 0M468.9 237.11a2.45 2.45 0 1 0 4.9 0a2.45 2.45 0 1 0 -4.9 0M468.97 237.05a2.45 2.45 0 1 0 4.9 0a2.45 2.45 0 1 0 -4.9 0M469.2 236.87a2.45 2.45 0 1 0 4.9 0a2.45 2.45 0 1 0 -4.9 0M469.49 236.64a2.45 2.45 0 1 0 4.9 0a2.45 2.45 0 1 0 -4.9 0M469.57 236.58a2.45 2.45 0 1 0 4.9 0a2.45 2.45 0 1 0 -4.9 0M469.71 236.46a2.45 2.45 0 1 0 4.9 0a2.45 2.45 0 1 0 -4.9 0M469.86 236.34a2.45 2.45 0 1 0 4.9 0a2.45 2.45 0 1 0 -4.9 0M469.93 236.28a2.45 2.45 0 1 0 4.9 0a2.45 2.45 0 1 0 -4.9 0M470.15 236.11a2.45 2.45 0 1 0 4.9 0a2.45 2.45 0 1 0 -4.9 0M470.23 236.05a2.45 2.45 0 1 0 4.9 0a2.45 2.45 0 1 0 -4.9 0M470.45 235.87a2.45 2.45 0 1 0 4.9 0a2.45 2.45 0 1 0 -4.9 0M470.74 235.63a2.45 2.45 0 1 0 4.9 0a2.45 2.45 0 1 0 -4.9 0M470.81 235.57a2.45 2.45 0 1 0 4.9 0a2.45 2.45 0 1 0 -4.9 0M470.95 235.46a2.45 2.45 0 1 0 4.9 0a2.45 2.45 0 1 0 -4.9 0M471.1 235.34a2.45 2.45 0 1 0 4.9 0a2.45 2.45 0 1 0 -4.9 0M471.24 235.22a2.45 2.45 0 1 0 4.9 0a2.45 2.45 0 1 0 -4.9 0M471.39 235.1a2.45 2.45 0 1 0 4.9 0a2.45 2.45 0 1 0 -4.9 0M471.46 235.04a2.45 2.45 0 1 0 4.9 0a2.45 2.45 0 1 0 -4.9 0M471.67 234.87a2.45 2.45 0 1 0 4.9 0a2.45 2.45 0 1 0 -4.9 0M471.74 234.81a2.45 2.45 0 1 0 4.9 0a2.45 2.45 0 1 0 -4.9 0M471.96 234.63a2.45 2.45 0 1 0 4.9 0a2.45 2.45 0 1 0 -4.9 0M472.03 234.57a2.45 2.45 0 1 0 4.9 0a2.45 2.45 0 1 0 -4.9 0M472.24 234.39a2.45 2.45 0 1 0 4.9 0a2.45 2.45 0 1 0 -4.9 0M472.31 234.34a2.45 2.45 0 1 0 4.9 0a2.45 2.45 0 1 0 -4.9 0M472.45 234.22a2.45 2.45 0 1 0 4.9 0a2.45 2.45 0 1 0 -4.9 0M472.59 234.1a2.45 2.45 0 1 0 4.9 0a2.45 2.45 0 1 0 -4.9 0M472.73 233.98a2.45 2.45 0 1 0 4.9 0a2.45 2.45 0 1 0 -4.9 0M472.87 233.86a2.45 2.45 0 1 0 4.9 0a2.45 2.45 0 1 0 -4.9 0M472.94 233.8a2.45 2.45 0 1 0 4.9 0a2.45 2.45 0 1 0 -4.9 0M473.22 233.57a2.45 2.45 0 1 0 4.9 0a2.45 2.45 0 1 0 -4.9 0M473.43 233.39a2.45 2.45 0 1 0 4.9 0a2.45 2.45 0 1 0 -4.9 0M473.5 233.33a2.45 2.45 0 1 0 4.9 0a2.45 2.45 0 1 0 -4.9 0M473.71 233.16a2.45 2.45 0 1 0 4.9 0a2.45 2.45 0 1 0 -4.9 0M473.78 233.1a2.45 2.45 0 1 0 4.9 0a2.45 2.45 0 1 0 -4.9 0M473.98 232.92a2.45 2.45 0 1 0 4.9 0a2.45 2.45 0 1 0 -4.9 0M474.05 232.86a2.45 2.45 0 1 0 4.9 0a2.45 2.45 0 1 0 -4.9 0M474.19 232.74a2.45 2.45 0 1 0 4.9 0a2.45 2.45 0 1 0 -4.9 0M474.33 232.62a2.45 2.45 0 1 0 4.9 0a2.45 2.45 0 1 0 -4.9 0M474.46 232.51a2.45 2.45 0 1 0 4.9 0a2.45 2.45 0 1 0 -4.9 0M474.67 232.31a2.45 2.45 0 1 0 4.9 0a2.45 2.45 0 1 0 -4.9 0M474.73 232.25a2.45 2.45 0 1 0 4.9 0a2.45 2.45 0 1 0 -4.9 0M474.87 232.12a2.45 2.45 0 1 0 4.9 0a2.45 2.45 0 1 0 -4.9 0M474.94 232.05a2.45 2.45 0 1 0 4.9 0a2.45 2.45 0 1 0 -4.9 0M475.14 231.86a2.45 2.45 0 1 0 4.9 0a2.45 2.45 0 1 0 -4.9 0M475.21 231.79a2.45 2.45 0 1 0 4.9 0a2.45 2.45 0 1 0 -4.9 0M475.41 231.6a2.45 2.45 0 1 0 4.9 0a2.45 2.45 0 1 0 -4.9 0M475.48 231.53a2.45 2.45 0 1 0 4.9 0a2.45 2.45 0 1 0 -4.9 0M475.68 231.34a2.45 2.45 0 1 0 4.9 0a2.45 2.45 0 1 0 -4.9 0M475.94 231.08a2.45 2.45 0 1 0 4.9 0a2.45 2.45 0 1 0 -4.9 0M476.21 230.82a2.45 2.45 0 1 0 4.9 0a2.45 2.45 0 1 0 -4.9 0M476.41 230.62a2.45 2.45 0 1 0 4.9 0a2.45 2.45 0 1 0 -4.9 0M476.47 230.56a2.45 2.45 0 1 0 4.9 0a2.45 2.45 0 1 0 -4.9 0M476.67 230.36a2.45 2.45 0 1 0 4.9 0a2.45 2.45 0 1 0 -4.9 0M476.74 230.29a2.45 2.45 0 1 0 4.9 0a2.45 2.45 0 1 0 -4.9 0M476.93 230.1a2.45 2.45 0 1 0 4.9 0a2.45 2.45 0 1 0 -4.9 0M477.2 229.84a2.45 2.45 0 1 0 4.9 0a2.45 2.45 0 1 0 -4.9 0M477.46 229.58a2.45 2.45 0 1 0 4.9 0a2.45 2.45 0 1 0 -4.9 0M477.72 229.32a2.45 2.45 0 1 0 4.9 0a2.45 2.45 0 1 0 -4.9 0M477.91 229.12a2.45 2.45 0 1 0 4.9 0a2.45 2.45 0 1 0 -4.9 0M477.97 229.06a2.45 2.45 0 1 0 4.9 0a2.45 2.45 0 1 0 -4.9 0M478.17 228.86a2.45 2.45 0 1 0 4.9 0a2.45 2.45 0 1 0 -4.9 0M478.23 228.8a2.45 2.45 0 1 0 4.9 0a2.45 2.45 0 1 0 -4.9 0M478.42 228.6a2.45 2.45 0 1 0 4.9 0a2.45 2.45 0 1 0 -4.9 0M478.49 228.54a2.45 2.45 0 1 0 4.9 0a2.45 2.45 0 1 0 -4.9 0M478.68 228.34a2.45 2.45 0 1 0 4.9 0a2.45 2.45 0 1 0 -4.9 0M478.93 228.08a2.45 2.45 0 1 0 4.9 0a2.45 2.45 0 1 0 -4.9 0M479.18 227.82a2.45 2.45 0 1 0 4.9 0a2.45 2.45 0 1 0 -4.9 0M479.44 227.56a2.45 2.45 0 1 0 4.9 0a2.45 2.45 0 1 0 -4.9 0M479.63 227.34a2.45 2.45 0 1 0 4.9 0a2.45 2.45 0 1 0 -4.9 0M479.69 227.24a2.45 2.45 0 1 0 4.9 0a2.45 2.45 0 1 0 -4.9 0M479.81 227.06a2.45 2.45 0 1 0 4.9 0a2.45 2.45 0 1 0 -4.9 0M479.94 226.87a2.45 2.45 0 1 0 4.9 0a2.45 2.45 0 1 0 -4.9 0M480.12 226.59a2.45 2.45 0 1 0 4.9 0a2.45 2.45 0 1 0 -4.9 0M480.19 226.49a2.45 2.45 0 1 0 4.9 0a2.45 2.45 0 1 0 -4.9 0M480.31 226.3a2.45 2.45 0 1 0 4.9 0a2.45 2.45 0 1 0 -4.9 0M480.43 226.12a2.45 2.45 0 1 0 4.9 0a2.45 2.45 0 1 0 -4.9 0M480.62 225.83a2.45 2.45 0 1 0 4.9 0a2.45 2.45 0 1 0 -4.9 0M480.68 225.74a2.45 2.45 0 1 0 4.9 0a2.45 2.45 0 1 0 -4.9 0M480.8 225.55a2.45 2.45 0 1 0 4.9 0a2.45 2.45 0 1 0 -4.9 0M480.93 225.36a2.45 2.45 0 1 0 4.9 0a2.45 2.45 0 1 0 -4.9 0M481.11 225.08a2.45 2.45 0 1 0 4.9 0a2.45 2.45 0 1 0 -4.9 0M481.23 224.89a2.45 2.45 0 1 0 4.9 0a2.45 2.45 0 1 0 -4.9 0M481.29 224.8a2.45 2.45 0 1 0 4.9 0a2.45 2.45 0 1 0 -4.9 0M481.42 224.61a2.45 2.45 0 1 0 4.9 0a2.45 2.45 0 1 0 -4.9 0M481.48 224.52a2.45 2.45 0 1 0 4.9 0a2.45 2.45 0 1 0 -4.9 0M481.6 224.33a2.45 2.45 0 1 0 4.9 0a2.45 2.45 0 1 0 -4.9 0M481.72 224.14a2.45 2.45 0 1 0 4.9 0a2.45 2.45 0 1 0 -4.9 0M481.78 224.05a2.45 2.45 0 1 0 4.9 0a2.45 2.45 0 1 0 -4.9 0M481.9 223.86a2.45 2.45 0 1 0 4.9 0a2.45 2.45 0 1 0 -4.9 0M481.96 223.77a2.45 2.45 0 1 0 4.9 0a2.45 2.45 0 1 0 -4.9 0M482.08 223.58a2.45 2.45 0 1 0 4.9 0a2.45 2.45 0 1 0 -4.9 0M482.2 223.39a2.45 2.45 0 1 0 4.9 0a2.45 2.45 0 1 0 -4.9 0M482.26 223.3a2.45 2.45 0 1 0 4.9 0a2.45 2.45 0 1 0 -4.9 0M482.38 223.11a2.45 2.45 0 1 0 4.9 0a2.45 2.45 0 1 0 -4.9 0M482.44 223.01a2.45 2.45 0 1 0 4.9 0a2.45 2.45 0 1 0 -4.9 0M482.56 222.83a2.45 2.45 0 1 0 4.9 0a2.45 2.45 0 1 0 -4.9 0M482.68 222.64a2.45 2.45 0 1 0 4.9 0a2.45 2.45 0 1 0 -4.9 0M482.74 222.54a2.45 2.45 0 1 0 4.9 0a2.45 2.45 0 1 0 -4.9 0M482.86 222.36a2.45 2.45 0 1 0 4.9 0a2.45 2.45 0 1 0 -4.9 0M482.98 222.13a2.45 2.45 0 1 0 4.9 0a2.45 2.45 0 1 0 -4.9 0M483.04 222.02a2.45 2.45 0 1 0 4.9 0a2.45 2.45 0 1 0 -4.9 0M483.16 221.79a2.45 2.45 0 1 0 4.9 0a2.45 2.45 0 1 0 -4.9 0M483.22 221.68a2.45 2.45 0 1 0 4.9 0a2.45 2.45 0 1 0 -4.9 0M483.27 221.57a2.45 2.45 0 1 0 4.9 0a2.45 2.45 0 1 0 -4.9 0M483.39 221.34a2.45 2.45 0 1 0 4.9 0a2.45 2.45 0 1 0 -4.9 0M483.45 221.23a2.45 2.45 0 1 0 4.9 0a2.45 2.45 0 1 0 -4.9 0M483.51 221.12a2.45 2.45 0 1 0 4.9 0a2.45 2.45 0 1 0 -4.9 0M483.69 220.78a2.45 2.45 0 1 0 4.9 0a2.45 2.45 0 1 0 -4.9 0M483.8 220.55a2.45 2.45 0 1 0 4.9 0a2.45 2.45 0 1 0 -4.9 0M483.92 220.33a2.45 2.45 0 1 0 4.9 0a2.45 2.45 0 1 0 -4.9 0M483.98 220.21a2.45 2.45 0 1 0 4.9 0a2.45 2.45 0 1 0 -4.9 0M484.04 220.1a2.45 2.45 0 1 0 4.9 0a2.45 2.45 0 1 0 -4.9 0M484.21 219.76a2.45 2.45 0 1 0 4.9 0a2.45 2.45 0 1 0 -4.9 0M484.33 219.54a2.45 2.45 0 1 0 4.9 0a2.45 2.45 0 1 0 -4.9 0M484.44 219.31a2.45 2.45 0 1 0 4.9 0a2.45 2.45 0 1 0 -4.9 0M484.56 219.09a2.45 2.45 0 1 0 4.9 0a2.45 2.45 0 1 0 -4.9 0M484.68 218.86a2.45 2.45 0 1 0 4.9 0a2.45 2.45 0 1 0 -4.9 0M484.85 218.52a2.45 2.45 0 1 0 4.9 0a2.45 2.45 0 1 0 -4.9 0M484.96 218.3a2.45 2.45 0 1 0 4.9 0a2.45 2.45 0 1 0 -4.9 0M485.08 218.07a2.45 2.45 0 1 0 4.9 0a2.45 2.45 0 1 0 -4.9 0M485.19 217.85a2.45 2.45 0 1 0 4.9 0a2.45 2.45 0 1 0 -4.9 0M485.31 217.62a2.45 2.45 0 1 0 4.9 0a2.45 2.45 0 1 0 -4.9 0M485.48 217.28a2.45 2.45 0 1 0 4.9 0a2.45 2.45 0 1 0 -4.9 0M485.54 217.11a2.45 2.45 0 1 0 4.9 0a2.45 2.45 0 1 0 -4.9 0M485.65 216.75a2.45 2.45 0 1 0 4.9 0a2.45 2.45 0 1 0 -4.9 0M485.71 216.57a2.45 2.45 0 1 0 4.9 0a2.45 2.45 0 1 0 -4.9 0M485.82 216.22a2.45 2.45 0 1 0 4.9 0a2.45 2.45 0 1 0 -4.9 0M485.88 216.04a2.45 2.45 0 1 0 4.9 0a2.45 2.45 0 1 0 -4.9 0M485.93 215.87a2.45 2.45 0 1 0 4.9 0a2.45 2.45 0 1 0 -4.9 0M486.05 215.51a2.45 2.45 0 1 0 4.9 0a2.45 2.45 0 1 0 -4.9 0M486.1 215.34a2.45 2.45 0 1 0 4.9 0a2.45 2.45 0 1 0 -4.9 0M486.21 214.98a2.45 2.45 0 1 0 4.9 0a2.45 2.45 0 1 0 -4.9 0M486.27 214.8a2.45 2.45 0 1 0 4.9 0a2.45 2.45 0 1 0 -4.9 0M486.38 214.45a2.45 2.45 0 1 0 4.9 0a2.45 2.45 0 1 0 -4.9 0M486.44 214.27a2.45 2.45 0 1 0 4.9 0a2.45 2.45 0 1 0 -4.9 0M486.5 214.1a2.45 2.45 0 1 0 4.9 0a2.45 2.45 0 1 0 -4.9 0M486.61 213.74a2.45 2.45 0 1 0 4.9 0a2.45 2.45 0 1 0 -4.9 0M486.66 213.57a2.45 2.45 0 1 0 4.9 0a2.45 2.45 0 1 0 -4.9 0M486.72 213.39a2.45 2.45 0 1 0 4.9 0a2.45 2.45 0 1 0 -4.9 0M486.77 213.21a2.45 2.45 0 1 0 4.9 0a2.45 2.45 0 1 0 -4.9 0M486.83 213.03a2.45 2.45 0 1 0 4.9 0a2.45 2.45 0 1 0 -4.9 0M486.89 212.86a2.45 2.45 0 1 0 4.9 0a2.45 2.45 0 1 0 -4.9 0M486.94 212.68a2.45 2.45 0 1 0 4.9 0a2.45 2.45 0 1 0 -4.9 0M487 212.5a2.45 2.45 0 1 0 4.9 0a2.45 2.45 0 1 0 -4.9 0M487.05 212.33a2.45 2.45 0 1 0 4.9 0a2.45 2.45 0 1 0 -4.9 0M487.16 211.97a2.45 2.45 0 1 0 4.9 0a2.45 2.45 0 1 0 -4.9 0M487.22 211.8a2.45 2.45 0 1 0 4.9 0a2.45 2.45 0 1 0 -4.9 0M487.27 211.62a2.45 2.45 0 1 0 4.9 0a2.45 2.45 0 1 0 -4.9 0M487.39 211.26a2.45 2.45 0 1 0 4.9 0a2.45 2.45 0 1 0 -4.9 0M487.44 211.09a2.45 2.45 0 1 0 4.9 0a2.45 2.45 0 1 0 -4.9 0M487.55 210.73a2.45 2.45 0 1 0 4.9 0a2.45 2.45 0 1 0 -4.9 0M487.61 210.56a2.45 2.45 0 1 0 4.9 0a2.45 2.45 0 1 0 -4.9 0M487.72 210.16a2.45 2.45 0 1 0 4.9 0a2.45 2.45 0 1 0 -4.9 0M487.77 209.95a2.45 2.45 0 1 0 4.9 0a2.45 2.45 0 1 0 -4.9 0M487.83 209.73a2.45 2.45 0 1 0 4.9 0a2.45 2.45 0 1 0 -4.9 0M487.88 209.52a2.45 2.45 0 1 0 4.9 0a2.45 2.45 0 1 0 -4.9 0M487.94 209.3a2.45 2.45 0 1 0 4.9 0a2.45 2.45 0 1 0 -4.9 0M487.99 209.08a2.45 2.45 0 1 0 4.9 0a2.45 2.45 0 1 0 -4.9 0M488.04 208.87a2.45 2.45 0 1 0 4.9 0a2.45 2.45 0 1 0 -4.9 0M488.15 208.44a2.45 2.45 0 1 0 4.9 0a2.45 2.45 0 1 0 -4.9 0M488.21 208.22a2.45 2.45 0 1 0 4.9 0a2.45 2.45 0 1 0 -4.9 0M488.26 208a2.45 2.45 0 1 0 4.9 0a2.45 2.45 0 1 0 -4.9 0M488.32 207.79a2.45 2.45 0 1 0 4.9 0a2.45 2.45 0 1 0 -4.9 0M488.37 207.57a2.45 2.45 0 1 0 4.9 0a2.45 2.45 0 1 0 -4.9 0M488.43 207.35a2.45 2.45 0 1 0 4.9 0a2.45 2.45 0 1 0 -4.9 0M488.53 206.92a2.45 2.45 0 1 0 4.9 0a2.45 2.45 0 1 0 -4.9 0M488.59 206.71a2.45 2.45 0 1 0 4.9 0a2.45 2.45 0 1 0 -4.9 0M488.64 206.49a2.45 2.45 0 1 0 4.9 0a2.45 2.45 0 1 0 -4.9 0M488.7 206.27a2.45 2.45 0 1 0 4.9 0a2.45 2.45 0 1 0 -4.9 0M488.75 206.06a2.45 2.45 0 1 0 4.9 0a2.45 2.45 0 1 0 -4.9 0M488.8 205.84a2.45 2.45 0 1 0 4.9 0a2.45 2.45 0 1 0 -4.9 0M488.91 205.41a2.45 2.45 0 1 0 4.9 0a2.45 2.45 0 1 0 -4.9 0M488.97 205.19a2.45 2.45 0 1 0 4.9 0a2.45 2.45 0 1 0 -4.9 0M489.02 204.98a2.45 2.45 0 1 0 4.9 0a2.45 2.45 0 1 0 -4.9 0M489.07 204.76a2.45 2.45 0 1 0 4.9 0a2.45 2.45 0 1 0 -4.9 0M489.13 204.55a2.45 2.45 0 1 0 4.9 0a2.45 2.45 0 1 0 -4.9 0M489.18 204.33a2.45 2.45 0 1 0 4.9 0a2.45 2.45 0 1 0 -4.9 0M489.23 204.11a2.45 2.45 0 1 0 4.9 0a2.45 2.45 0 1 0 -4.9 0M489.34 203.68a2.45 2.45 0 1 0 4.9 0a2.45 2.45 0 1 0 -4.9 0M489.4 203.39a2.45 2.45 0 1 0 4.9 0a2.45 2.45 0 1 0 -4.9 0M489.45 203.1a2.45 2.45 0 1 0 4.9 0a2.45 2.45 0 1 0 -4.9 0M489.5 202.81a2.45 2.45 0 1 0 4.9 0a2.45 2.45 0 1 0 -4.9 0M489.56 202.52a2.45 2.45 0 1 0 4.9 0a2.45 2.45 0 1 0 -4.9 0M489.61 202.22a2.45 2.45 0 1 0 4.9 0a2.45 2.45 0 1 0 -4.9 0M489.66 201.93a2.45 2.45 0 1 0 4.9 0a2.45 2.45 0 1 0 -4.9 0M489.71 201.64a2.45 2.45 0 1 0 4.9 0a2.45 2.45 0 1 0 -4.9 0M489.77 201.35a2.45 2.45 0 1 0 4.9 0a2.45 2.45 0 1 0 -4.9 0M489.82 201.06a2.45 2.45 0 1 0 4.9 0a2.45 2.45 0 1 0 -4.9 0M489.87 200.77a2.45 2.45 0 1 0 4.9 0a2.45 2.45 0 1 0 -4.9 0M489.93 200.48a2.45 2.45 0 1 0 4.9 0a2.45 2.45 0 1 0 -4.9 0M489.98 200.19a2.45 2.45 0 1 0 4.9 0a2.45 2.45 0 1 0 -4.9 0M490.03 199.89a2.45 2.45 0 1 0 4.9 0a2.45 2.45 0 1 0 -4.9 0M490.09 199.6a2.45 2.45 0 1 0 4.9 0a2.45 2.45 0 1 0 -4.9 0M490.14 199.31a2.45 2.45 0 1 0 4.9 0a2.45 2.45 0 1 0 -4.9 0M490.19 199.02a2.45 2.45 0 1 0 4.9 0a2.45 2.45 0 1 0 -4.9 0M490.24 198.73a2.45 2.45 0 1 0 4.9 0a2.45 2.45 0 1 0 -4.9 0M490.3 198.44a2.45 2.45 0 1 0 4.9 0a2.45 2.45 0 1 0 -4.9 0M490.35 198.15a2.45 2.45 0 1 0 4.9 0a2.45 2.45 0 1 0 -4.9 0M490.4 197.86a2.45 2.45 0 1 0 4.9 0a2.45 2.45 0 1 0 -4.9 0M490.45 197.56a2.45 2.45 0 1 0 4.9 0a2.45 2.45 0 1 0 -4.9 0M490.51 197.27a2.45 2.45 0 1 0 4.9 0a2.45 2.45 0 1 0 -4.9 0M490.56 196.98a2.45 2.45 0 1 0 4.9 0a2.45 2.45 0 1 0 -4.9 0M490.61 196.54a2.45 2.45 0 1 0 4.9 0a2.45 2.45 0 1 0 -4.9 0M490.66 196.09a2.45 2.45 0 1 0 4.9 0a2.45 2.45 0 1 0 -4.9 0M490.72 195.64a2.45 2.45 0 1 0 4.9 0a2.45 2.45 0 1 0 -4.9 0M490.77 195.2a2.45 2.45 0 1 0 4.9 0a2.45 2.45 0 1 0 -4.9 0M490.82 194.75a2.45 2.45 0 1 0 4.9 0a2.45 2.45 0 1 0 -4.9 0M490.87 194.3a2.45 2.45 0 1 0 4.9 0a2.45 2.45 0 1 0 -4.9 0M490.93 193.86a2.45 2.45 0 1 0 4.9 0a2.45 2.45 0 1 0 -4.9 0M490.98 193.41a2.45 2.45 0 1 0 4.9 0a2.45 2.45 0 1 0 -4.9 0M491.03 192.96a2.45 2.45 0 1 0 4.9 0a2.45 2.45 0 1 0 -4.9 0M491.08 192.52a2.45 2.45 0 1 0 4.9 0a2.45 2.45 0 1 0 -4.9 0M491.13 192.07a2.45 2.45 0 1 0 4.9 0a2.45 2.45 0 1 0 -4.9 0M491.19 191.62a2.45 2.45 0 1 0 4.9 0a2.45 2.45 0 1 0 -4.9 0M491.24 191.18a2.45 2.45 0 1 0 4.9 0a2.45 2.45 0 1 0 -4.9 0M491.29 190.73a2.45 2.45 0 1 0 4.9 0a2.45 2.45 0 1 0 -4.9 0M491.34 190.28a2.45 2.45 0 1 0 4.9 0a2.45 2.45 0 1 0 -4.9 0M491.39 189.65a2.45 2.45 0 1 0 4.9 0a2.45 2.45 0 1 0 -4.9 0M491.44 189.01a2.45 2.45 0 1 0 4.9 0a2.45 2.45 0 1 0 -4.9 0M491.5 188.38a2.45 2.45 0 1 0 4.9 0a2.45 2.45 0 1 0 -4.9 0M491.55 187.75a2.45 2.45 0 1 0 4.9 0a2.45 2.45 0 1 0 -4.9 0M491.6 187.11a2.45 2.45 0 1 0 4.9 0a2.45 2.45 0 1 0 -4.9 0M491.65 186.48a2.45 2.45 0 1 0 4.9 0a2.45 2.45 0 1 0 -4.9 0M491.7 185.84a2.45 2.45 0 1 0 4.9 0a2.45 2.45 0 1 0 -4.9 0M491.75 185.21a2.45 2.45 0 1 0 4.9 0a2.45 2.45 0 1 0 -4.9 0M491.8 184.57a2.45 2.45 0 1 0 4.9 0a2.45 2.45 0 1 0 -4.9 0M491.86 183.94a2.45 2.45 0 1 0 4.9 0a2.45 2.45 0 1 0 -4.9 0M491.91 183.3a2.45 2.45 0 1 0 4.9 0a2.45 2.45 0 1 0 -4.9 0M491.96 182.67a2.45 2.45 0 1 0 4.9 0a2.45 2.45 0 1 0 -4.9 0M492.01 182.04a2.45 2.45 0 1 0 4.9 0a2.45 2.45 0 1 0 -4.9 0M492.06 181.4a2.45 2.45 0 1 0 4.9 0a2.45 2.45 0 1 0 -4.9 0M492.11 180.77a2.45 2.45 0 1 0 4.9 0a2.45 2.45 0 1 0 -4.9 0M492.16 180.13a2.45 2.45 0 1 0 4.9 0a2.45 2.45 0 1 0 -4.9 0M492.21 179.12a2.45 2.45 0 1 0 4.9 0a2.45 2.45 0 1 0 -4.9 0M492.27 178.1a2.45 2.45 0 1 0 4.9 0a2.45 2.45 0 1 0 -4.9 0M492.32 177.09a2.45 2.45 0 1 0 4.9 0a2.45 2.45 0 1 0 -4.9 0M492.37 176.07a2.45 2.45 0 1 0 4.9 0a2.45 2.45 0 1 0 -4.9 0M492.42 175.06a2.45 2.45 0 1 0 4.9 0a2.45 2.45 0 1 0 -4.9 0M492.47 174.04a2.45 2.45 0 1 0 4.9 0a2.45 2.45 0 1 0 -4.9 0M492.52 173.03a2.45 2.45 0 1 0 4.9 0a2.45 2.45 0 1 0 -4.9 0M492.57 172.01a2.45 2.45 0 1 0 4.9 0a2.45 2.45 0 1 0 -4.9 0M492.62 171a2.45 2.45 0 1 0 4.9 0a2.45 2.45 0 1 0 -4.9 0M492.67 169.98a2.45 2.45 0 1 0 4.9 0a2.45 2.45 0 1 0 -4.9 0M492.72 169.13a2.45 2.45 0 1 0 4.9 0a2.45 2.45 0 1 0 -4.9 0M492.77 168.28a2.45 2.45 0 1 0 4.9 0a2.45 2.45 0 1 0 -4.9 0M492.82 167.43a2.45 2.45 0 1 0 4.9 0a2.45 2.45 0 1 0 -4.9 0M492.87 166.57a2.45 2.45 0 1 0 4.9 0a2.45 2.45 0 1 0 -4.9 0M492.92 165.72a2.45 2.45 0 1 0 4.9 0a2.45 2.45 0 1 0 -4.9 0M492.98 164.87a2.45 2.45 0 1 0 4.9 0a2.45 2.45 0 1 0 -4.9 0M493.03 164.01a2.45 2.45 0 1 0 4.9 0a2.45 2.45 0 1 0 -4.9 0M493.08 163.16a2.45 2.45 0 1 0 4.9 0a2.45 2.45 0 1 0 -4.9 0M493.13 162.31a2.45 2.45 0 1 0 4.9 0a2.45 2.45 0 1 0 -4.9 0M493.18 161.46a2.45 2.45 0 1 0 4.9 0a2.45 2.45 0 1 0 -4.9 0M493.23 158.66a2.45 2.45 0 1 0 4.9 0a2.45 2.45 0 1 0 -4.9 0M493.28 155.85a2.45 2.45 0 1 0 4.9 0a2.45 2.45 0 1 0 -4.9 0M493.33 153.05a2.45 2.45 0 1 0 4.9 0a2.45 2.45 0 1 0 -4.9 0M493.38 150.25a2.45 2.45 0 1 0 4.9 0a2.45 2.45 0 1 0 -4.9 0M493.43 147.45a2.45 2.45 0 1 0 4.9 0a2.45 2.45 0 1 0 -4.9 0M493.48 145.22a2.45 2.45 0 1 0 4.9 0a2.45 2.45 0 1 0 -4.9 0M493.53 142.98a2.45 2.45 0 1 0 4.9 0a2.45 2.45 0 1 0 -4.9 0M493.58 140.75a2.45 2.45 0 1 0 4.9 0a2.45 2.45 0 1 0 -4.9 0M493.63 138.52a2.45 2.45 0 1 0 4.9 0a2.45 2.45 0 1 0 -4.9 0M493.68 136.29a2.45 2.45 0 1 0 4.9 0a2.45 2.45 0 1 0 -4.9 0M493.73 134.05a2.45 2.45 0 1 0 4.9 0a2.45 2.45 0 1 0 -4.9 0M493.78 137.3a2.45 2.45 0 1 0 4.9 0a2.45 2.45 0 1 0 -4.9 0M493.83 132.83a2.45 2.45 0 1 0 4.9 0a2.45 2.45 0 1 0 -4.9 0M493.88 129.79a2.45 2.45 0 1 0 4.9 0a2.45 2.45 0 1 0 -4.9 0M493.93 126.54a2.45 2.45 0 1 0 4.9 0a2.45 2.45 0 1 0 -4.9 0M493.98 122.28a2.45 2.45 0 1 0 4.9 0a2.45 2.45 0 1 0 -4.9 0M494.02 117.61a2.45 2.45 0 1 0 4.9 0a2.45 2.45 0 1 0 -4.9 0M494.07 112.94a2.45 2.45 0 1 0 4.9 0a2.45 2.45 0 1 0 -4.9 0M494.12 108.07a2.45 2.45 0 1 0 4.9 0a2.45 2.45 0 1 0 -4.9 0M494.17 103.3a2.45 2.45 0 1 0 4.9 0a2.45 2.45 0 1 0 -4.9 0M494.22 97.41a2.45 2.45 0 1 0 4.9 0a2.45 2.45 0 1 0 -4.9 0M494.27 92.34a2.45 2.45 0 1 0 4.9 0a2.45 2.45 0 1 0 -4.9 0M494.32 86.04a2.45 2.45 0 1 0 4.9 0a2.45 2.45 0 1 0 -4.9 0M494.37 79.45a2.45 2.45 0 1 0 4.9 0a2.45 2.45 0 1 0 -4.9 0M494.42 72.54a2.45 2.45 0 1 0 4.9 0a2.45 2.45 0 1 0 -4.9 0M494.47 65.34a2.45 2.45 0 1 0 4.9 0a2.45 2.45 0 1 0 -4.9 0M494.52 58.64a2.45 2.45 0 1 0 4.9 0a2.45 2.45 0 1 0 -4.9 0M494.57 54.88a2.45 2.45 0 1 0 4.9 0a2.45 2.45 0 1 0 -4.9 0M494.62 51.13a2.45 2.45 0 1 0 4.9 0a2.45 2.45 0 1 0 -4.9 0M494.67 45.65a2.45 2.45 0 1 0 4.9 0a2.45 2.45 0 1 0 -4.9 0M494.71 45.04a2.45 2.45 0 1 0 4.9 0a2.45 2.45 0 1 0 -4.9 0"/>
<path fill="none" stroke="#f01818" stroke-width="0.65" d="M58.4 327.51a2.1 2.1 0 1 0 4.2 0a2.1 2.1 0 1 0 -4.2 0M100.85 327.51a2.1 2.1 0 1 0 4.2 0a2.1 2.1 0 1 0 -4.2 0M125.67 327.92a2.1 2.1 0 1 0 4.2 0a2.1 2.1 0 1 0 -4.2 0M143.29 327.51a2.1 2.1 0 1 0 4.2 0a2.1 2.1 0 1 0 -4.2 0M156.95 326.9a2.1 2.1 0 1 0 4.2 0a2.1 2.1 0 1 0 -4.2 0M168.12 326.7a2.1 2.1 0 1 0 4.2 0a2.1 2.1 0 1 0 -4.2 0M177.56 326.5a2.1 2.1 0 1 0 4.2 0a2.1 2.1 0 1 0 -4.2 0M185.74 326.09a2.1 2.1 0 1 0 4.2 0a2.1 2.1 0 1 0 -4.2 0M192.95 326.09a2.1 2.1 0 1 0 4.2 0a2.1 2.1 0 1 0 -4.2 0M199.4 325.68a2.1 2.1 0 1 0 4.2 0a2.1 2.1 0 1 0 -4.2 0M205.24 324.67a2.1 2.1 0 1 0 4.2 0a2.1 2.1 0 1 0 -4.2 0M210.56 324.26a2.1 2.1 0 1 0 4.2 0a2.1 2.1 0 1 0 -4.2 0M215.47 323.65a2.1 2.1 0 1 0 4.2 0a2.1 2.1 0 1 0 -4.2 0M220 323.25a2.1 2.1 0 1 0 4.2 0a2.1 2.1 0 1 0 -4.2 0M224.23 322.84a2.1 2.1 0 1 0 4.2 0a2.1 2.1 0 1 0 -4.2 0M228.18 322.64a2.1 2.1 0 1 0 4.2 0a2.1 2.1 0 1 0 -4.2 0M231.89 322.44a2.1 2.1 0 1 0 4.2 0a2.1 2.1 0 1 0 -4.2 0M235.39 322.44a2.1 2.1 0 1 0 4.2 0a2.1 2.1 0 1 0 -4.2 0M238.7 322.36a2.1 2.1 0 1 0 4.2 0a2.1 2.1 0 1 0 -4.2 0M241.85 321.62a2.1 2.1 0 1 0 4.2 0a2.1 2.1 0 1 0 -4.2 0M244.83 321.79a2.1 2.1 0 1 0 4.2 0a2.1 2.1 0 1 0 -4.2 0M247.68 321.95a2.1 2.1 0 1 0 4.2 0a2.1 2.1 0 1 0 -4.2 0M250.4 322.39a2.1 2.1 0 1 0 4.2 0a2.1 2.1 0 1 0 -4.2 0M253.01 323.1a2.1 2.1 0 1 0 4.2 0a2.1 2.1 0 1 0 -4.2 0M255.51 324.36a2.1 2.1 0 1 0 4.2 0a2.1 2.1 0 1 0 -4.2 0M257.91 324.47a2.1 2.1 0 1 0 4.2 0a2.1 2.1 0 1 0 -4.2 0M260.22 324.09a2.1 2.1 0 1 0 4.2 0a2.1 2.1 0 1 0 -4.2 0M262.45 323.39a2.1 2.1 0 1 0 4.2 0a2.1 2.1 0 1 0 -4.2 0M264.6 325.17a2.1 2.1 0 1 0 4.2 0a2.1 2.1 0 1 0 -4.2 0M266.67 325.02a2.1 2.1 0 1 0 4.2 0a2.1 2.1 0 1 0 -4.2 0M268.68 325.71a2.1 2.1 0 1 0 4.2 0a2.1 2.1 0 1 0 -4.2 0M270.63 326.64a2.1 2.1 0 1 0 4.2 0a2.1 2.1 0 1 0 -4.2 0M272.51 325.93a2.1 2.1 0 1 0 4.2 0a2.1 2.1 0 1 0 -4.2 0M274.34 327.08a2.1 2.1 0 1 0 4.2 0a2.1 2.1 0 1 0 -4.2 0M276.11 327.93a2.1 2.1 0 1 0 4.2 0a2.1 2.1 0 1 0 -4.2 0M277.84 326.57a2.1 2.1 0 1 0 4.2 0a2.1 2.1 0 1 0 -4.2 0M279.52 327.02a2.1 2.1 0 1 0 4.2 0a2.1 2.1 0 1 0 -4.2 0M281.15 328.74a2.1 2.1 0 1 0 4.2 0a2.1 2.1 0 1 0 -4.2 0M282.74 328.19a2.1 2.1 0 1 0 4.2 0a2.1 2.1 0 1 0 -4.2 0M284.29 328.69a2.1 2.1 0 1 0 4.2 0a2.1 2.1 0 1 0 -4.2 0M285.8 328.23a2.1 2.1 0 1 0 4.2 0a2.1 2.1 0 1 0 -4.2 0M287.28 329.15a2.1 2.1 0 1 0 4.2 0a2.1 2.1 0 1 0 -4.2 0M288.72 328.65a2.1 2.1 0 1 0 4.2 0a2.1 2.1 0 1 0 -4.2 0M290.13 330.37a2.1 2.1 0 1 0 4.2 0a2.1 2.1 0 1 0 -4.2 0M291.5 329.01a2.1 2.1 0 1 0 4.2 0a2.1 2.1 0 1 0 -4.2 0M292.85 329.94a2.1 2.1 0 1 0 4.2 0a2.1 2.1 0 1 0 -4.2 0M294.17 330.17a2.1 2.1 0 1 0 4.2 0a2.1 2.1 0 1 0 -4.2 0M295.46 328.77a2.1 2.1 0 1 0 4.2 0a2.1 2.1 0 1 0 -4.2 0M296.72 328.38a2.1 2.1 0 1 0 4.2 0a2.1 2.1 0 1 0 -4.2 0M297.95 328.7a2.1 2.1 0 1 0 4.2 0a2.1 2.1 0 1 0 -4.2 0M299.17 328.6a2.1 2.1 0 1 0 4.2 0a2.1 2.1 0 1 0 -4.2 0M300.36 328.05a2.1 2.1 0 1 0 4.2 0a2.1 2.1 0 1 0 -4.2 0M301.52 329.18a2.1 2.1 0 1 0 4.2 0a2.1 2.1 0 1 0 -4.2 0M302.67 328.97a2.1 2.1 0 1 0 4.2 0a2.1 2.1 0 1 0 -4.2 0M303.79 331.12a2.1 2.1 0 1 0 4.2 0a2.1 2.1 0 1 0 -4.2 0M304.89 330.42a2.1 2.1 0 1 0 4.2 0a2.1 2.1 0 1 0 -4.2 0M305.98 330.81a2.1 2.1 0 1 0 4.2 0a2.1 2.1 0 1 0 -4.2 0M307.04 332.49a2.1 2.1 0 1 0 4.2 0a2.1 2.1 0 1 0 -4.2 0M308.09 332.77a2.1 2.1 0 1 0 4.2 0a2.1 2.1 0 1 0 -4.2 0M309.12 332.33a2.1 2.1 0 1 0 4.2 0a2.1 2.1 0 1 0 -4.2 0M310.13 333.65a2.1 2.1 0 1 0 4.2 0a2.1 2.1 0 1 0 -4.2 0M311.13 333.46a2.1 2.1 0 1 0 4.2 0a2.1 2.1 0 1 0 -4.2 0M312.11 333.71a2.1 2.1 0 1 0 4.2 0a2.1 2.1 0 1 0 -4.2 0M313.07 333.64a2.1 2.1 0 1 0 4.2 0a2.1 2.1 0 1 0 -4.2 0M314.02 333.93a2.1 2.1 0 1 0 4.2 0a2.1 2.1 0 1 0 -4.2 0M314.96 333a2.1 2.1 0 1 0 4.2 0a2.1 2.1 0 1 0 -4.2 0M315.88 331.03a2.1 2.1 0 1 0 4.2 0a2.1 2.1 0 1 0 -4.2 0M316.78 330.6a2.1 2.1 0 1 0 4.2 0a2.1 2.1 0 1 0 -4.2 0M317.68 332.47a2.1 2.1 0 1 0 4.2 0a2.1 2.1 0 1 0 -4.2 0M318.56 331.22a2.1 2.1 0 1 0 4.2 0a2.1 2.1 0 1 0 -4.2 0M319.43 331.12a2.1 2.1 0 1 0 4.2 0a2.1 2.1 0 1 0 -4.2 0M320.28 332.32a2.1 2.1 0 1 0 4.2 0a2.1 2.1 0 1 0 -4.2 0M321.13 331.75a2.1 2.1 0 1 0 4.2 0a2.1 2.1 0 1 0 -4.2 0M321.96 333.24a2.1 2.1 0 1 0 4.2 0a2.1 2.1 0 1 0 -4.2 0M322.78 334.02a2.1 2.1 0 1 0 4.2 0a2.1 2.1 0 1 0 -4.2 0M323.59 334.64a2.1 2.1 0 1 0 4.2 0a2.1 2.1 0 1 0 -4.2 0M324.4 334.22a2.1 2.1 0 1 0 4.2 0a2.1 2.1 0 1 0 -4.2 0M325.19 333.62a2.1 2.1 0 1 0 4.2 0a2.1 2.1 0 1 0 -4.2 0M325.97 332.3a2.1 2.1 0 1 0 4.2 0a2.1 2.1 0 1 0 -4.2 0M326.74 334.31a2.1 2.1 0 1 0 4.2 0a2.1 2.1 0 1 0 -4.2 0M327.5 333.43a2.1 2.1 0 1 0 4.2 0a2.1 2.1 0 1 0 -4.2 0M328.25 331.43a2.1 2.1 0 1 0 4.2 0a2.1 2.1 0 1 0 -4.2 0M328.99 331.63a2.1 2.1 0 1 0 4.2 0a2.1 2.1 0 1 0 -4.2 0M329.72 332.32a2.1 2.1 0 1 0 4.2 0a2.1 2.1 0 1 0 -4.2 0M330.45 331.22a2.1 2.1 0 1 0 4.2 0a2.1 2.1 0 1 0 -4.2 0M331.16 332.26a2.1 2.1 0 1 0 4.2 0a2.1 2.1 0 1 0 -4.2 0M331.87 331.64a2.1 2.1 0 1 0 4.2 0a2.1 2.1 0 1 0 -4.2 0M332.57 331.59a2.1 2.1 0 1 0 4.2 0a2.1 2.1 0 1 0 -4.2 0M333.26 328.93a2.1 2.1 0 1 0 4.2 0a2.1 2.1 0 1 0 -4.2 0M333.95 330.58a2.1 2.1 0 1 0 4.2 0a2.1 2.1 0 1 0 -4.2 0M334.62 329.54a2.1 2.1 0 1 0 4.2 0a2.1 2.1 0 1 0 -4.2 0M335.29 329.3a2.1 2.1 0 1 0 4.2 0a2.1 2.1 0 1 0 -4.2 0M335.96 327.88a2.1 2.1 0 1 0 4.2 0a2.1 2.1 0 1 0 -4.2 0M336.61 329.29a2.1 2.1 0 1 0 4.2 0a2.1 2.1 0 1 0 -4.2 0M337.26 329.1a2.1 2.1 0 1 0 4.2 0a2.1 2.1 0 1 0 -4.2 0M337.9 328.27a2.1 2.1 0 1 0 4.2 0a2.1 2.1 0 1 0 -4.2 0M338.53 326.78a2.1 2.1 0 1 0 4.2 0a2.1 2.1 0 1 0 -4.2 0M339.16 327.02a2.1 2.1 0 1 0 4.2 0a2.1 2.1 0 1 0 -4.2 0M339.78 327.44a2.1 2.1 0 1 0 4.2 0a2.1 2.1 0 1 0 -4.2 0M340.4 326.48a2.1 2.1 0 1 0 4.2 0a2.1 2.1 0 1 0 -4.2 0M341.01 326.35a2.1 2.1 0 1 0 4.2 0a2.1 2.1 0 1 0 -4.2 0M341.61 325.04a2.1 2.1 0 1 0 4.2 0a2.1 2.1 0 1 0 -4.2 0M342.21 325.08a2.1 2.1 0 1 0 4.2 0a2.1 2.1 0 1 0 -4.2 0M342.8 327.05a2.1 2.1 0 1 0 4.2 0a2.1 2.1 0 1 0 -4.2 0M343.39 324.73a2.1 2.1 0 1 0 4.2 0a2.1 2.1 0 1 0 -4.2 0M343.97 327.24a2.1 2.1 0 1 0 4.2 0a2.1 2.1 0 1 0 -4.2 0M344.54 326.85a2.1 2.1 0 1 0 4.2 0a2.1 2.1 0 1 0 -4.2 0M345.11 327.23a2.1 2.1 0 1 0 4.2 0a2.1 2.1 0 1 0 -4.2 0M345.68 328.79a2.1 2.1 0 1 0 4.2 0a2.1 2.1 0 1 0 -4.2 0M346.24 329.01a2.1 2.1 0 1 0 4.2 0a2.1 2.1 0 1 0 -4.2 0M346.79 327.65a2.1 2.1 0 1 0 4.2 0a2.1 2.1 0 1 0 -4.2 0M347.34 328.25a2.1 2.1 0 1 0 4.2 0a2.1 2.1 0 1 0 -4.2 0M347.88 328.41a2.1 2.1 0 1 0 4.2 0a2.1 2.1 0 1 0 -4.2 0M348.42 328.34a2.1 2.1 0 1 0 4.2 0a2.1 2.1 0 1 0 -4.2 0M348.96 329.01a2.1 2.1 0 1 0 4.2 0a2.1 2.1 0 1 0 -4.2 0M349.49 331.12a2.1 2.1 0 1 0 4.2 0a2.1 2.1 0 1 0 -4.2 0M350.01 330.26a2.1 2.1 0 1 0 4.2 0a2.1 2.1 0 1 0 -4.2 0M350.54 330.41a2.1 2.1 0 1 0 4.2 0a2.1 2.1 0 1 0 -4.2 0M351.05 331.79a2.1 2.1 0 1 0 4.2 0a2.1 2.1 0 1 0 -4.2 0M351.56 330.43a2.1 2.1 0 1 0 4.2 0a2.1 2.1 0 1 0 -4.2 0M352.07 330.16a2.1 2.1 0 1 0 4.2 0a2.1 2.1 0 1 0 -4.2 0M352.58 331.21a2.1 2.1 0 1 0 4.2 0a2.1 2.1 0 1 0 -4.2 0M353.08 330.82a2.1 2.1 0 1 0 4.2 0a2.1 2.1 0 1 0 -4.2 0M353.57 332.4a2.1 2.1 0 1 0 4.2 0a2.1 2.1 0 1 0 -4.2 0M354.06 330.95a2.1 2.1 0 1 0 4.2 0a2.1 2.1 0 1 0 -4.2 0M354.55 332.56a2.1 2.1 0 1 0 4.2 0a2.1 2.1 0 1 0 -4.2 0M355.04 332.79a2.1 2.1 0 1 0 4.2 0a2.1 2.1 0 1 0 -4.2 0M355.52 332.21a2.1 2.1 0 1 0 4.2 0a2.1 2.1 0 1 0 -4.2 0M355.99 332.22a2.1 2.1 0 1 0 4.2 0a2.1 2.1 0 1 0 -4.2 0M356.47 332.43a2.1 2.1 0 1 0 4.2 0a2.1 2.1 0 1 0 -4.2 0M356.94 331.02a2.1 2.1 0 1 0 4.2 0a2.1 2.1 0 1 0 -4.2 0M357.4 330.87a2.1 2.1 0 1 0 4.2 0a2.1 2.1 0 1 0 -4.2 0M357.86 331.16a2.1 2.1 0 1 0 4.2 0a2.1 2.1 0 1 0 -4.2 0M358.32 329.77a2.1 2.1 0 1 0 4.2 0a2.1 2.1 0 1 0 -4.2 0M358.78 330.78a2.1 2.1 0 1 0 4.2 0a2.1 2.1 0 1 0 -4.2 0M359.23 330.45a2.1 2.1 0 1 0 4.2 0a2.1 2.1 0 1 0 -4.2 0M359.68 328.4a2.1 2.1 0 1 0 4.2 0a2.1 2.1 0 1 0 -4.2 0M360.12 329.93a2.1 2.1 0 1 0 4.2 0a2.1 2.1 0 1 0 -4.2 0M360.57 330.07a2.1 2.1 0 1 0 4.2 0a2.1 2.1 0 1 0 -4.2 0M361 327.66a2.1 2.1 0 1 0 4.2 0a2.1 2.1 0 1 0 -4.2 0M361.44 327.76a2.1 2.1 0 1 0 4.2 0a2.1 2.1 0 1 0 -4.2 0M361.87 328.44a2.1 2.1 0 1 0 4.2 0a2.1 2.1 0 1 0 -4.2 0M362.3 326.73a2.1 2.1 0 1 0 4.2 0a2.1 2.1 0 1 0 -4.2 0M362.73 326.82a2.1 2.1 0 1 0 4.2 0a2.1 2.1 0 1 0 -4.2 0M363.15 327.18a2.1 2.1 0 1 0 4.2 0a2.1 2.1 0 1 0 -4.2 0M363.57 326.69a2.1 2.1 0 1 0 4.2 0a2.1 2.1 0 1 0 -4.2 0M363.99 325.21a2.1 2.1 0 1 0 4.2 0a2.1 2.1 0 1 0 -4.2 0M364.41 326.1a2.1 2.1 0 1 0 4.2 0a2.1 2.1 0 1 0 -4.2 0M364.82 327.06a2.1 2.1 0 1 0 4.2 0a2.1 2.1 0 1 0 -4.2 0M365.23 325.83a2.1 2.1 0 1 0 4.2 0a2.1 2.1 0 1 0 -4.2 0M365.64 325.94a2.1 2.1 0 1 0 4.2 0a2.1 2.1 0 1 0 -4.2 0M366.04 323.8a2.1 2.1 0 1 0 4.2 0a2.1 2.1 0 1 0 -4.2 0M366.44 325.01a2.1 2.1 0 1 0 4.2 0a2.1 2.1 0 1 0 -4.2 0M366.84 324.83a2.1 2.1 0 1 0 4.2 0a2.1 2.1 0 1 0 -4.2 0M367.24 323.52a2.1 2.1 0 1 0 4.2 0a2.1 2.1 0 1 0 -4.2 0M367.63 323.24a2.1 2.1 0 1 0 4.2 0a2.1 2.1 0 1 0 -4.2 0M368.02 324.94a2.1 2.1 0 1 0 4.2 0a2.1 2.1 0 1 0 -4.2 0M368.41 323.02a2.1 2.1 0 1 0 4.2 0a2.1 2.1 0 1 0 -4.2 0M368.8 322.08a2.1 2.1 0 1 0 4.2 0a2.1 2.1 0 1 0 -4.2 0M369.18 322.87a2.1 2.1 0 1 0 4.2 0a2.1 2.1 0 1 0 -4.2 0M369.56 323.52a2.1 2.1 0 1 0 4.2 0a2.1 2.1 0 1 0 -4.2 0M369.94 321.44a2.1 2.1 0 1 0 4.2 0a2.1 2.1 0 1 0 -4.2 0M370.32 323.69a2.1 2.1 0 1 0 4.2 0a2.1 2.1 0 1 0 -4.2 0M370.69 322.27a2.1 2.1 0 1 0 4.2 0a2.1 2.1 0 1 0 -4.2 0M371.07 322.88a2.1 2.1 0 1 0 4.2 0a2.1 2.1 0 1 0 -4.2 0M371.44 321.65a2.1 2.1 0 1 0 4.2 0a2.1 2.1 0 1 0 -4.2 0M371.8 321.87a2.1 2.1 0 1 0 4.2 0a2.1 2.1 0 1 0 -4.2 0M372.17 320.29a2.1 2.1 0 1 0 4.2 0a2.1 2.1 0 1 0 -4.2 0M372.53 322.37a2.1 2.1 0 1 0 4.2 0a2.1 2.1 0 1 0 -4.2 0M372.89 321.04a2.1 2.1 0 1 0 4.2 0a2.1 2.1 0 1 0 -4.2 0M373.25 321.32a2.1 2.1 0 1 0 4.2 0a2.1 2.1 0 1 0 -4.2 0M373.61 321.58a2.1 2.1 0 1 0 4.2 0a2.1 2.1 0 1 0 -4.2 0M373.96 319.25a2.1 2.1 0 1 0 4.2 0a2.1 2.1 0 1 0 -4.2 0M374.32 319.56a2.1 2.1 0 1 0 4.2 0a2.1 2.1 0 1 0 -4.2 0M374.67 320.16a2.1 2.1 0 1 0 4.2 0a2.1 2.1 0 1 0 -4.2 0M375.02 319.41a2.1 2.1 0 1 0 4.2 0a2.1 2.1 0 1 0 -4.2 0M375.36 319.41a2.1 2.1 0 1 0 4.2 0a2.1 2.1 0 1 0 -4.2 0M375.71 320.26a2.1 2.1 0 1 0 4.2 0a2.1 2.1 0 1 0 -4.2 0M376.05 319.25a2.1 2.1 0 1 0 4.2 0a2.1 2.1 0 1 0 -4.2 0M376.39 319.85a2.1 2.1 0 1 0 4.2 0a2.1 2.1 0 1 0 -4.2 0M376.73 319.42a2.1 2.1 0 1 0 4.2 0a2.1 2.1 0 1 0 -4.2 0M377.07 317.05a2.1 2.1 0 1 0 4.2 0a2.1 2.1 0 1 0 -4.2 0M377.41 317a2.1 2.1 0 1 0 4.2 0a2.1 2.1 0 1 0 -4.2 0M377.74 318.13a2.1 2.1 0 1 0 4.2 0a2.1 2.1 0 1 0 -4.2 0M378.07 318.69a2.1 2.1 0 1 0 4.2 0a2.1 2.1 0 1 0 -4.2 0M378.4 316.03a2.1 2.1 0 1 0 4.2 0a2.1 2.1 0 1 0 -4.2 0M378.73 318.13a2.1 2.1 0 1 0 4.2 0a2.1 2.1 0 1 0 -4.2 0M379.06 317.43a2.1 2.1 0 1 0 4.2 0a2.1 2.1 0 1 0 -4.2 0M379.38 315.5a2.1 2.1 0 1 0 4.2 0a2.1 2.1 0 1 0 -4.2 0M379.7 316.07a2.1 2.1 0 1 0 4.2 0a2.1 2.1 0 1 0 -4.2 0M380.03 316.25a2.1 2.1 0 1 0 4.2 0a2.1 2.1 0 1 0 -4.2 0M380.35 315.07a2.1 2.1 0 1 0 4.2 0a2.1 2.1 0 1 0 -4.2 0M380.66 314.47a2.1 2.1 0 1 0 4.2 0a2.1 2.1 0 1 0 -4.2 0M380.98 315.24a2.1 2.1 0 1 0 4.2 0a2.1 2.1 0 1 0 -4.2 0M381.29 313.97a2.1 2.1 0 1 0 4.2 0a2.1 2.1 0 1 0 -4.2 0M381.61 315.98a2.1 2.1 0 1 0 4.2 0a2.1 2.1 0 1 0 -4.2 0M381.92 314.29a2.1 2.1 0 1 0 4.2 0a2.1 2.1 0 1 0 -4.2 0M382.23 313.41a2.1 2.1 0 1 0 4.2 0a2.1 2.1 0 1 0 -4.2 0M382.54 312.54a2.1 2.1 0 1 0 4.2 0a2.1 2.1 0 1 0 -4.2 0M382.85 313.19a2.1 2.1 0 1 0 4.2 0a2.1 2.1 0 1 0 -4.2 0M383.15 312.34a2.1 2.1 0 1 0 4.2 0a2.1 2.1 0 1 0 -4.2 0M383.45 312.9a2.1 2.1 0 1 0 4.2 0a2.1 2.1 0 1 0 -4.2 0M383.76 311.23a2.1 2.1 0 1 0 4.2 0a2.1 2.1 0 1 0 -4.2 0M384.06 311.25a2.1 2.1 0 1 0 4.2 0a2.1 2.1 0 1 0 -4.2 0M384.36 309.68a2.1 2.1 0 1 0 4.2 0a2.1 2.1 0 1 0 -4.2 0M384.66 310.82a2.1 2.1 0 1 0 4.2 0a2.1 2.1 0 1 0 -4.2 0M384.95 311.6a2.1 2.1 0 1 0 4.2 0a2.1 2.1 0 1 0 -4.2 0M385.25 309.73a2.1 2.1 0 1 0 4.2 0a2.1 2.1 0 1 0 -4.2 0M385.54 310.53a2.1 2.1 0 1 0 4.2 0a2.1 2.1 0 1 0 -4.2 0M385.83 311.27a2.1 2.1 0 1 0 4.2 0a2.1 2.1 0 1 0 -4.2 0M386.12 308.74a2.1 2.1 0 1 0 4.2 0a2.1 2.1 0 1 0 -4.2 0M386.41 309.9a2.1 2.1 0 1 0 4.2 0a2.1 2.1 0 1 0 -4.2 0M386.7 310.66a2.1 2.1 0 1 0 4.2 0a2.1 2.1 0 1 0 -4.2 0M386.99 310.39a2.1 2.1 0 1 0 4.2 0a2.1 2.1 0 1 0 -4.2 0M387.27 310.07a2.1 2.1 0 1 0 4.2 0a2.1 2.1 0 1 0 -4.2 0M387.56 307.99a2.1 2.1 0 1 0 4.2 0a2.1 2.1 0 1 0 -4.2 0M387.84 308.15a2.1 2.1 0 1 0 4.2 0a2.1 2.1 0 1 0 -4.2 0M388.12 310.23a2.1 2.1 0 1 0 4.2 0a2.1 2.1 0 1 0 -4.2 0M388.4 308.2a2.1 2.1 0 1 0 4.2 0a2.1 2.1 0 1 0 -4.2 0M388.68 309.12a2.1 2.1 0 1 0 4.2 0a2.1 2.1 0 1 0 -4.2 0M388.96 308.68a2.1 2.1 0 1 0 4.2 0a2.1 2.1 0 1 0 -4.2 0M389.24 307.68a2.1 2.1 0 1 0 4.2 0a2.1 2.1 0 1 0 -4.2 0M389.51 308.82a2.1 2.1 0 1 0 4.2 0a2.1 2.1 0 1 0 -4.2 0M389.78 308.69a2.1 2.1 0 1 0 4.2 0a2.1 2.1 0 1 0 -4.2 0M390.06 306.74a2.1 2.1 0 1 0 4.2 0a2.1 2.1 0 1 0 -4.2 0M390.33 307.01a2.1 2.1 0 1 0 4.2 0a2.1 2.1 0 1 0 -4.2 0M390.6 306.76a2.1 2.1 0 1 0 4.2 0a2.1 2.1 0 1 0 -4.2 0M390.87 306.98a2.1 2.1 0 1 0 4.2 0a2.1 2.1 0 1 0 -4.2 0M391.14 306.5a2.1 2.1 0 1 0 4.2 0a2.1 2.1 0 1 0 -4.2 0M391.4 307.22a2.1 2.1 0 1 0 4.2 0a2.1 2.1 0 1 0 -4.2 0M391.67 307.38a2.1 2.1 0 1 0 4.2 0a2.1 2.1 0 1 0 -4.2 0M391.93 308.81a2.1 2.1 0 1 0 4.2 0a2.1 2.1 0 1 0 -4.2 0M392.2 307.77a2.1 2.1 0 1 0 4.2 0a2.1 2.1 0 1 0 -4.2 0M392.46 307.25a2.1 2.1 0 1 0 4.2 0a2.1 2.1 0 1 0 -4.2 0M392.72 308.42a2.1 2.1 0 1 0 4.2 0a2.1 2.1 0 1 0 -4.2 0M392.98 308.14a2.1 2.1 0 1 0 4.2 0a2.1 2.1 0 1 0 -4.2 0M393.24 309.82a2.1 2.1 0 1 0 4.2 0a2.1 2.1 0 1 0 -4.2 0M393.5 309.13a2.1 2.1 0 1 0 4.2 0a2.1 2.1 0 1 0 -4.2 0M393.75 309.09a2.1 2.1 0 1 0 4.2 0a2.1 2.1 0 1 0 -4.2 0M394.01 308.65a2.1 2.1 0 1 0 4.2 0a2.1 2.1 0 1 0 -4.2 0M394.26 309.39a2.1 2.1 0 1 0 4.2 0a2.1 2.1 0 1 0 -4.2 0M394.52 310.32a2.1 2.1 0 1 0 4.2 0a2.1 2.1 0 1 0 -4.2 0M394.77 308.31a2.1 2.1 0 1 0 4.2 0a2.1 2.1 0 1 0 -4.2 0M395.02 309.87a2.1 2.1 0 1 0 4.2 0a2.1 2.1 0 1 0 -4.2 0M395.27 311.03a2.1 2.1 0 1 0 4.2 0a2.1 2.1 0 1 0 -4.2 0M395.52 309.1a2.1 2.1 0 1 0 4.2 0a2.1 2.1 0 1 0 -4.2 0M395.77 310.58a2.1 2.1 0 1 0 4.2 0a2.1 2.1 0 1 0 -4.2 0M396.02 309.04a2.1 2.1 0 1 0 4.2 0a2.1 2.1 0 1 0 -4.2 0M396.26 311.78a2.1 2.1 0 1 0 4.2 0a2.1 2.1 0 1 0 -4.2 0M396.51 309.82a2.1 2.1 0 1 0 4.2 0a2.1 2.1 0 1 0 -4.2 0M396.75 310.18a2.1 2.1 0 1 0 4.2 0a2.1 2.1 0 1 0 -4.2 0M397 310.21a2.1 2.1 0 1 0 4.2 0a2.1 2.1 0 1 0 -4.2 0M397.24 312.26a2.1 2.1 0 1 0 4.2 0a2.1 2.1 0 1 0 -4.2 0M397.48 311.06a2.1 2.1 0 1 0 4.2 0a2.1 2.1 0 1 0 -4.2 0M397.72 311.78a2.1 2.1 0 1 0 4.2 0a2.1 2.1 0 1 0 -4.2 0M397.96 313.09a2.1 2.1 0 1 0 4.2 0a2.1 2.1 0 1 0 -4.2 0M398.2 314.41a2.1 2.1 0 1 0 4.2 0a2.1 2.1 0 1 0 -4.2 0M398.44 313.65a2.1 2.1 0 1 0 4.2 0a2.1 2.1 0 1 0 -4.2 0M398.68 315.07a2.1 2.1 0 1 0 4.2 0a2.1 2.1 0 1 0 -4.2 0M398.91 314.04a2.1 2.1 0 1 0 4.2 0a2.1 2.1 0 1 0 -4.2 0M399.15 316.9a2.1 2.1 0 1 0 4.2 0a2.1 2.1 0 1 0 -4.2 0M399.38 317.11a2.1 2.1 0 1 0 4.2 0a2.1 2.1 0 1 0 -4.2 0M399.61 317a2.1 2.1 0 1 0 4.2 0a2.1 2.1 0 1 0 -4.2 0M399.85 319.14a2.1 2.1 0 1 0 4.2 0a2.1 2.1 0 1 0 -4.2 0M400.08 319.75a2.1 2.1 0 1 0 4.2 0a2.1 2.1 0 1 0 -4.2 0M400.31 320.58a2.1 2.1 0 1 0 4.2 0a2.1 2.1 0 1 0 -4.2 0M400.54 319.08a2.1 2.1 0 1 0 4.2 0a2.1 2.1 0 1 0 -4.2 0M400.77 319.91a2.1 2.1 0 1 0 4.2 0a2.1 2.1 0 1 0 -4.2 0M401 322.46a2.1 2.1 0 1 0 4.2 0a2.1 2.1 0 1 0 -4.2 0M401.22 322.65a2.1 2.1 0 1 0 4.2 0a2.1 2.1 0 1 0 -4.2 0M401.45 321.95a2.1 2.1 0 1 0 4.2 0a2.1 2.1 0 1 0 -4.2 0M401.67 324.05a2.1 2.1 0 1 0 4.2 0a2.1 2.1 0 1 0 -4.2 0M401.9 324.43a2.1 2.1 0 1 0 4.2 0a2.1 2.1 0 1 0 -4.2 0M402.12 324.45a2.1 2.1 0 1 0 4.2 0a2.1 2.1 0 1 0 -4.2 0M402.35 323.16a2.1 2.1 0 1 0 4.2 0a2.1 2.1 0 1 0 -4.2 0M402.57 325.05a2.1 2.1 0 1 0 4.2 0a2.1 2.1 0 1 0 -4.2 0M402.79 324.01a2.1 2.1 0 1 0 4.2 0a2.1 2.1 0 1 0 -4.2 0M403.01 326.05a2.1 2.1 0 1 0 4.2 0a2.1 2.1 0 1 0 -4.2 0M403.23 325.1a2.1 2.1 0 1 0 4.2 0a2.1 2.1 0 1 0 -4.2 0M403.45 324.48a2.1 2.1 0 1 0 4.2 0a2.1 2.1 0 1 0 -4.2 0M403.67 324.07a2.1 2.1 0 1 0 4.2 0a2.1 2.1 0 1 0 -4.2 0M403.89 324.88a2.1 2.1 0 1 0 4.2 0a2.1 2.1 0 1 0 -4.2 0M404.1 323.55a2.1 2.1 0 1 0 4.2 0a2.1 2.1 0 1 0 -4.2 0M404.32 323.65a2.1 2.1 0 1 0 4.2 0a2.1 2.1 0 1 0 -4.2 0M404.53 322.94a2.1 2.1 0 1 0 4.2 0a2.1 2.1 0 1 0 -4.2 0M404.75 322.41a2.1 2.1 0 1 0 4.2 0a2.1 2.1 0 1 0 -4.2 0M404.96 320.26a2.1 2.1 0 1 0 4.2 0a2.1 2.1 0 1 0 -4.2 0M405.17 321.81a2.1 2.1 0 1 0 4.2 0a2.1 2.1 0 1 0 -4.2 0M405.39 320.7a2.1 2.1 0 1 0 4.2 0a2.1 2.1 0 1 0 -4.2 0M405.6 318.89a2.1 2.1 0 1 0 4.2 0a2.1 2.1 0 1 0 -4.2 0M405.81 320.18a2.1 2.1 0 1 0 4.2 0a2.1 2.1 0 1 0 -4.2 0M406.02 317.49a2.1 2.1 0 1 0 4.2 0a2.1 2.1 0 1 0 -4.2 0M406.23 316.41a2.1 2.1 0 1 0 4.2 0a2.1 2.1 0 1 0 -4.2 0M406.44 316.51a2.1 2.1 0 1 0 4.2 0a2.1 2.1 0 1 0 -4.2 0M406.64 314.93a2.1 2.1 0 1 0 4.2 0a2.1 2.1 0 1 0 -4.2 0M406.85 316.71a2.1 2.1 0 1 0 4.2 0a2.1 2.1 0 1 0 -4.2 0M407.06 316.23a2.1 2.1 0 1 0 4.2 0a2.1 2.1 0 1 0 -4.2 0M407.26 316.05a2.1 2.1 0 1 0 4.2 0a2.1 2.1 0 1 0 -4.2 0M407.47 317.92a2.1 2.1 0 1 0 4.2 0a2.1 2.1 0 1 0 -4.2 0M407.67 318.34a2.1 2.1 0 1 0 4.2 0a2.1 2.1 0 1 0 -4.2 0M407.88 318.78a2.1 2.1 0 1 0 4.2 0a2.1 2.1 0 1 0 -4.2 0M408.08 318.55a2.1 2.1 0 1 0 4.2 0a2.1 2.1 0 1 0 -4.2 0M408.28 318.33a2.1 2.1 0 1 0 4.2 0a2.1 2.1 0 1 0 -4.2 0M408.49 318.1a2.1 2.1 0 1 0 4.2 0a2.1 2.1 0 1 0 -4.2 0M408.69 317.87a2.1 2.1 0 1 0 4.2 0a2.1 2.1 0 1 0 -4.2 0M408.89 317.64a2.1 2.1 0 1 0 4.2 0a2.1 2.1 0 1 0 -4.2 0M409.09 317.41a2.1 2.1 0 1 0 4.2 0a2.1 2.1 0 1 0 -4.2 0M409.29 317.18a2.1 2.1 0 1 0 4.2 0a2.1 2.1 0 1 0 -4.2 0M409.48 316.96a2.1 2.1 0 1 0 4.2 0a2.1 2.1 0 1 0 -4.2 0M409.68 316.47a2.1 2.1 0 1 0 4.2 0a2.1 2.1 0 1 0 -4.2 0M409.88 315.98a2.1 2.1 0 1 0 4.2 0a2.1 2.1 0 1 0 -4.2 0M410.08 315.49a2.1 2.1 0 1 0 4.2 0a2.1 2.1 0 1 0 -4.2 0M410.27 315.01a2.1 2.1 0 1 0 4.2 0a2.1 2.1 0 1 0 -4.2 0M410.47 314.52a2.1 2.1 0 1 0 4.2 0a2.1 2.1 0 1 0 -4.2 0M410.66 312.39a2.1 2.1 0 1 0 4.2 0a2.1 2.1 0 1 0 -4.2 0M410.86 310.26a2.1 2.1 0 1 0 4.2 0a2.1 2.1 0 1 0 -4.2 0M411.05 307.01a2.1 2.1 0 1 0 4.2 0a2.1 2.1 0 1 0 -4.2 0M411.24 303.76a2.1 2.1 0 1 0 4.2 0a2.1 2.1 0 1 0 -4.2 0M411.43 302.75a2.1 2.1 0 1 0 4.2 0a2.1 2.1 0 1 0 -4.2 0M411.63 301.73a2.1 2.1 0 1 0 4.2 0a2.1 2.1 0 1 0 -4.2 0M411.82 300.72a2.1 2.1 0 1 0 4.2 0a2.1 2.1 0 1 0 -4.2 0M412.01 304.78a2.1 2.1 0 1 0 4.2 0a2.1 2.1 0 1 0 -4.2 0M412.2 293.61a2.1 2.1 0 1 0 4.2 0a2.1 2.1 0 1 0 -4.2 0M412.39 302.75a2.1 2.1 0 1 0 4.2 0a2.1 2.1 0 1 0 -4.2 0M412.58 291.58a2.1 2.1 0 1 0 4.2 0a2.1 2.1 0 1 0 -4.2 0M412.76 300.72a2.1 2.1 0 1 0 4.2 0a2.1 2.1 0 1 0 -4.2 0M412.95 289.89a2.1 2.1 0 1 0 4.2 0a2.1 2.1 0 1 0 -4.2 0M413.14 299.36a2.1 2.1 0 1 0 4.2 0a2.1 2.1 0 1 0 -4.2 0M413.32 288.54a2.1 2.1 0 1 0 4.2 0a2.1 2.1 0 1 0 -4.2 0M413.51 297.67a2.1 2.1 0 1 0 4.2 0a2.1 2.1 0 1 0 -4.2 0M413.7 286.5a2.1 2.1 0 1 0 4.2 0a2.1 2.1 0 1 0 -4.2 0M413.88 295.64a2.1 2.1 0 1 0 4.2 0a2.1 2.1 0 1 0 -4.2 0M414.06 284.14a2.1 2.1 0 1 0 4.2 0a2.1 2.1 0 1 0 -4.2 0M414.25 292.93a2.1 2.1 0 1 0 4.2 0a2.1 2.1 0 1 0 -4.2 0M414.43 281.43a2.1 2.1 0 1 0 4.2 0a2.1 2.1 0 1 0 -4.2 0M414.61 289.55a2.1 2.1 0 1 0 4.2 0a2.1 2.1 0 1 0 -4.2 0M414.8 277.37a2.1 2.1 0 1 0 4.2 0a2.1 2.1 0 1 0 -4.2 0M414.98 285.49a2.1 2.1 0 1 0 4.2 0a2.1 2.1 0 1 0 -4.2 0M415.16 270.26a2.1 2.1 0 1 0 4.2 0a2.1 2.1 0 1 0 -4.2 0M415.34 275.34a2.1 2.1 0 1 0 4.2 0a2.1 2.1 0 1 0 -4.2 0M415.52 261.03a2.1 2.1 0 1 0 4.2 0a2.1 2.1 0 1 0 -4.2 0M415.7 261.94a2.1 2.1 0 1 0 4.2 0a2.1 2.1 0 1 0 -4.2 0M415.88 253.01a2.1 2.1 0 1 0 4.2 0a2.1 2.1 0 1 0 -4.2 0M416.05 242.25a2.1 2.1 0 1 0 4.2 0a2.1 2.1 0 1 0 -4.2 0M416.23 229.06a2.1 2.1 0 1 0 4.2 0a2.1 2.1 0 1 0 -4.2 0M416.41 216.47a2.1 2.1 0 1 0 4.2 0a2.1 2.1 0 1 0 -4.2 0M416.59 201.04a2.1 2.1 0 1 0 4.2 0a2.1 2.1 0 1 0 -4.2 0M416.76 208.76a2.1 2.1 0 1 0 4.2 0a2.1 2.1 0 1 0 -4.2 0M416.94 215.86a2.1 2.1 0 1 0 4.2 0a2.1 2.1 0 1 0 -4.2 0M417.11 197.79a2.1 2.1 0 1 0 4.2 0a2.1 2.1 0 1 0 -4.2 0M417.29 206.73a2.1 2.1 0 1 0 4.2 0a2.1 2.1 0 1 0 -4.2 0M417.46 184.6a2.1 2.1 0 1 0 4.2 0a2.1 2.1 0 1 0 -4.2 0M417.64 193.13a2.1 2.1 0 1 0 4.2 0a2.1 2.1 0 1 0 -4.2 0M417.81 165.11a2.1 2.1 0 1 0 4.2 0a2.1 2.1 0 1 0 -4.2 0M417.98 127.96a2.1 2.1 0 1 0 4.2 0a2.1 2.1 0 1 0 -4.2 0M418.15 79.45a2.1 2.1 0 1 0 4.2 0a2.1 2.1 0 1 0 -4.2 0"/>
<path fill="none" stroke="#10dc10" stroke-width="0.65" d="M58.4 322.03a2.1 2.1 0 1 0 4.2 0a2.1 2.1 0 1 0 -4.2 0M100.85 323.05a2.1 2.1 0 1 0 4.2 0a2.1 2.1 0 1 0 -4.2 0M125.67 323.65a2.1 2.1 0 1 0 4.2 0a2.1 2.1 0 1 0 -4.2 0M143.29 324.87a2.1 2.1 0 1 0 4.2 0a2.1 2.1 0 1 0 -4.2 0M156.95 324.26a2.1 2.1 0 1 0 4.2 0a2.1 2.1 0 1 0 -4.2 0M168.12 323.86a2.1 2.1 0 1 0 4.2 0a2.1 2.1 0 1 0 -4.2 0M177.56 325.28a2.1 2.1 0 1 0 4.2 0a2.1 2.1 0 1 0 -4.2 0M185.74 325.28a2.1 2.1 0 1 0 4.2 0a2.1 2.1 0 1 0 -4.2 0M192.95 325.08a2.1 2.1 0 1 0 4.2 0a2.1 2.1 0 1 0 -4.2 0M199.4 324.26a2.1 2.1 0 1 0 4.2 0a2.1 2.1 0 1 0 -4.2 0M205.24 324.26a2.1 2.1 0 1 0 4.2 0a2.1 2.1 0 1 0 -4.2 0M210.56 324.06a2.1 2.1 0 1 0 4.2 0a2.1 2.1 0 1 0 -4.2 0M215.47 323.45a2.1 2.1 0 1 0 4.2 0a2.1 2.1 0 1 0 -4.2 0M220 323.05a2.1 2.1 0 1 0 4.2 0a2.1 2.1 0 1 0 -4.2 0M224.23 322.84a2.1 2.1 0 1 0 4.2 0a2.1 2.1 0 1 0 -4.2 0M228.18 322.64a2.1 2.1 0 1 0 4.2 0a2.1 2.1 0 1 0 -4.2 0M231.89 323.05a2.1 2.1 0 1 0 4.2 0a2.1 2.1 0 1 0 -4.2 0M235.39 323.86a2.1 2.1 0 1 0 4.2 0a2.1 2.1 0 1 0 -4.2 0M238.7 324.53a2.1 2.1 0 1 0 4.2 0a2.1 2.1 0 1 0 -4.2 0M241.85 325.34a2.1 2.1 0 1 0 4.2 0a2.1 2.1 0 1 0 -4.2 0M244.83 326.09a2.1 2.1 0 1 0 4.2 0a2.1 2.1 0 1 0 -4.2 0M247.68 326.09a2.1 2.1 0 1 0 4.2 0a2.1 2.1 0 1 0 -4.2 0M250.4 326.85a2.1 2.1 0 1 0 4.2 0a2.1 2.1 0 1 0 -4.2 0M253.01 328.37a2.1 2.1 0 1 0 4.2 0a2.1 2.1 0 1 0 -4.2 0M255.51 328.54a2.1 2.1 0 1 0 4.2 0a2.1 2.1 0 1 0 -4.2 0M257.91 328.59a2.1 2.1 0 1 0 4.2 0a2.1 2.1 0 1 0 -4.2 0M260.22 328.49a2.1 2.1 0 1 0 4.2 0a2.1 2.1 0 1 0 -4.2 0M262.45 326.71a2.1 2.1 0 1 0 4.2 0a2.1 2.1 0 1 0 -4.2 0M264.6 325.27a2.1 2.1 0 1 0 4.2 0a2.1 2.1 0 1 0 -4.2 0M266.67 325.29a2.1 2.1 0 1 0 4.2 0a2.1 2.1 0 1 0 -4.2 0M268.68 323.64a2.1 2.1 0 1 0 4.2 0a2.1 2.1 0 1 0 -4.2 0M270.63 321.69a2.1 2.1 0 1 0 4.2 0a2.1 2.1 0 1 0 -4.2 0M272.51 322.19a2.1 2.1 0 1 0 4.2 0a2.1 2.1 0 1 0 -4.2 0M274.34 320.73a2.1 2.1 0 1 0 4.2 0a2.1 2.1 0 1 0 -4.2 0M276.11 319.67a2.1 2.1 0 1 0 4.2 0a2.1 2.1 0 1 0 -4.2 0M277.84 319.08a2.1 2.1 0 1 0 4.2 0a2.1 2.1 0 1 0 -4.2 0M279.52 317.69a2.1 2.1 0 1 0 4.2 0a2.1 2.1 0 1 0 -4.2 0M281.15 316.23a2.1 2.1 0 1 0 4.2 0a2.1 2.1 0 1 0 -4.2 0M282.74 315.12a2.1 2.1 0 1 0 4.2 0a2.1 2.1 0 1 0 -4.2 0M284.29 315.8a2.1 2.1 0 1 0 4.2 0a2.1 2.1 0 1 0 -4.2 0M285.8 315.72a2.1 2.1 0 1 0 4.2 0a2.1 2.1 0 1 0 -4.2 0M287.28 314.14a2.1 2.1 0 1 0 4.2 0a2.1 2.1 0 1 0 -4.2 0M288.72 314.45a2.1 2.1 0 1 0 4.2 0a2.1 2.1 0 1 0 -4.2 0M290.13 316.92a2.1 2.1 0 1 0 4.2 0a2.1 2.1 0 1 0 -4.2 0M291.5 317.93a2.1 2.1 0 1 0 4.2 0a2.1 2.1 0 1 0 -4.2 0M292.85 319.11a2.1 2.1 0 1 0 4.2 0a2.1 2.1 0 1 0 -4.2 0M294.17 317.46a2.1 2.1 0 1 0 4.2 0a2.1 2.1 0 1 0 -4.2 0M295.46 317.25a2.1 2.1 0 1 0 4.2 0a2.1 2.1 0 1 0 -4.2 0M296.72 316.61a2.1 2.1 0 1 0 4.2 0a2.1 2.1 0 1 0 -4.2 0M297.95 315.17a2.1 2.1 0 1 0 4.2 0a2.1 2.1 0 1 0 -4.2 0M299.17 315.28a2.1 2.1 0 1 0 4.2 0a2.1 2.1 0 1 0 -4.2 0M300.36 315.98a2.1 2.1 0 1 0 4.2 0a2.1 2.1 0 1 0 -4.2 0M301.52 317.13a2.1 2.1 0 1 0 4.2 0a2.1 2.1 0 1 0 -4.2 0M302.67 318.39a2.1 2.1 0 1 0 4.2 0a2.1 2.1 0 1 0 -4.2 0M303.79 317.31a2.1 2.1 0 1 0 4.2 0a2.1 2.1 0 1 0 -4.2 0M304.89 316.31a2.1 2.1 0 1 0 4.2 0a2.1 2.1 0 1 0 -4.2 0M305.98 316.13a2.1 2.1 0 1 0 4.2 0a2.1 2.1 0 1 0 -4.2 0M307.04 313.16a2.1 2.1 0 1 0 4.2 0a2.1 2.1 0 1 0 -4.2 0M308.09 313.73a2.1 2.1 0 1 0 4.2 0a2.1 2.1 0 1 0 -4.2 0M309.12 316.62a2.1 2.1 0 1 0 4.2 0a2.1 2.1 0 1 0 -4.2 0M310.13 315.73a2.1 2.1 0 1 0 4.2 0a2.1 2.1 0 1 0 -4.2 0M311.13 318.26a2.1 2.1 0 1 0 4.2 0a2.1 2.1 0 1 0 -4.2 0M312.11 318.45a2.1 2.1 0 1 0 4.2 0a2.1 2.1 0 1 0 -4.2 0M313.07 316.62a2.1 2.1 0 1 0 4.2 0a2.1 2.1 0 1 0 -4.2 0M314.02 318.09a2.1 2.1 0 1 0 4.2 0a2.1 2.1 0 1 0 -4.2 0M314.96 315.46a2.1 2.1 0 1 0 4.2 0a2.1 2.1 0 1 0 -4.2 0M315.88 316.86a2.1 2.1 0 1 0 4.2 0a2.1 2.1 0 1 0 -4.2 0M316.78 316.5a2.1 2.1 0 1 0 4.2 0a2.1 2.1 0 1 0 -4.2 0M317.68 316.13a2.1 2.1 0 1 0 4.2 0a2.1 2.1 0 1 0 -4.2 0M318.56 315.25a2.1 2.1 0 1 0 4.2 0a2.1 2.1 0 1 0 -4.2 0M319.43 313.22a2.1 2.1 0 1 0 4.2 0a2.1 2.1 0 1 0 -4.2 0M320.28 314.65a2.1 2.1 0 1 0 4.2 0a2.1 2.1 0 1 0 -4.2 0M321.13 314.24a2.1 2.1 0 1 0 4.2 0a2.1 2.1 0 1 0 -4.2 0M321.96 316.48a2.1 2.1 0 1 0 4.2 0a2.1 2.1 0 1 0 -4.2 0M322.78 315.58a2.1 2.1 0 1 0 4.2 0a2.1 2.1 0 1 0 -4.2 0M323.59 315.05a2.1 2.1 0 1 0 4.2 0a2.1 2.1 0 1 0 -4.2 0M324.4 317.28a2.1 2.1 0 1 0 4.2 0a2.1 2.1 0 1 0 -4.2 0M325.19 313.73a2.1 2.1 0 1 0 4.2 0a2.1 2.1 0 1 0 -4.2 0M325.97 315.01a2.1 2.1 0 1 0 4.2 0a2.1 2.1 0 1 0 -4.2 0M326.74 312.75a2.1 2.1 0 1 0 4.2 0a2.1 2.1 0 1 0 -4.2 0M327.5 312.53a2.1 2.1 0 1 0 4.2 0a2.1 2.1 0 1 0 -4.2 0M328.25 309.34a2.1 2.1 0 1 0 4.2 0a2.1 2.1 0 1 0 -4.2 0M328.99 310.28a2.1 2.1 0 1 0 4.2 0a2.1 2.1 0 1 0 -4.2 0M329.72 309.29a2.1 2.1 0 1 0 4.2 0a2.1 2.1 0 1 0 -4.2 0M330.45 306.38a2.1 2.1 0 1 0 4.2 0a2.1 2.1 0 1 0 -4.2 0M331.16 306.33a2.1 2.1 0 1 0 4.2 0a2.1 2.1 0 1 0 -4.2 0M331.87 305.37a2.1 2.1 0 1 0 4.2 0a2.1 2.1 0 1 0 -4.2 0M332.57 304.83a2.1 2.1 0 1 0 4.2 0a2.1 2.1 0 1 0 -4.2 0M333.26 305.35a2.1 2.1 0 1 0 4.2 0a2.1 2.1 0 1 0 -4.2 0M333.95 304.6a2.1 2.1 0 1 0 4.2 0a2.1 2.1 0 1 0 -4.2 0M334.62 306.51a2.1 2.1 0 1 0 4.2 0a2.1 2.1 0 1 0 -4.2 0M335.29 305.54a2.1 2.1 0 1 0 4.2 0a2.1 2.1 0 1 0 -4.2 0M335.96 304.91a2.1 2.1 0 1 0 4.2 0a2.1 2.1 0 1 0 -4.2 0M336.61 304.51a2.1 2.1 0 1 0 4.2 0a2.1 2.1 0 1 0 -4.2 0M337.26 302.79a2.1 2.1 0 1 0 4.2 0a2.1 2.1 0 1 0 -4.2 0M337.9 301.24a2.1 2.1 0 1 0 4.2 0a2.1 2.1 0 1 0 -4.2 0M338.53 299.63a2.1 2.1 0 1 0 4.2 0a2.1 2.1 0 1 0 -4.2 0M339.16 298.19a2.1 2.1 0 1 0 4.2 0a2.1 2.1 0 1 0 -4.2 0M339.78 294.36a2.1 2.1 0 1 0 4.2 0a2.1 2.1 0 1 0 -4.2 0M340.4 292.35a2.1 2.1 0 1 0 4.2 0a2.1 2.1 0 1 0 -4.2 0M341.01 295.09a2.1 2.1 0 1 0 4.2 0a2.1 2.1 0 1 0 -4.2 0M341.61 300.89a2.1 2.1 0 1 0 4.2 0a2.1 2.1 0 1 0 -4.2 0M342.21 304.72a2.1 2.1 0 1 0 4.2 0a2.1 2.1 0 1 0 -4.2 0M342.8 307.67a2.1 2.1 0 1 0 4.2 0a2.1 2.1 0 1 0 -4.2 0M343.39 308.5a2.1 2.1 0 1 0 4.2 0a2.1 2.1 0 1 0 -4.2 0M343.97 308.96a2.1 2.1 0 1 0 4.2 0a2.1 2.1 0 1 0 -4.2 0M344.54 303.44a2.1 2.1 0 1 0 4.2 0a2.1 2.1 0 1 0 -4.2 0M345.11 302.05a2.1 2.1 0 1 0 4.2 0a2.1 2.1 0 1 0 -4.2 0M345.68 300.08a2.1 2.1 0 1 0 4.2 0a2.1 2.1 0 1 0 -4.2 0M346.24 293.53a2.1 2.1 0 1 0 4.2 0a2.1 2.1 0 1 0 -4.2 0M346.79 292.23a2.1 2.1 0 1 0 4.2 0a2.1 2.1 0 1 0 -4.2 0M347.34 288.01a2.1 2.1 0 1 0 4.2 0a2.1 2.1 0 1 0 -4.2 0M347.88 288a2.1 2.1 0 1 0 4.2 0a2.1 2.1 0 1 0 -4.2 0M348.42 290.22a2.1 2.1 0 1 0 4.2 0a2.1 2.1 0 1 0 -4.2 0M348.96 291.14a2.1 2.1 0 1 0 4.2 0a2.1 2.1 0 1 0 -4.2 0M349.49 293.91a2.1 2.1 0 1 0 4.2 0a2.1 2.1 0 1 0 -4.2 0M350.01 294.88a2.1 2.1 0 1 0 4.2 0a2.1 2.1 0 1 0 -4.2 0M350.54 293.71a2.1 2.1 0 1 0 4.2 0a2.1 2.1 0 1 0 -4.2 0M351.05 290.63a2.1 2.1 0 1 0 4.2 0a2.1 2.1 0 1 0 -4.2 0M351.56 290.41a2.1 2.1 0 1 0 4.2 0a2.1 2.1 0 1 0 -4.2 0M352.07 289.83a2.1 2.1 0 1 0 4.2 0a2.1 2.1 0 1 0 -4.2 0M352.58 289.89a2.1 2.1 0 1 0 4.2 0a2.1 2.1 0 1 0 -4.2 0M353.08 287.32a2.1 2.1 0 1 0 4.2 0a2.1 2.1 0 1 0 -4.2 0M353.57 284.34a2.1 2.1 0 1 0 4.2 0a2.1 2.1 0 1 0 -4.2 0M354.06 285.48a2.1 2.1 0 1 0 4.2 0a2.1 2.1 0 1 0 -4.2 0M354.55 280.52a2.1 2.1 0 1 0 4.2 0a2.1 2.1 0 1 0 -4.2 0M355.04 282.13a2.1 2.1 0 1 0 4.2 0a2.1 2.1 0 1 0 -4.2 0M355.52 274.44a2.1 2.1 0 1 0 4.2 0a2.1 2.1 0 1 0 -4.2 0M355.99 272.22a2.1 2.1 0 1 0 4.2 0a2.1 2.1 0 1 0 -4.2 0M356.47 274.15a2.1 2.1 0 1 0 4.2 0a2.1 2.1 0 1 0 -4.2 0M356.94 281.67a2.1 2.1 0 1 0 4.2 0a2.1 2.1 0 1 0 -4.2 0M357.4 286.04a2.1 2.1 0 1 0 4.2 0a2.1 2.1 0 1 0 -4.2 0M357.86 293.43a2.1 2.1 0 1 0 4.2 0a2.1 2.1 0 1 0 -4.2 0M358.32 289.58a2.1 2.1 0 1 0 4.2 0a2.1 2.1 0 1 0 -4.2 0M358.78 286.91a2.1 2.1 0 1 0 4.2 0a2.1 2.1 0 1 0 -4.2 0M359.23 288.41a2.1 2.1 0 1 0 4.2 0a2.1 2.1 0 1 0 -4.2 0M359.68 284.91a2.1 2.1 0 1 0 4.2 0a2.1 2.1 0 1 0 -4.2 0M360.12 285.89a2.1 2.1 0 1 0 4.2 0a2.1 2.1 0 1 0 -4.2 0M360.57 283.82a2.1 2.1 0 1 0 4.2 0a2.1 2.1 0 1 0 -4.2 0M361 278.72a2.1 2.1 0 1 0 4.2 0a2.1 2.1 0 1 0 -4.2 0M361.44 275.76a2.1 2.1 0 1 0 4.2 0a2.1 2.1 0 1 0 -4.2 0M361.87 269.39a2.1 2.1 0 1 0 4.2 0a2.1 2.1 0 1 0 -4.2 0M362.3 264.11a2.1 2.1 0 1 0 4.2 0a2.1 2.1 0 1 0 -4.2 0M362.73 253.01a2.1 2.1 0 1 0 4.2 0a2.1 2.1 0 1 0 -4.2 0M363.15 242.25a2.1 2.1 0 1 0 4.2 0a2.1 2.1 0 1 0 -4.2 0M363.57 229.06a2.1 2.1 0 1 0 4.2 0a2.1 2.1 0 1 0 -4.2 0M363.99 216.47a2.1 2.1 0 1 0 4.2 0a2.1 2.1 0 1 0 -4.2 0M364.41 201.04a2.1 2.1 0 1 0 4.2 0a2.1 2.1 0 1 0 -4.2 0M364.82 208.76a2.1 2.1 0 1 0 4.2 0a2.1 2.1 0 1 0 -4.2 0M365.23 215.86a2.1 2.1 0 1 0 4.2 0a2.1 2.1 0 1 0 -4.2 0M365.64 197.79a2.1 2.1 0 1 0 4.2 0a2.1 2.1 0 1 0 -4.2 0M366.04 206.73a2.1 2.1 0 1 0 4.2 0a2.1 2.1 0 1 0 -4.2 0M366.44 184.6a2.1 2.1 0 1 0 4.2 0a2.1 2.1 0 1 0 -4.2 0M366.84 193.13a2.1 2.1 0 1 0 4.2 0a2.1 2.1 0 1 0 -4.2 0M367.24 165.11a2.1 2.1 0 1 0 4.2 0a2.1 2.1 0 1 0 -4.2 0M367.63 127.96a2.1 2.1 0 1 0 4.2 0a2.1 2.1 0 1 0 -4.2 0M368.02 79.45a2.1 2.1 0 1 0 4.2 0a2.1 2.1 0 1 0 -4.2 0"/>
<path fill="#14ec14" d="M58.05 250.78a2.45 2.45 0 1 0 4.9 0a2.45 2.45 0 1 0 -4.9 0M100.5 250.37a2.45 2.45 0 1 0 4.9 0a2.45 2.45 0 1 0 -4.9 0M125.32 249.97a2.45 2.45 0 1 0 4.9 0a2.45 2.45 0 1 0 -4.9 0M142.94 249.56a2.45 2.45 0 1 0 4.9 0a2.45 2.45 0 1 0 -4.9 0M156.6 249.15a2.45 2.45 0 1 0 4.9 0a2.45 2.45 0 1 0 -4.9 0M167.77 248.34a2.45 2.45 0 1 0 4.9 0a2.45 2.45 0 1 0 -4.9 0M177.21 247.73a2.45 2.45 0 1 0 4.9 0a2.45 2.45 0 1 0 -4.9 0M185.39 247.33a2.45 2.45 0 1 0 4.9 0a2.45 2.45 0 1 0 -4.9 0M192.6 246.92a2.45 2.45 0 1 0 4.9 0a2.45 2.45 0 1 0 -4.9 0M199.05 246.31a2.45 2.45 0 1 0 4.9 0a2.45 2.45 0 1 0 -4.9 0M204.89 245.69a2.45 2.45 0 1 0 4.9 0a2.45 2.45 0 1 0 -4.9 0M210.21 245.07a2.45 2.45 0 1 0 4.9 0a2.45 2.45 0 1 0 -4.9 0M215.12 244.45a2.45 2.45 0 1 0 4.9 0a2.45 2.45 0 1 0 -4.9 0M219.65 243.83a2.45 2.45 0 1 0 4.9 0a2.45 2.45 0 1 0 -4.9 0M223.88 243.21a2.45 2.45 0 1 0 4.9 0a2.45 2.45 0 1 0 -4.9 0M227.83 242.59a2.45 2.45 0 1 0 4.9 0a2.45 2.45 0 1 0 -4.9 0M231.54 241.93a2.45 2.45 0 1 0 4.9 0a2.45 2.45 0 1 0 -4.9 0M235.04 241.27a2.45 2.45 0 1 0 4.9 0a2.45 2.45 0 1 0 -4.9 0M238.35 240.61a2.45 2.45 0 1 0 4.9 0a2.45 2.45 0 1 0 -4.9 0M241.5 239.95a2.45 2.45 0 1 0 4.9 0a2.45 2.45 0 1 0 -4.9 0M244.48 239.4a2.45 2.45 0 1 0 4.9 0a2.45 2.45 0 1 0 -4.9 0M247.33 238.88a2.45 2.45 0 1 0 4.9 0a2.45 2.45 0 1 0 -4.9 0M250.05 238.37a2.45 2.45 0 1 0 4.9 0a2.45 2.45 0 1 0 -4.9 0M252.66 237.85a2.45 2.45 0 1 0 4.9 0a2.45 2.45 0 1 0 -4.9 0M255.16 237.33a2.45 2.45 0 1 0 4.9 0a2.45 2.45 0 1 0 -4.9 0M257.56 236.78a2.45 2.45 0 1 0 4.9 0a2.45 2.45 0 1 0 -4.9 0M259.87 236.13a2.45 2.45 0 1 0 4.9 0a2.45 2.45 0 1 0 -4.9 0M262.1 235.48a2.45 2.45 0 1 0 4.9 0a2.45 2.45 0 1 0 -4.9 0M264.25 234.84a2.45 2.45 0 1 0 4.9 0a2.45 2.45 0 1 0 -4.9 0M266.32 234.19a2.45 2.45 0 1 0 4.9 0a2.45 2.45 0 1 0 -4.9 0M268.33 233.54a2.45 2.45 0 1 0 4.9 0a2.45 2.45 0 1 0 -4.9 0M270.28 232.9a2.45 2.45 0 1 0 4.9 0a2.45 2.45 0 1 0 -4.9 0M272.16 232.24a2.45 2.45 0 1 0 4.9 0a2.45 2.45 0 1 0 -4.9 0M273.99 231.56a2.45 2.45 0 1 0 4.9 0a2.45 2.45 0 1 0 -4.9 0M275.76 230.88a2.45 2.45 0 1 0 4.9 0a2.45 2.45 0 1 0 -4.9 0M277.49 230.21a2.45 2.45 0 1 0 4.9 0a2.45 2.45 0 1 0 -4.9 0M279.17 229.53a2.45 2.45 0 1 0 4.9 0a2.45 2.45 0 1 0 -4.9 0M280.8 228.85a2.45 2.45 0 1 0 4.9 0a2.45 2.45 0 1 0 -4.9 0M282.39 228.18a2.45 2.45 0 1 0 4.9 0a2.45 2.45 0 1 0 -4.9 0M283.94 227.5a2.45 2.45 0 1 0 4.9 0a2.45 2.45 0 1 0 -4.9 0M285.45 226.82a2.45 2.45 0 1 0 4.9 0a2.45 2.45 0 1 0 -4.9 0M286.93 226.15a2.45 2.45 0 1 0 4.9 0a2.45 2.45 0 1 0 -4.9 0M288.37 225.47a2.45 2.45 0 1 0 4.9 0a2.45 2.45 0 1 0 -4.9 0M289.78 224.79a2.45 2.45 0 1 0 4.9 0a2.45 2.45 0 1 0 -4.9 0M291.15 224.12a2.45 2.45 0 1 0 4.9 0a2.45 2.45 0 1 0 -4.9 0M292.5 223.44a2.45 2.45 0 1 0 4.9 0a2.45 2.45 0 1 0 -4.9 0M293.82 222.76a2.45 2.45 0 1 0 4.9 0a2.45 2.45 0 1 0 -4.9 0M295.11 222.09a2.45 2.45 0 1 0 4.9 0a2.45 2.45 0 1 0 -4.9 0M296.37 221.45a2.45 2.45 0 1 0 4.9 0a2.45 2.45 0 1 0 -4.9 0M297.6 220.99a2.45 2.45 0 1 0 4.9 0a2.45 2.45 0 1 0 -4.9 0M298.82 220.54a2.45 2.45 0 1 0 4.9 0a2.45 2.45 0 1 0 -4.9 0M300.01 220.08a2.45 2.45 0 1 0 4.9 0a2.45 2.45 0 1 0 -4.9 0M301.17 219.62a2.45 2.45 0 1 0 4.9 0a2.45 2.45 0 1 0 -4.9 0M302.32 219.16a2.45 2.45 0 1 0 4.9 0a2.45 2.45 0 1 0 -4.9 0M303.44 218.7a2.45 2.45 0 1 0 4.9 0a2.45 2.45 0 1 0 -4.9 0M304.54 218.14a2.45 2.45 0 1 0 4.9 0a2.45 2.45 0 1 0 -4.9 0M305.63 217.57a2.45 2.45 0 1 0 4.9 0a2.45 2.45 0 1 0 -4.9 0M306.69 217.01a2.45 2.45 0 1 0 4.9 0a2.45 2.45 0 1 0 -4.9 0M307.74 216.44a2.45 2.45 0 1 0 4.9 0a2.45 2.45 0 1 0 -4.9 0M308.77 215.88a2.45 2.45 0 1 0 4.9 0a2.45 2.45 0 1 0 -4.9 0M309.78 215.31a2.45 2.45 0 1 0 4.9 0a2.45 2.45 0 1 0 -4.9 0M310.78 214.75a2.45 2.45 0 1 0 4.9 0a2.45 2.45 0 1 0 -4.9 0M311.76 214.18a2.45 2.45 0 1 0 4.9 0a2.45 2.45 0 1 0 -4.9 0M312.72 213.62a2.45 2.45 0 1 0 4.9 0a2.45 2.45 0 1 0 -4.9 0M313.67 213.05a2.45 2.45 0 1 0 4.9 0a2.45 2.45 0 1 0 -4.9 0M314.61 212.49a2.45 2.45 0 1 0 4.9 0a2.45 2.45 0 1 0 -4.9 0M315.53 211.88a2.45 2.45 0 1 0 4.9 0a2.45 2.45 0 1 0 -4.9 0M316.43 211.23a2.45 2.45 0 1 0 4.9 0a2.45 2.45 0 1 0 -4.9 0M317.33 210.57a2.45 2.45 0 1 0 4.9 0a2.45 2.45 0 1 0 -4.9 0M318.21 209.92a2.45 2.45 0 1 0 4.9 0a2.45 2.45 0 1 0 -4.9 0M319.08 209.27a2.45 2.45 0 1 0 4.9 0a2.45 2.45 0 1 0 -4.9 0M319.93 208.61a2.45 2.45 0 1 0 4.9 0a2.45 2.45 0 1 0 -4.9 0M320.78 207.96a2.45 2.45 0 1 0 4.9 0a2.45 2.45 0 1 0 -4.9 0M321.61 207.31a2.45 2.45 0 1 0 4.9 0a2.45 2.45 0 1 0 -4.9 0M322.43 206.65a2.45 2.45 0 1 0 4.9 0a2.45 2.45 0 1 0 -4.9 0M323.24 206a2.45 2.45 0 1 0 4.9 0a2.45 2.45 0 1 0 -4.9 0M324.05 205.35a2.45 2.45 0 1 0 4.9 0a2.45 2.45 0 1 0 -4.9 0M324.84 204.69a2.45 2.45 0 1 0 4.9 0a2.45 2.45 0 1 0 -4.9 0M325.62 204.04a2.45 2.45 0 1 0 4.9 0a2.45 2.45 0 1 0 -4.9 0M326.39 203.38a2.45 2.45 0 1 0 4.9 0a2.45 2.45 0 1 0 -4.9 0M327.15 202.73a2.45 2.45 0 1 0 4.9 0a2.45 2.45 0 1 0 -4.9 0M327.9 202.02a2.45 2.45 0 1 0 4.9 0a2.45 2.45 0 1 0 -4.9 0M328.64 201.3a2.45 2.45 0 1 0 4.9 0a2.45 2.45 0 1 0 -4.9 0M329.37 200.58a2.45 2.45 0 1 0 4.9 0a2.45 2.45 0 1 0 -4.9 0M330.1 199.86a2.45 2.45 0 1 0 4.9 0a2.45 2.45 0 1 0 -4.9 0M330.81 199.14a2.45 2.45 0 1 0 4.9 0a2.45 2.45 0 1 0 -4.9 0M331.52 198.42a2.45 2.45 0 1 0 4.9 0a2.45 2.45 0 1 0 -4.9 0M332.22 197.7a2.45 2.45 0 1 0 4.9 0a2.45 2.45 0 1 0 -4.9 0M332.91 196.98a2.45 2.45 0 1 0 4.9 0a2.45 2.45 0 1 0 -4.9 0M333.6 196.26a2.45 2.45 0 1 0 4.9 0a2.45 2.45 0 1 0 -4.9 0M334.27 195.53a2.45 2.45 0 1 0 4.9 0a2.45 2.45 0 1 0 -4.9 0M334.94 194.81a2.45 2.45 0 1 0 4.9 0a2.45 2.45 0 1 0 -4.9 0M335.61 194.09a2.45 2.45 0 1 0 4.9 0a2.45 2.45 0 1 0 -4.9 0M336.26 193.37a2.45 2.45 0 1 0 4.9 0a2.45 2.45 0 1 0 -4.9 0M336.91 192.65a2.45 2.45 0 1 0 4.9 0a2.45 2.45 0 1 0 -4.9 0M337.55 191.93a2.45 2.45 0 1 0 4.9 0a2.45 2.45 0 1 0 -4.9 0M338.18 191.13a2.45 2.45 0 1 0 4.9 0a2.45 2.45 0 1 0 -4.9 0M338.81 190.2a2.45 2.45 0 1 0 4.9 0a2.45 2.45 0 1 0 -4.9 0M339.43 189.27a2.45 2.45 0 1 0 4.9 0a2.45 2.45 0 1 0 -4.9 0M340.05 188.34a2.45 2.45 0 1 0 4.9 0a2.45 2.45 0 1 0 -4.9 0M340.66 187.41a2.45 2.45 0 1 0 4.9 0a2.45 2.45 0 1 0 -4.9 0M341.26 186.48a2.45 2.45 0 1 0 4.9 0a2.45 2.45 0 1 0 -4.9 0M341.86 185.55a2.45 2.45 0 1 0 4.9 0a2.45 2.45 0 1 0 -4.9 0M342.45 184.62a2.45 2.45 0 1 0 4.9 0a2.45 2.45 0 1 0 -4.9 0M343.04 183.69a2.45 2.45 0 1 0 4.9 0a2.45 2.45 0 1 0 -4.9 0M343.62 182.76a2.45 2.45 0 1 0 4.9 0a2.45 2.45 0 1 0 -4.9 0M344.19 181.83a2.45 2.45 0 1 0 4.9 0a2.45 2.45 0 1 0 -4.9 0M344.76 180.62a2.45 2.45 0 1 0 4.9 0a2.45 2.45 0 1 0 -4.9 0M345.33 179.29a2.45 2.45 0 1 0 4.9 0a2.45 2.45 0 1 0 -4.9 0M345.89 177.96a2.45 2.45 0 1 0 4.9 0a2.45 2.45 0 1 0 -4.9 0M346.44 176.63a2.45 2.45 0 1 0 4.9 0a2.45 2.45 0 1 0 -4.9 0M346.99 175.3a2.45 2.45 0 1 0 4.9 0a2.45 2.45 0 1 0 -4.9 0M347.53 173.97a2.45 2.45 0 1 0 4.9 0a2.45 2.45 0 1 0 -4.9 0M348.07 172.64a2.45 2.45 0 1 0 4.9 0a2.45 2.45 0 1 0 -4.9 0M348.61 171.31a2.45 2.45 0 1 0 4.9 0a2.45 2.45 0 1 0 -4.9 0M349.14 169.98a2.45 2.45 0 1 0 4.9 0a2.45 2.45 0 1 0 -4.9 0M349.66 168.4a2.45 2.45 0 1 0 4.9 0a2.45 2.45 0 1 0 -4.9 0M350.19 166.82a2.45 2.45 0 1 0 4.9 0a2.45 2.45 0 1 0 -4.9 0M350.7 165.23a2.45 2.45 0 1 0 4.9 0a2.45 2.45 0 1 0 -4.9 0M351.21 163.65a2.45 2.45 0 1 0 4.9 0a2.45 2.45 0 1 0 -4.9 0M351.72 162.07a2.45 2.45 0 1 0 4.9 0a2.45 2.45 0 1 0 -4.9 0M352.23 160.48a2.45 2.45 0 1 0 4.9 0a2.45 2.45 0 1 0 -4.9 0M352.73 158.89a2.45 2.45 0 1 0 4.9 0a2.45 2.45 0 1 0 -4.9 0M353.22 157.3a2.45 2.45 0 1 0 4.9 0a2.45 2.45 0 1 0 -4.9 0M353.71 155.72a2.45 2.45 0 1 0 4.9 0a2.45 2.45 0 1 0 -4.9 0M354.2 154.13a2.45 2.45 0 1 0 4.9 0a2.45 2.45 0 1 0 -4.9 0M354.69 152.53a2.45 2.45 0 1 0 4.9 0a2.45 2.45 0 1 0 -4.9 0M355.17 150.9a2.45 2.45 0 1 0 4.9 0a2.45 2.45 0 1 0 -4.9 0M355.64 149.28a2.45 2.45 0 1 0 4.9 0a2.45 2.45 0 1 0 -4.9 0M356.12 147.65a2.45 2.45 0 1 0 4.9 0a2.45 2.45 0 1 0 -4.9 0M356.59 146.04a2.45 2.45 0 1 0 4.9 0a2.45 2.45 0 1 0 -4.9 0M357.05 144.45a2.45 2.45 0 1 0 4.9 0a2.45 2.45 0 1 0 -4.9 0M357.51 142.85a2.45 2.45 0 1 0 4.9 0a2.45 2.45 0 1 0 -4.9 0M357.97 141.26a2.45 2.45 0 1 0 4.9 0a2.45 2.45 0 1 0 -4.9 0M358.43 139.87a2.45 2.45 0 1 0 4.9 0a2.45 2.45 0 1 0 -4.9 0M358.88 138.97a2.45 2.45 0 1 0 4.9 0a2.45 2.45 0 1 0 -4.9 0M359.33 138.11a2.45 2.45 0 1 0 4.9 0a2.45 2.45 0 1 0 -4.9 0M359.77 137.3a2.45 2.45 0 1 0 4.9 0a2.45 2.45 0 1 0 -4.9 0M360.22 132.83a2.45 2.45 0 1 0 4.9 0a2.45 2.45 0 1 0 -4.9 0M360.65 129.79a2.45 2.45 0 1 0 4.9 0a2.45 2.45 0 1 0 -4.9 0M361.09 126.54a2.45 2.45 0 1 0 4.9 0a2.45 2.45 0 1 0 -4.9 0M361.52 122.28a2.45 2.45 0 1 0 4.9 0a2.45 2.45 0 1 0 -4.9 0M361.95 117.61a2.45 2.45 0 1 0 4.9 0a2.45 2.45 0 1 0 -4.9 0M362.38 112.94a2.45 2.45 0 1 0 4.9 0a2.45 2.45 0 1 0 -4.9 0M362.8 108.07a2.45 2.45 0 1 0 4.9 0a2.45 2.45 0 1 0 -4.9 0M363.22 103.3a2.45 2.45 0 1 0 4.9 0a2.45 2.45 0 1 0 -4.9 0M363.64 97.41a2.45 2.45 0 1 0 4.9 0a2.45 2.45 0 1 0 -4.9 0M364.06 92.34a2.45 2.45 0 1 0 4.9 0a2.45 2.45 0 1 0 -4.9 0M364.47 86.04a2.45 2.45 0 1 0 4.9 0a2.45 2.45 0 1 0 -4.9 0M364.88 79.45a2.45 2.45 0 1 0 4.9 0a2.45 2.45 0 1 0 -4.9 0M365.29 72.54a2.45 2.45 0 1 0 4.9 0a2.45 2.45 0 1 0 -4.9 0M365.69 65.34a2.45 2.45 0 1 0 4.9 0a2.45 2.45 0 1 0 -4.9 0M366.09 58.64a2.45 2.45 0 1 0 4.9 0a2.45 2.45 0 1 0 -4.9 0M366.49 54.88a2.45 2.45 0 1 0 4.9 0a2.45 2.45 0 1 0 -4.9 0M366.89 51.13a2.45 2.45 0 1 0 4.9 0a2.45 2.45 0 1 0 -4.9 0M367.28 45.65a2.45 2.45 0 1 0 4.9 0a2.45 2.45 0 1 0 -4.9 0M367.67 45.04a2.45 2.45 0 1 0 4.9 0a2.45 2.45 0 1 0 -4.9 0"/>
<path fill="none" stroke="#2828f0" stroke-width="0.65" d="M58.4 315.13a2.1 2.1 0 1 0 4.2 0a2.1 2.1 0 1 0 -4.2 0M100.85 317.36a2.1 2.1 0 1 0 4.2 0a2.1 2.1 0 1 0 -4.2 0M125.67 315.74a2.1 2.1 0 1 0 4.2 0a2.1 2.1 0 1 0 -4.2 0M143.29 314.32a2.1 2.1 0 1 0 4.2 0a2.1 2.1 0 1 0 -4.2 0M156.95 312.08a2.1 2.1 0 1 0 4.2 0a2.1 2.1 0 1 0 -4.2 0M168.12 314.52a2.1 2.1 0 1 0 4.2 0a2.1 2.1 0 1 0 -4.2 0M177.56 312.49a2.1 2.1 0 1 0 4.2 0a2.1 2.1 0 1 0 -4.2 0M185.74 310.66a2.1 2.1 0 1 0 4.2 0a2.1 2.1 0 1 0 -4.2 0M192.95 308.63a2.1 2.1 0 1 0 4.2 0a2.1 2.1 0 1 0 -4.2 0M199.4 306.4a2.1 2.1 0 1 0 4.2 0a2.1 2.1 0 1 0 -4.2 0M205.24 304.37a2.1 2.1 0 1 0 4.2 0a2.1 2.1 0 1 0 -4.2 0M210.56 301.53a2.1 2.1 0 1 0 4.2 0a2.1 2.1 0 1 0 -4.2 0M215.47 298.89a2.1 2.1 0 1 0 4.2 0a2.1 2.1 0 1 0 -4.2 0M220 302.34a2.1 2.1 0 1 0 4.2 0a2.1 2.1 0 1 0 -4.2 0M224.23 299.7a2.1 2.1 0 1 0 4.2 0a2.1 2.1 0 1 0 -4.2 0M228.18 297.47a2.1 2.1 0 1 0 4.2 0a2.1 2.1 0 1 0 -4.2 0M231.89 294.62a2.1 2.1 0 1 0 4.2 0a2.1 2.1 0 1 0 -4.2 0M235.39 291.99a2.1 2.1 0 1 0 4.2 0a2.1 2.1 0 1 0 -4.2 0M238.7 288.94a2.1 2.1 0 1 0 4.2 0a2.1 2.1 0 1 0 -4.2 0M241.85 285.29a2.1 2.1 0 1 0 4.2 0a2.1 2.1 0 1 0 -4.2 0M244.83 288.74a2.1 2.1 0 1 0 4.2 0a2.1 2.1 0 1 0 -4.2 0M247.68 291.99a2.1 2.1 0 1 0 4.2 0a2.1 2.1 0 1 0 -4.2 0M250.4 295.03a2.1 2.1 0 1 0 4.2 0a2.1 2.1 0 1 0 -4.2 0M253.01 298.28a2.1 2.1 0 1 0 4.2 0a2.1 2.1 0 1 0 -4.2 0M255.51 302.75a2.1 2.1 0 1 0 4.2 0a2.1 2.1 0 1 0 -4.2 0M257.91 298.89a2.1 2.1 0 1 0 4.2 0a2.1 2.1 0 1 0 -4.2 0M260.22 295.84a2.1 2.1 0 1 0 4.2 0a2.1 2.1 0 1 0 -4.2 0M262.45 292.6a2.1 2.1 0 1 0 4.2 0a2.1 2.1 0 1 0 -4.2 0M264.6 288.94a2.1 2.1 0 1 0 4.2 0a2.1 2.1 0 1 0 -4.2 0M266.67 285.29a2.1 2.1 0 1 0 4.2 0a2.1 2.1 0 1 0 -4.2 0M268.68 281.43a2.1 2.1 0 1 0 4.2 0a2.1 2.1 0 1 0 -4.2 0M270.63 277.37a2.1 2.1 0 1 0 4.2 0a2.1 2.1 0 1 0 -4.2 0M272.51 272.09a2.1 2.1 0 1 0 4.2 0a2.1 2.1 0 1 0 -4.2 0M274.34 267.22a2.1 2.1 0 1 0 4.2 0a2.1 2.1 0 1 0 -4.2 0M276.11 262.55a2.1 2.1 0 1 0 4.2 0a2.1 2.1 0 1 0 -4.2 0M277.84 266.61a2.1 2.1 0 1 0 4.2 0a2.1 2.1 0 1 0 -4.2 0M279.52 270.87a2.1 2.1 0 1 0 4.2 0a2.1 2.1 0 1 0 -4.2 0M281.15 275.75a2.1 2.1 0 1 0 4.2 0a2.1 2.1 0 1 0 -4.2 0M282.74 270.47a2.1 2.1 0 1 0 4.2 0a2.1 2.1 0 1 0 -4.2 0M284.29 264.58a2.1 2.1 0 1 0 4.2 0a2.1 2.1 0 1 0 -4.2 0M285.8 262.96a2.1 2.1 0 1 0 4.2 0a2.1 2.1 0 1 0 -4.2 0M287.28 268.64a2.1 2.1 0 1 0 4.2 0a2.1 2.1 0 1 0 -4.2 0M288.72 265.19a2.1 2.1 0 1 0 4.2 0a2.1 2.1 0 1 0 -4.2 0M290.13 261.33a2.1 2.1 0 1 0 4.2 0a2.1 2.1 0 1 0 -4.2 0M291.5 255.04a2.1 2.1 0 1 0 4.2 0a2.1 2.1 0 1 0 -4.2 0M292.85 260.32a2.1 2.1 0 1 0 4.2 0a2.1 2.1 0 1 0 -4.2 0M294.17 266.21a2.1 2.1 0 1 0 4.2 0a2.1 2.1 0 1 0 -4.2 0M295.46 272.09a2.1 2.1 0 1 0 4.2 0a2.1 2.1 0 1 0 -4.2 0M296.72 264.58a2.1 2.1 0 1 0 4.2 0a2.1 2.1 0 1 0 -4.2 0M297.95 256.06a2.1 2.1 0 1 0 4.2 0a2.1 2.1 0 1 0 -4.2 0M299.17 262.55a2.1 2.1 0 1 0 4.2 0a2.1 2.1 0 1 0 -4.2 0M300.36 253.01a2.1 2.1 0 1 0 4.2 0a2.1 2.1 0 1 0 -4.2 0M301.52 242.25a2.1 2.1 0 1 0 4.2 0a2.1 2.1 0 1 0 -4.2 0M302.67 229.06a2.1 2.1 0 1 0 4.2 0a2.1 2.1 0 1 0 -4.2 0M303.79 216.47a2.1 2.1 0 1 0 4.2 0a2.1 2.1 0 1 0 -4.2 0M304.89 201.04a2.1 2.1 0 1 0 4.2 0a2.1 2.1 0 1 0 -4.2 0M305.98 208.76a2.1 2.1 0 1 0 4.2 0a2.1 2.1 0 1 0 -4.2 0M307.04 215.86a2.1 2.1 0 1 0 4.2 0a2.1 2.1 0 1 0 -4.2 0M308.09 197.79a2.1 2.1 0 1 0 4.2 0a2.1 2.1 0 1 0 -4.2 0M309.12 206.73a2.1 2.1 0 1 0 4.2 0a2.1 2.1 0 1 0 -4.2 0M310.13 184.6a2.1 2.1 0 1 0 4.2 0a2.1 2.1 0 1 0 -4.2 0M311.13 193.13a2.1 2.1 0 1 0 4.2 0a2.1 2.1 0 1 0 -4.2 0M312.11 165.11a2.1 2.1 0 1 0 4.2 0a2.1 2.1 0 1 0 -4.2 0M313.07 127.96a2.1 2.1 0 1 0 4.2 0a2.1 2.1 0 1 0 -4.2 0M314.02 79.45a2.1 2.1 0 1 0 4.2 0a2.1 2.1 0 1 0 -4.2 0"/>
<path fill="#0000ee" d="M58.05 204.29a2.45 2.45 0 1 0 4.9 0a2.45 2.45 0 1 0 -4.9 0M100.5 203.07a2.45 2.45 0 1 0 4.9 0a2.45 2.45 0 1 0 -4.9 0M125.32 202.26a2.45 2.45 0 1 0 4.9 0a2.45 2.45 0 1 0 -4.9 0M142.94 201.25a2.45 2.45 0 1 0 4.9 0a2.45 2.45 0 1 0 -4.9 0M156.6 200.23a2.45 2.45 0 1 0 4.9 0a2.45 2.45 0 1 0 -4.9 0M167.77 199.22a2.45 2.45 0 1 0 4.9 0a2.45 2.45 0 1 0 -4.9 0M177.21 198.2a2.45 2.45 0 1 0 4.9 0a2.45 2.45 0 1 0 -4.9 0M185.39 197.19a2.45 2.45 0 1 0 4.9 0a2.45 2.45 0 1 0 -4.9 0M192.6 195.76a2.45 2.45 0 1 0 4.9 0a2.45 2.45 0 1 0 -4.9 0M199.05 194.95a2.45 2.45 0 1 0 4.9 0a2.45 2.45 0 1 0 -4.9 0M204.89 193.94a2.45 2.45 0 1 0 4.9 0a2.45 2.45 0 1 0 -4.9 0M210.21 192.72a2.45 2.45 0 1 0 4.9 0a2.45 2.45 0 1 0 -4.9 0M215.12 191.61a2.45 2.45 0 1 0 4.9 0a2.45 2.45 0 1 0 -4.9 0M219.65 190.38a2.45 2.45 0 1 0 4.9 0a2.45 2.45 0 1 0 -4.9 0M223.88 189.13a2.45 2.45 0 1 0 4.9 0a2.45 2.45 0 1 0 -4.9 0M227.83 187.89a2.45 2.45 0 1 0 4.9 0a2.45 2.45 0 1 0 -4.9 0M231.54 186.67a2.45 2.45 0 1 0 4.9 0a2.45 2.45 0 1 0 -4.9 0M235.04 185.53a2.45 2.45 0 1 0 4.9 0a2.45 2.45 0 1 0 -4.9 0M238.35 184.42a2.45 2.45 0 1 0 4.9 0a2.45 2.45 0 1 0 -4.9 0M241.5 183.06a2.45 2.45 0 1 0 4.9 0a2.45 2.45 0 1 0 -4.9 0M244.48 181.64a2.45 2.45 0 1 0 4.9 0a2.45 2.45 0 1 0 -4.9 0M247.33 180.27a2.45 2.45 0 1 0 4.9 0a2.45 2.45 0 1 0 -4.9 0M250.05 178.92a2.45 2.45 0 1 0 4.9 0a2.45 2.45 0 1 0 -4.9 0M252.66 177.6a2.45 2.45 0 1 0 4.9 0a2.45 2.45 0 1 0 -4.9 0M255.16 176.35a2.45 2.45 0 1 0 4.9 0a2.45 2.45 0 1 0 -4.9 0M257.56 175.1a2.45 2.45 0 1 0 4.9 0a2.45 2.45 0 1 0 -4.9 0M259.87 173.62a2.45 2.45 0 1 0 4.9 0a2.45 2.45 0 1 0 -4.9 0M262.1 172.08a2.45 2.45 0 1 0 4.9 0a2.45 2.45 0 1 0 -4.9 0M264.25 170.54a2.45 2.45 0 1 0 4.9 0a2.45 2.45 0 1 0 -4.9 0M266.32 169.06a2.45 2.45 0 1 0 4.9 0a2.45 2.45 0 1 0 -4.9 0M268.33 167.58a2.45 2.45 0 1 0 4.9 0a2.45 2.45 0 1 0 -4.9 0M270.28 166.11a2.45 2.45 0 1 0 4.9 0a2.45 2.45 0 1 0 -4.9 0M272.16 164.21a2.45 2.45 0 1 0 4.9 0a2.45 2.45 0 1 0 -4.9 0M273.99 162.02a2.45 2.45 0 1 0 4.9 0a2.45 2.45 0 1 0 -4.9 0M275.76 159.83a2.45 2.45 0 1 0 4.9 0a2.45 2.45 0 1 0 -4.9 0M277.49 157.66a2.45 2.45 0 1 0 4.9 0a2.45 2.45 0 1 0 -4.9 0M279.17 155.48a2.45 2.45 0 1 0 4.9 0a2.45 2.45 0 1 0 -4.9 0M280.8 153.35a2.45 2.45 0 1 0 4.9 0a2.45 2.45 0 1 0 -4.9 0M282.39 151.39a2.45 2.45 0 1 0 4.9 0a2.45 2.45 0 1 0 -4.9 0M283.94 149.43a2.45 2.45 0 1 0 4.9 0a2.45 2.45 0 1 0 -4.9 0M285.45 147.35a2.45 2.45 0 1 0 4.9 0a2.45 2.45 0 1 0 -4.9 0M286.93 145a2.45 2.45 0 1 0 4.9 0a2.45 2.45 0 1 0 -4.9 0M288.37 142.64a2.45 2.45 0 1 0 4.9 0a2.45 2.45 0 1 0 -4.9 0M289.78 139.88a2.45 2.45 0 1 0 4.9 0a2.45 2.45 0 1 0 -4.9 0M291.15 137.02a2.45 2.45 0 1 0 4.9 0a2.45 2.45 0 1 0 -4.9 0M292.5 134a2.45 2.45 0 1 0 4.9 0a2.45 2.45 0 1 0 -4.9 0M293.82 130.86a2.45 2.45 0 1 0 4.9 0a2.45 2.45 0 1 0 -4.9 0M295.11 127.73a2.45 2.45 0 1 0 4.9 0a2.45 2.45 0 1 0 -4.9 0M296.37 124.6a2.45 2.45 0 1 0 4.9 0a2.45 2.45 0 1 0 -4.9 0M297.6 121.47a2.45 2.45 0 1 0 4.9 0a2.45 2.45 0 1 0 -4.9 0M298.82 117.61a2.45 2.45 0 1 0 4.9 0a2.45 2.45 0 1 0 -4.9 0M300.01 112.94a2.45 2.45 0 1 0 4.9 0a2.45 2.45 0 1 0 -4.9 0M301.17 108.07a2.45 2.45 0 1 0 4.9 0a2.45 2.45 0 1 0 -4.9 0M302.32 103.3a2.45 2.45 0 1 0 4.9 0a2.45 2.45 0 1 0 -4.9 0M303.44 97.41a2.45 2.45 0 1 0 4.9 0a2.45 2.45 0 1 0 -4.9 0M304.54 92.34a2.45 2.45 0 1 0 4.9 0a2.45 2.45 0 1 0 -4.9 0M305.63 86.04a2.45 2.45 0 1 0 4.9 0a2.45 2.45 0 1 0 -4.9 0M306.69 79.45a2.45 2.45 0 1 0 4.9 0a2.45 2.45 0 1 0 -4.9 0M307.74 72.54a2.45 2.45 0 1 0 4.9 0a2.45 2.45 0 1 0 -4.9 0M308.77 65.34a2.45 2.45 0 1 0 4.9 0a2.45 2.45 0 1 0 -4.9 0M309.78 58.64a2.45 2.45 0 1 0 4.9 0a2.45 2.45 0 1 0 -4.9 0M310.78 54.88a2.45 2.45 0 1 0 4.9 0a2.45 2.45 0 1 0 -4.9 0M311.76 51.13a2.45 2.45 0 1 0 4.9 0a2.45 2.45 0 1 0 -4.9 0M312.72 45.65a2.45 2.45 0 1 0 4.9 0a2.45 2.45 0 1 0 -4.9 0M313.67 45.04a2.45 2.45 0 1 0 4.9 0a2.45 2.45 0 1 0 -4.9 0"/>
<path fill="#e80000" d="M58.05 260.93a2.45 2.45 0 1 0 4.9 0a2.45 2.45 0 1 0 -4.9 0M100.5 260.93a2.45 2.45 0 1 0 4.9 0a2.45 2.45 0 1 0 -4.9 0M125.32 260.93a2.45 2.45 0 1 0 4.9 0a2.45 2.45 0 1 0 -4.9 0M142.94 260.52a2.45 2.45 0 1 0 4.9 0a2.45 2.45 0 1 0 -4.9 0M156.6 260.52a2.45 2.45 0 1 0 4.9 0a2.45 2.45 0 1 0 -4.9 0M167.77 259.91a2.45 2.45 0 1 0 4.9 0a2.45 2.45 0 1 0 -4.9 0M177.21 259.91a2.45 2.45 0 1 0 4.9 0a2.45 2.45 0 1 0 -4.9 0M185.39 259.91a2.45 2.45 0 1 0 4.9 0a2.45 2.45 0 1 0 -4.9 0M192.6 259.51a2.45 2.45 0 1 0 4.9 0a2.45 2.45 0 1 0 -4.9 0M199.05 259.51a2.45 2.45 0 1 0 4.9 0a2.45 2.45 0 1 0 -4.9 0M204.89 259.35a2.45 2.45 0 1 0 4.9 0a2.45 2.45 0 1 0 -4.9 0M210.21 259.2a2.45 2.45 0 1 0 4.9 0a2.45 2.45 0 1 0 -4.9 0M215.12 259.05a2.45 2.45 0 1 0 4.9 0a2.45 2.45 0 1 0 -4.9 0M219.65 258.9a2.45 2.45 0 1 0 4.9 0a2.45 2.45 0 1 0 -4.9 0M223.88 258.74a2.45 2.45 0 1 0 4.9 0a2.45 2.45 0 1 0 -4.9 0M227.83 258.59a2.45 2.45 0 1 0 4.9 0a2.45 2.45 0 1 0 -4.9 0M231.54 258.44a2.45 2.45 0 1 0 4.9 0a2.45 2.45 0 1 0 -4.9 0M235.04 258.29a2.45 2.45 0 1 0 4.9 0a2.45 2.45 0 1 0 -4.9 0M238.35 258.14a2.45 2.45 0 1 0 4.9 0a2.45 2.45 0 1 0 -4.9 0M241.5 257.98a2.45 2.45 0 1 0 4.9 0a2.45 2.45 0 1 0 -4.9 0M244.48 257.83a2.45 2.45 0 1 0 4.9 0a2.45 2.45 0 1 0 -4.9 0M247.33 257.68a2.45 2.45 0 1 0 4.9 0a2.45 2.45 0 1 0 -4.9 0M250.05 257.53a2.45 2.45 0 1 0 4.9 0a2.45 2.45 0 1 0 -4.9 0M252.66 257.37a2.45 2.45 0 1 0 4.9 0a2.45 2.45 0 1 0 -4.9 0M255.16 257.22a2.45 2.45 0 1 0 4.9 0a2.45 2.45 0 1 0 -4.9 0M257.56 257.07a2.45 2.45 0 1 0 4.9 0a2.45 2.45 0 1 0 -4.9 0M259.87 256.92a2.45 2.45 0 1 0 4.9 0a2.45 2.45 0 1 0 -4.9 0M262.1 256.77a2.45 2.45 0 1 0 4.9 0a2.45 2.45 0 1 0 -4.9 0M264.25 256.62a2.45 2.45 0 1 0 4.9 0a2.45 2.45 0 1 0 -4.9 0M266.32 256.47a2.45 2.45 0 1 0 4.9 0a2.45 2.45 0 1 0 -4.9 0M268.33 256.32a2.45 2.45 0 1 0 4.9 0a2.45 2.45 0 1 0 -4.9 0M270.28 256.17a2.45 2.45 0 1 0 4.9 0a2.45 2.45 0 1 0 -4.9 0M272.16 256.02a2.45 2.45 0 1 0 4.9 0a2.45 2.45 0 1 0 -4.9 0M273.99 255.87a2.45 2.45 0 1 0 4.9 0a2.45 2.45 0 1 0 -4.9 0M275.76 255.72a2.45 2.45 0 1 0 4.9 0a2.45 2.45 0 1 0 -4.9 0M277.49 255.57a2.45 2.45 0 1 0 4.9 0a2.45 2.45 0 1 0 -4.9 0M279.17 255.42a2.45 2.45 0 1 0 4.9 0a2.45 2.45 0 1 0 -4.9 0M280.8 255.28a2.45 2.45 0 1 0 4.9 0a2.45 2.45 0 1 0 -4.9 0M282.39 255.13a2.45 2.45 0 1 0 4.9 0a2.45 2.45 0 1 0 -4.9 0M283.94 254.98a2.45 2.45 0 1 0 4.9 0a2.45 2.45 0 1 0 -4.9 0M285.45 254.83a2.45 2.45 0 1 0 4.9 0a2.45 2.45 0 1 0 -4.9 0M286.93 254.68a2.45 2.45 0 1 0 4.9 0a2.45 2.45 0 1 0 -4.9 0M288.37 254.53a2.45 2.45 0 1 0 4.9 0a2.45 2.45 0 1 0 -4.9 0M289.78 254.38a2.45 2.45 0 1 0 4.9 0a2.45 2.45 0 1 0 -4.9 0M291.15 254.23a2.45 2.45 0 1 0 4.9 0a2.45 2.45 0 1 0 -4.9 0M292.5 253.87a2.45 2.45 0 1 0 4.9 0a2.45 2.45 0 1 0 -4.9 0M293.82 253.5a2.45 2.45 0 1 0 4.9 0a2.45 2.45 0 1 0 -4.9 0M295.11 253.14a2.45 2.45 0 1 0 4.9 0a2.45 2.45 0 1 0 -4.9 0M296.37 252.78a2.45 2.45 0 1 0 4.9 0a2.45 2.45 0 1 0 -4.9 0M297.6 252.42a2.45 2.45 0 1 0 4.9 0a2.45 2.45 0 1 0 -4.9 0M298.82 252.06a2.45 2.45 0 1 0 4.9 0a2.45 2.45 0 1 0 -4.9 0M300.01 251.7a2.45 2.45 0 1 0 4.9 0a2.45 2.45 0 1 0 -4.9 0M301.17 251.33a2.45 2.45 0 1 0 4.9 0a2.45 2.45 0 1 0 -4.9 0M302.32 250.96a2.45 2.45 0 1 0 4.9 0a2.45 2.45 0 1 0 -4.9 0M303.44 250.59a2.45 2.45 0 1 0 4.9 0a2.45 2.45 0 1 0 -4.9 0M304.54 250.21a2.45 2.45 0 1 0 4.9 0a2.45 2.45 0 1 0 -4.9 0M305.63 249.84a2.45 2.45 0 1 0 4.9 0a2.45 2.45 0 1 0 -4.9 0M306.69 249.47a2.45 2.45 0 1 0 4.9 0a2.45 2.45 0 1 0 -4.9 0M307.74 249.1a2.45 2.45 0 1 0 4.9 0a2.45 2.45 0 1 0 -4.9 0M308.77 248.73a2.45 2.45 0 1 0 4.9 0a2.45 2.45 0 1 0 -4.9 0M309.78 248.36a2.45 2.45 0 1 0 4.9 0a2.45 2.45 0 1 0 -4.9 0M310.78 247.98a2.45 2.45 0 1 0 4.9 0a2.45 2.45 0 1 0 -4.9 0M311.76 247.61a2.45 2.45 0 1 0 4.9 0a2.45 2.45 0 1 0 -4.9 0M312.72 247.24a2.45 2.45 0 1 0 4.9 0a2.45 2.45 0 1 0 -4.9 0M313.67 246.87a2.45 2.45 0 1 0 4.9 0a2.45 2.45 0 1 0 -4.9 0M314.61 246.5a2.45 2.45 0 1 0 4.9 0a2.45 2.45 0 1 0 -4.9 0M315.53 246.16a2.45 2.45 0 1 0 4.9 0a2.45 2.45 0 1 0 -4.9 0M316.43 245.87a2.45 2.45 0 1 0 4.9 0a2.45 2.45 0 1 0 -4.9 0M317.33 245.58a2.45 2.45 0 1 0 4.9 0a2.45 2.45 0 1 0 -4.9 0M318.21 245.28a2.45 2.45 0 1 0 4.9 0a2.45 2.45 0 1 0 -4.9 0M319.08 244.99a2.45 2.45 0 1 0 4.9 0a2.45 2.45 0 1 0 -4.9 0M319.93 244.69a2.45 2.45 0 1 0 4.9 0a2.45 2.45 0 1 0 -4.9 0M320.78 244.4a2.45 2.45 0 1 0 4.9 0a2.45 2.45 0 1 0 -4.9 0M321.61 244.11a2.45 2.45 0 1 0 4.9 0a2.45 2.45 0 1 0 -4.9 0M322.43 243.81a2.45 2.45 0 1 0 4.9 0a2.45 2.45 0 1 0 -4.9 0M323.24 243.52a2.45 2.45 0 1 0 4.9 0a2.45 2.45 0 1 0 -4.9 0M324.05 243.22a2.45 2.45 0 1 0 4.9 0a2.45 2.45 0 1 0 -4.9 0M324.84 242.93a2.45 2.45 0 1 0 4.9 0a2.45 2.45 0 1 0 -4.9 0M325.62 242.64a2.45 2.45 0 1 0 4.9 0a2.45 2.45 0 1 0 -4.9 0M326.39 242.34a2.45 2.45 0 1 0 4.9 0a2.45 2.45 0 1 0 -4.9 0M327.15 242.05a2.45 2.45 0 1 0 4.9 0a2.45 2.45 0 1 0 -4.9 0M327.9 241.93a2.45 2.45 0 1 0 4.9 0a2.45 2.45 0 1 0 -4.9 0M328.64 241.82a2.45 2.45 0 1 0 4.9 0a2.45 2.45 0 1 0 -4.9 0M329.37 241.7a2.45 2.45 0 1 0 4.9 0a2.45 2.45 0 1 0 -4.9 0M330.1 241.58a2.45 2.45 0 1 0 4.9 0a2.45 2.45 0 1 0 -4.9 0M330.81 241.47a2.45 2.45 0 1 0 4.9 0a2.45 2.45 0 1 0 -4.9 0M331.52 241.35a2.45 2.45 0 1 0 4.9 0a2.45 2.45 0 1 0 -4.9 0M332.22 241.24a2.45 2.45 0 1 0 4.9 0a2.45 2.45 0 1 0 -4.9 0M332.91 240.97a2.45 2.45 0 1 0 4.9 0a2.45 2.45 0 1 0 -4.9 0M333.6 240.7a2.45 2.45 0 1 0 4.9 0a2.45 2.45 0 1 0 -4.9 0M334.27 240.44a2.45 2.45 0 1 0 4.9 0a2.45 2.45 0 1 0 -4.9 0M334.94 240.17a2.45 2.45 0 1 0 4.9 0a2.45 2.45 0 1 0 -4.9 0M335.61 239.91a2.45 2.45 0 1 0 4.9 0a2.45 2.45 0 1 0 -4.9 0M336.26 239.64a2.45 2.45 0 1 0 4.9 0a2.45 2.45 0 1 0 -4.9 0M336.91 239.37a2.45 2.45 0 1 0 4.9 0a2.45 2.45 0 1 0 -4.9 0M337.55 239.11a2.45 2.45 0 1 0 4.9 0a2.45 2.45 0 1 0 -4.9 0M338.18 238.84a2.45 2.45 0 1 0 4.9 0a2.45 2.45 0 1 0 -4.9 0M338.81 238.58a2.45 2.45 0 1 0 4.9 0a2.45 2.45 0 1 0 -4.9 0M339.43 238.31a2.45 2.45 0 1 0 4.9 0a2.45 2.45 0 1 0 -4.9 0M340.05 238.04a2.45 2.45 0 1 0 4.9 0a2.45 2.45 0 1 0 -4.9 0M340.66 237.78a2.45 2.45 0 1 0 4.9 0a2.45 2.45 0 1 0 -4.9 0M341.26 237.51a2.45 2.45 0 1 0 4.9 0a2.45 2.45 0 1 0 -4.9 0M341.86 237.25a2.45 2.45 0 1 0 4.9 0a2.45 2.45 0 1 0 -4.9 0M342.45 236.98a2.45 2.45 0 1 0 4.9 0a2.45 2.45 0 1 0 -4.9 0M343.04 236.71a2.45 2.45 0 1 0 4.9 0a2.45 2.45 0 1 0 -4.9 0M343.62 236.45a2.45 2.45 0 1 0 4.9 0a2.45 2.45 0 1 0 -4.9 0M344.19 236.18a2.45 2.45 0 1 0 4.9 0a2.45 2.45 0 1 0 -4.9 0M344.76 235.92a2.45 2.45 0 1 0 4.9 0a2.45 2.45 0 1 0 -4.9 0M345.33 235.65a2.45 2.45 0 1 0 4.9 0a2.45 2.45 0 1 0 -4.9 0M345.89 235.38a2.45 2.45 0 1 0 4.9 0a2.45 2.45 0 1 0 -4.9 0M346.44 235.12a2.45 2.45 0 1 0 4.9 0a2.45 2.45 0 1 0 -4.9 0M346.99 234.85a2.45 2.45 0 1 0 4.9 0a2.45 2.45 0 1 0 -4.9 0M347.53 234.59a2.45 2.45 0 1 0 4.9 0a2.45 2.45 0 1 0 -4.9 0M348.07 234.32a2.45 2.45 0 1 0 4.9 0a2.45 2.45 0 1 0 -4.9 0M348.61 234.05a2.45 2.45 0 1 0 4.9 0a2.45 2.45 0 1 0 -4.9 0M349.14 233.79a2.45 2.45 0 1 0 4.9 0a2.45 2.45 0 1 0 -4.9 0M349.66 233.52a2.45 2.45 0 1 0 4.9 0a2.45 2.45 0 1 0 -4.9 0M350.19 233.3a2.45 2.45 0 1 0 4.9 0a2.45 2.45 0 1 0 -4.9 0M350.7 233.09a2.45 2.45 0 1 0 4.9 0a2.45 2.45 0 1 0 -4.9 0M351.21 232.87a2.45 2.45 0 1 0 4.9 0a2.45 2.45 0 1 0 -4.9 0M351.72 232.65a2.45 2.45 0 1 0 4.9 0a2.45 2.45 0 1 0 -4.9 0M352.23 232.43a2.45 2.45 0 1 0 4.9 0a2.45 2.45 0 1 0 -4.9 0M352.73 232.22a2.45 2.45 0 1 0 4.9 0a2.45 2.45 0 1 0 -4.9 0M353.22 232a2.45 2.45 0 1 0 4.9 0a2.45 2.45 0 1 0 -4.9 0M353.71 231.78a2.45 2.45 0 1 0 4.9 0a2.45 2.45 0 1 0 -4.9 0M354.2 231.56a2.45 2.45 0 1 0 4.9 0a2.45 2.45 0 1 0 -4.9 0M354.69 231.35a2.45 2.45 0 1 0 4.9 0a2.45 2.45 0 1 0 -4.9 0M355.17 231.13a2.45 2.45 0 1 0 4.9 0a2.45 2.45 0 1 0 -4.9 0M355.64 230.91a2.45 2.45 0 1 0 4.9 0a2.45 2.45 0 1 0 -4.9 0M356.12 230.69a2.45 2.45 0 1 0 4.9 0a2.45 2.45 0 1 0 -4.9 0M356.59 230.48a2.45 2.45 0 1 0 4.9 0a2.45 2.45 0 1 0 -4.9 0M357.05 230.26a2.45 2.45 0 1 0 4.9 0a2.45 2.45 0 1 0 -4.9 0M357.51 230.04a2.45 2.45 0 1 0 4.9 0a2.45 2.45 0 1 0 -4.9 0M357.97 229.82a2.45 2.45 0 1 0 4.9 0a2.45 2.45 0 1 0 -4.9 0M358.43 229.61a2.45 2.45 0 1 0 4.9 0a2.45 2.45 0 1 0 -4.9 0M358.88 229.39a2.45 2.45 0 1 0 4.9 0a2.45 2.45 0 1 0 -4.9 0M359.33 229.17a2.45 2.45 0 1 0 4.9 0a2.45 2.45 0 1 0 -4.9 0M359.77 228.95a2.45 2.45 0 1 0 4.9 0a2.45 2.45 0 1 0 -4.9 0M360.22 228.74a2.45 2.45 0 1 0 4.9 0a2.45 2.45 0 1 0 -4.9 0M360.65 228.52a2.45 2.45 0 1 0 4.9 0a2.45 2.45 0 1 0 -4.9 0M361.09 228.3a2.45 2.45 0 1 0 4.9 0a2.45 2.45 0 1 0 -4.9 0M361.52 228.08a2.45 2.45 0 1 0 4.9 0a2.45 2.45 0 1 0 -4.9 0M361.95 227.87a2.45 2.45 0 1 0 4.9 0a2.45 2.45 0 1 0 -4.9 0M362.38 227.65a2.45 2.45 0 1 0 4.9 0a2.45 2.45 0 1 0 -4.9 0M362.8 227.43a2.45 2.45 0 1 0 4.9 0a2.45 2.45 0 1 0 -4.9 0M363.22 227.23a2.45 2.45 0 1 0 4.9 0a2.45 2.45 0 1 0 -4.9 0M363.64 227.03a2.45 2.45 0 1 0 4.9 0a2.45 2.45 0 1 0 -4.9 0M364.06 226.82a2.45 2.45 0 1 0 4.9 0a2.45 2.45 0 1 0 -4.9 0M364.47 226.62a2.45 2.45 0 1 0 4.9 0a2.45 2.45 0 1 0 -4.9 0M364.88 226.42a2.45 2.45 0 1 0 4.9 0a2.45 2.45 0 1 0 -4.9 0M365.29 226.21a2.45 2.45 0 1 0 4.9 0a2.45 2.45 0 1 0 -4.9 0M365.69 226.01a2.45 2.45 0 1 0 4.9 0a2.45 2.45 0 1 0 -4.9 0M366.09 225.81a2.45 2.45 0 1 0 4.9 0a2.45 2.45 0 1 0 -4.9 0M366.49 225.61a2.45 2.45 0 1 0 4.9 0a2.45 2.45 0 1 0 -4.9 0M366.89 225.4a2.45 2.45 0 1 0 4.9 0a2.45 2.45 0 1 0 -4.9 0M367.28 225.2a2.45 2.45 0 1 0 4.9 0a2.45 2.45 0 1 0 -4.9 0M367.67 225a2.45 2.45 0 1 0 4.9 0a2.45 2.45 0 1 0 -4.9 0M368.06 224.79a2.45 2.45 0 1 0 4.9 0a2.45 2.45 0 1 0 -4.9 0M368.45 224.59a2.45 2.45 0 1 0 4.9 0a2.45 2.45 0 1 0 -4.9 0M368.83 224.39a2.45 2.45 0 1 0 4.9 0a2.45 2.45 0 1 0 -4.9 0M369.21 224.18a2.45 2.45 0 1 0 4.9 0a2.45 2.45 0 1 0 -4.9 0M369.59 223.98a2.45 2.45 0 1 0 4.9 0a2.45 2.45 0 1 0 -4.9 0M369.97 223.78a2.45 2.45 0 1 0 4.9 0a2.45 2.45 0 1 0 -4.9 0M370.34 223.58a2.45 2.45 0 1 0 4.9 0a2.45 2.45 0 1 0 -4.9 0M370.72 223.37a2.45 2.45 0 1 0 4.9 0a2.45 2.45 0 1 0 -4.9 0M371.09 223.17a2.45 2.45 0 1 0 4.9 0a2.45 2.45 0 1 0 -4.9 0M371.45 222.97a2.45 2.45 0 1 0 4.9 0a2.45 2.45 0 1 0 -4.9 0M371.82 222.76a2.45 2.45 0 1 0 4.9 0a2.45 2.45 0 1 0 -4.9 0M372.18 222.56a2.45 2.45 0 1 0 4.9 0a2.45 2.45 0 1 0 -4.9 0M372.54 222.36a2.45 2.45 0 1 0 4.9 0a2.45 2.45 0 1 0 -4.9 0M372.9 222.15a2.45 2.45 0 1 0 4.9 0a2.45 2.45 0 1 0 -4.9 0M373.26 221.95a2.45 2.45 0 1 0 4.9 0a2.45 2.45 0 1 0 -4.9 0M373.61 221.75a2.45 2.45 0 1 0 4.9 0a2.45 2.45 0 1 0 -4.9 0M373.97 221.55a2.45 2.45 0 1 0 4.9 0a2.45 2.45 0 1 0 -4.9 0M374.32 221.34a2.45 2.45 0 1 0 4.9 0a2.45 2.45 0 1 0 -4.9 0M374.67 221.14a2.45 2.45 0 1 0 4.9 0a2.45 2.45 0 1 0 -4.9 0M375.01 220.94a2.45 2.45 0 1 0 4.9 0a2.45 2.45 0 1 0 -4.9 0M375.36 220.73a2.45 2.45 0 1 0 4.9 0a2.45 2.45 0 1 0 -4.9 0M375.7 220.55a2.45 2.45 0 1 0 4.9 0a2.45 2.45 0 1 0 -4.9 0M376.04 220.36a2.45 2.45 0 1 0 4.9 0a2.45 2.45 0 1 0 -4.9 0M376.38 220.18a2.45 2.45 0 1 0 4.9 0a2.45 2.45 0 1 0 -4.9 0M376.72 219.99a2.45 2.45 0 1 0 4.9 0a2.45 2.45 0 1 0 -4.9 0M377.06 219.81a2.45 2.45 0 1 0 4.9 0a2.45 2.45 0 1 0 -4.9 0M377.39 219.63a2.45 2.45 0 1 0 4.9 0a2.45 2.45 0 1 0 -4.9 0M377.72 219.44a2.45 2.45 0 1 0 4.9 0a2.45 2.45 0 1 0 -4.9 0M378.05 219.26a2.45 2.45 0 1 0 4.9 0a2.45 2.45 0 1 0 -4.9 0M378.38 219.07a2.45 2.45 0 1 0 4.9 0a2.45 2.45 0 1 0 -4.9 0M378.71 218.89a2.45 2.45 0 1 0 4.9 0a2.45 2.45 0 1 0 -4.9 0M379.03 218.7a2.45 2.45 0 1 0 4.9 0a2.45 2.45 0 1 0 -4.9 0M379.35 218.52a2.45 2.45 0 1 0 4.9 0a2.45 2.45 0 1 0 -4.9 0M379.68 218.33a2.45 2.45 0 1 0 4.9 0a2.45 2.45 0 1 0 -4.9 0M380 218.15a2.45 2.45 0 1 0 4.9 0a2.45 2.45 0 1 0 -4.9 0M380.31 217.96a2.45 2.45 0 1 0 4.9 0a2.45 2.45 0 1 0 -4.9 0M380.63 217.78a2.45 2.45 0 1 0 4.9 0a2.45 2.45 0 1 0 -4.9 0M380.94 217.6a2.45 2.45 0 1 0 4.9 0a2.45 2.45 0 1 0 -4.9 0M381.26 217.41a2.45 2.45 0 1 0 4.9 0a2.45 2.45 0 1 0 -4.9 0M381.57 217.23a2.45 2.45 0 1 0 4.9 0a2.45 2.45 0 1 0 -4.9 0M381.88 217.04a2.45 2.45 0 1 0 4.9 0a2.45 2.45 0 1 0 -4.9 0M382.19 216.86a2.45 2.45 0 1 0 4.9 0a2.45 2.45 0 1 0 -4.9 0M382.5 216.67a2.45 2.45 0 1 0 4.9 0a2.45 2.45 0 1 0 -4.9 0M382.8 216.49a2.45 2.45 0 1 0 4.9 0a2.45 2.45 0 1 0 -4.9 0M383.1 216.3a2.45 2.45 0 1 0 4.9 0a2.45 2.45 0 1 0 -4.9 0M383.41 216.12a2.45 2.45 0 1 0 4.9 0a2.45 2.45 0 1 0 -4.9 0M383.71 215.93a2.45 2.45 0 1 0 4.9 0a2.45 2.45 0 1 0 -4.9 0M384.01 215.75a2.45 2.45 0 1 0 4.9 0a2.45 2.45 0 1 0 -4.9 0M384.31 215.56a2.45 2.45 0 1 0 4.9 0a2.45 2.45 0 1 0 -4.9 0M384.6 215.37a2.45 2.45 0 1 0 4.9 0a2.45 2.45 0 1 0 -4.9 0M384.9 215.19a2.45 2.45 0 1 0 4.9 0a2.45 2.45 0 1 0 -4.9 0M385.19 215a2.45 2.45 0 1 0 4.9 0a2.45 2.45 0 1 0 -4.9 0M385.48 214.82a2.45 2.45 0 1 0 4.9 0a2.45 2.45 0 1 0 -4.9 0M385.77 214.63a2.45 2.45 0 1 0 4.9 0a2.45 2.45 0 1 0 -4.9 0M386.06 214.45a2.45 2.45 0 1 0 4.9 0a2.45 2.45 0 1 0 -4.9 0M386.35 214.26a2.45 2.45 0 1 0 4.9 0a2.45 2.45 0 1 0 -4.9 0M386.64 214.08a2.45 2.45 0 1 0 4.9 0a2.45 2.45 0 1 0 -4.9 0M386.92 213.89a2.45 2.45 0 1 0 4.9 0a2.45 2.45 0 1 0 -4.9 0M387.21 213.7a2.45 2.45 0 1 0 4.9 0a2.45 2.45 0 1 0 -4.9 0M387.49 213.52a2.45 2.45 0 1 0 4.9 0a2.45 2.45 0 1 0 -4.9 0M387.77 213.33a2.45 2.45 0 1 0 4.9 0a2.45 2.45 0 1 0 -4.9 0M388.05 213.11a2.45 2.45 0 1 0 4.9 0a2.45 2.45 0 1 0 -4.9 0M388.33 212.85a2.45 2.45 0 1 0 4.9 0a2.45 2.45 0 1 0 -4.9 0M388.61 212.58a2.45 2.45 0 1 0 4.9 0a2.45 2.45 0 1 0 -4.9 0M388.89 212.31a2.45 2.45 0 1 0 4.9 0a2.45 2.45 0 1 0 -4.9 0M389.16 212.04a2.45 2.45 0 1 0 4.9 0a2.45 2.45 0 1 0 -4.9 0M389.43 211.78a2.45 2.45 0 1 0 4.9 0a2.45 2.45 0 1 0 -4.9 0M389.71 211.51a2.45 2.45 0 1 0 4.9 0a2.45 2.45 0 1 0 -4.9 0M389.98 211.24a2.45 2.45 0 1 0 4.9 0a2.45 2.45 0 1 0 -4.9 0M390.25 210.97a2.45 2.45 0 1 0 4.9 0a2.45 2.45 0 1 0 -4.9 0M390.52 210.7a2.45 2.45 0 1 0 4.9 0a2.45 2.45 0 1 0 -4.9 0M390.79 210.44a2.45 2.45 0 1 0 4.9 0a2.45 2.45 0 1 0 -4.9 0M391.05 210.17a2.45 2.45 0 1 0 4.9 0a2.45 2.45 0 1 0 -4.9 0M391.32 209.9a2.45 2.45 0 1 0 4.9 0a2.45 2.45 0 1 0 -4.9 0M391.58 209.63a2.45 2.45 0 1 0 4.9 0a2.45 2.45 0 1 0 -4.9 0M391.85 209.36a2.45 2.45 0 1 0 4.9 0a2.45 2.45 0 1 0 -4.9 0M392.11 209.1a2.45 2.45 0 1 0 4.9 0a2.45 2.45 0 1 0 -4.9 0M392.37 208.83a2.45 2.45 0 1 0 4.9 0a2.45 2.45 0 1 0 -4.9 0M392.63 208.56a2.45 2.45 0 1 0 4.9 0a2.45 2.45 0 1 0 -4.9 0M392.89 208.29a2.45 2.45 0 1 0 4.9 0a2.45 2.45 0 1 0 -4.9 0M393.15 208.02a2.45 2.45 0 1 0 4.9 0a2.45 2.45 0 1 0 -4.9 0M393.4 207.76a2.45 2.45 0 1 0 4.9 0a2.45 2.45 0 1 0 -4.9 0M393.66 207.49a2.45 2.45 0 1 0 4.9 0a2.45 2.45 0 1 0 -4.9 0M393.91 207.22a2.45 2.45 0 1 0 4.9 0a2.45 2.45 0 1 0 -4.9 0M394.17 206.95a2.45 2.45 0 1 0 4.9 0a2.45 2.45 0 1 0 -4.9 0M394.42 206.68a2.45 2.45 0 1 0 4.9 0a2.45 2.45 0 1 0 -4.9 0M394.67 206.42a2.45 2.45 0 1 0 4.9 0a2.45 2.45 0 1 0 -4.9 0M394.92 206.15a2.45 2.45 0 1 0 4.9 0a2.45 2.45 0 1 0 -4.9 0M395.17 205.88a2.45 2.45 0 1 0 4.9 0a2.45 2.45 0 1 0 -4.9 0M395.42 205.61a2.45 2.45 0 1 0 4.9 0a2.45 2.45 0 1 0 -4.9 0M395.67 205.35a2.45 2.45 0 1 0 4.9 0a2.45 2.45 0 1 0 -4.9 0M395.91 205.08a2.45 2.45 0 1 0 4.9 0a2.45 2.45 0 1 0 -4.9 0M396.16 204.81a2.45 2.45 0 1 0 4.9 0a2.45 2.45 0 1 0 -4.9 0M396.4 204.54a2.45 2.45 0 1 0 4.9 0a2.45 2.45 0 1 0 -4.9 0M396.65 204.27a2.45 2.45 0 1 0 4.9 0a2.45 2.45 0 1 0 -4.9 0M396.89 204.01a2.45 2.45 0 1 0 4.9 0a2.45 2.45 0 1 0 -4.9 0M397.13 203.74a2.45 2.45 0 1 0 4.9 0a2.45 2.45 0 1 0 -4.9 0M397.37 203.47a2.45 2.45 0 1 0 4.9 0a2.45 2.45 0 1 0 -4.9 0M397.61 203.2a2.45 2.45 0 1 0 4.9 0a2.45 2.45 0 1 0 -4.9 0M397.85 202.93a2.45 2.45 0 1 0 4.9 0a2.45 2.45 0 1 0 -4.9 0M398.09 202.67a2.45 2.45 0 1 0 4.9 0a2.45 2.45 0 1 0 -4.9 0M398.33 202.25a2.45 2.45 0 1 0 4.9 0a2.45 2.45 0 1 0 -4.9 0M398.56 201.84a2.45 2.45 0 1 0 4.9 0a2.45 2.45 0 1 0 -4.9 0M398.8 201.43a2.45 2.45 0 1 0 4.9 0a2.45 2.45 0 1 0 -4.9 0M399.03 201.01a2.45 2.45 0 1 0 4.9 0a2.45 2.45 0 1 0 -4.9 0M399.26 200.6a2.45 2.45 0 1 0 4.9 0a2.45 2.45 0 1 0 -4.9 0M399.5 200.19a2.45 2.45 0 1 0 4.9 0a2.45 2.45 0 1 0 -4.9 0M399.73 199.77a2.45 2.45 0 1 0 4.9 0a2.45 2.45 0 1 0 -4.9 0M399.96 199.36a2.45 2.45 0 1 0 4.9 0a2.45 2.45 0 1 0 -4.9 0M400.19 198.95a2.45 2.45 0 1 0 4.9 0a2.45 2.45 0 1 0 -4.9 0M400.42 198.53a2.45 2.45 0 1 0 4.9 0a2.45 2.45 0 1 0 -4.9 0M400.65 198.12a2.45 2.45 0 1 0 4.9 0a2.45 2.45 0 1 0 -4.9 0M400.87 197.71a2.45 2.45 0 1 0 4.9 0a2.45 2.45 0 1 0 -4.9 0M401.1 197.29a2.45 2.45 0 1 0 4.9 0a2.45 2.45 0 1 0 -4.9 0M401.32 196.88a2.45 2.45 0 1 0 4.9 0a2.45 2.45 0 1 0 -4.9 0M401.55 196.47a2.45 2.45 0 1 0 4.9 0a2.45 2.45 0 1 0 -4.9 0M401.77 196.05a2.45 2.45 0 1 0 4.9 0a2.45 2.45 0 1 0 -4.9 0M402 195.64a2.45 2.45 0 1 0 4.9 0a2.45 2.45 0 1 0 -4.9 0M402.22 195.23a2.45 2.45 0 1 0 4.9 0a2.45 2.45 0 1 0 -4.9 0M402.44 194.81a2.45 2.45 0 1 0 4.9 0a2.45 2.45 0 1 0 -4.9 0M402.66 194.4a2.45 2.45 0 1 0 4.9 0a2.45 2.45 0 1 0 -4.9 0M402.88 193.99a2.45 2.45 0 1 0 4.9 0a2.45 2.45 0 1 0 -4.9 0M403.1 193.57a2.45 2.45 0 1 0 4.9 0a2.45 2.45 0 1 0 -4.9 0M403.32 193.16a2.45 2.45 0 1 0 4.9 0a2.45 2.45 0 1 0 -4.9 0M403.54 192.75a2.45 2.45 0 1 0 4.9 0a2.45 2.45 0 1 0 -4.9 0M403.75 192.33a2.45 2.45 0 1 0 4.9 0a2.45 2.45 0 1 0 -4.9 0M403.97 191.92a2.45 2.45 0 1 0 4.9 0a2.45 2.45 0 1 0 -4.9 0M404.18 191.51a2.45 2.45 0 1 0 4.9 0a2.45 2.45 0 1 0 -4.9 0M404.4 191.1a2.45 2.45 0 1 0 4.9 0a2.45 2.45 0 1 0 -4.9 0M404.61 190.42a2.45 2.45 0 1 0 4.9 0a2.45 2.45 0 1 0 -4.9 0M404.82 189.75a2.45 2.45 0 1 0 4.9 0a2.45 2.45 0 1 0 -4.9 0M405.04 189.08a2.45 2.45 0 1 0 4.9 0a2.45 2.45 0 1 0 -4.9 0M405.25 188.4a2.45 2.45 0 1 0 4.9 0a2.45 2.45 0 1 0 -4.9 0M405.46 187.73a2.45 2.45 0 1 0 4.9 0a2.45 2.45 0 1 0 -4.9 0M405.67 187.06a2.45 2.45 0 1 0 4.9 0a2.45 2.45 0 1 0 -4.9 0M405.88 186.38a2.45 2.45 0 1 0 4.9 0a2.45 2.45 0 1 0 -4.9 0M406.09 185.71a2.45 2.45 0 1 0 4.9 0a2.45 2.45 0 1 0 -4.9 0M406.29 185.04a2.45 2.45 0 1 0 4.9 0a2.45 2.45 0 1 0 -4.9 0M406.5 184.36a2.45 2.45 0 1 0 4.9 0a2.45 2.45 0 1 0 -4.9 0M406.71 183.69a2.45 2.45 0 1 0 4.9 0a2.45 2.45 0 1 0 -4.9 0M406.91 183.02a2.45 2.45 0 1 0 4.9 0a2.45 2.45 0 1 0 -4.9 0M407.12 182.34a2.45 2.45 0 1 0 4.9 0a2.45 2.45 0 1 0 -4.9 0M407.32 181.67a2.45 2.45 0 1 0 4.9 0a2.45 2.45 0 1 0 -4.9 0M407.53 181a2.45 2.45 0 1 0 4.9 0a2.45 2.45 0 1 0 -4.9 0M407.73 180.33a2.45 2.45 0 1 0 4.9 0a2.45 2.45 0 1 0 -4.9 0M407.93 179.65a2.45 2.45 0 1 0 4.9 0a2.45 2.45 0 1 0 -4.9 0M408.14 178.98a2.45 2.45 0 1 0 4.9 0a2.45 2.45 0 1 0 -4.9 0M408.34 178.31a2.45 2.45 0 1 0 4.9 0a2.45 2.45 0 1 0 -4.9 0M408.54 177.05a2.45 2.45 0 1 0 4.9 0a2.45 2.45 0 1 0 -4.9 0M408.74 175.8a2.45 2.45 0 1 0 4.9 0a2.45 2.45 0 1 0 -4.9 0M408.94 174.55a2.45 2.45 0 1 0 4.9 0a2.45 2.45 0 1 0 -4.9 0M409.13 173.3a2.45 2.45 0 1 0 4.9 0a2.45 2.45 0 1 0 -4.9 0M409.33 172.05a2.45 2.45 0 1 0 4.9 0a2.45 2.45 0 1 0 -4.9 0M409.53 170.8a2.45 2.45 0 1 0 4.9 0a2.45 2.45 0 1 0 -4.9 0M409.73 169.54a2.45 2.45 0 1 0 4.9 0a2.45 2.45 0 1 0 -4.9 0M409.92 168.29a2.45 2.45 0 1 0 4.9 0a2.45 2.45 0 1 0 -4.9 0M410.12 167.04a2.45 2.45 0 1 0 4.9 0a2.45 2.45 0 1 0 -4.9 0M410.31 165.79a2.45 2.45 0 1 0 4.9 0a2.45 2.45 0 1 0 -4.9 0M410.51 164.54a2.45 2.45 0 1 0 4.9 0a2.45 2.45 0 1 0 -4.9 0M410.7 163.28a2.45 2.45 0 1 0 4.9 0a2.45 2.45 0 1 0 -4.9 0M410.89 161.57a2.45 2.45 0 1 0 4.9 0a2.45 2.45 0 1 0 -4.9 0M411.08 159.86a2.45 2.45 0 1 0 4.9 0a2.45 2.45 0 1 0 -4.9 0M411.28 158.14a2.45 2.45 0 1 0 4.9 0a2.45 2.45 0 1 0 -4.9 0M411.47 156.43a2.45 2.45 0 1 0 4.9 0a2.45 2.45 0 1 0 -4.9 0M411.66 154.71a2.45 2.45 0 1 0 4.9 0a2.45 2.45 0 1 0 -4.9 0M411.85 153a2.45 2.45 0 1 0 4.9 0a2.45 2.45 0 1 0 -4.9 0M412.04 151.28a2.45 2.45 0 1 0 4.9 0a2.45 2.45 0 1 0 -4.9 0M412.23 149.57a2.45 2.45 0 1 0 4.9 0a2.45 2.45 0 1 0 -4.9 0M412.41 147.86a2.45 2.45 0 1 0 4.9 0a2.45 2.45 0 1 0 -4.9 0M412.6 146.68a2.45 2.45 0 1 0 4.9 0a2.45 2.45 0 1 0 -4.9 0M412.79 145.51a2.45 2.45 0 1 0 4.9 0a2.45 2.45 0 1 0 -4.9 0M412.97 144.34a2.45 2.45 0 1 0 4.9 0a2.45 2.45 0 1 0 -4.9 0M413.16 143.16a2.45 2.45 0 1 0 4.9 0a2.45 2.45 0 1 0 -4.9 0M413.35 141.99a2.45 2.45 0 1 0 4.9 0a2.45 2.45 0 1 0 -4.9 0M413.53 140.82a2.45 2.45 0 1 0 4.9 0a2.45 2.45 0 1 0 -4.9 0M413.71 139.65a2.45 2.45 0 1 0 4.9 0a2.45 2.45 0 1 0 -4.9 0M413.9 138.47a2.45 2.45 0 1 0 4.9 0a2.45 2.45 0 1 0 -4.9 0M414.08 137.3a2.45 2.45 0 1 0 4.9 0a2.45 2.45 0 1 0 -4.9 0M414.26 137.3a2.45 2.45 0 1 0 4.9 0a2.45 2.45 0 1 0 -4.9 0M414.45 137.3a2.45 2.45 0 1 0 4.9 0a2.45 2.45 0 1 0 -4.9 0M414.63 132.83a2.45 2.45 0 1 0 4.9 0a2.45 2.45 0 1 0 -4.9 0M414.81 129.79a2.45 2.45 0 1 0 4.9 0a2.45 2.45 0 1 0 -4.9 0M414.99 126.54a2.45 2.45 0 1 0 4.9 0a2.45 2.45 0 1 0 -4.9 0M415.17 122.28a2.45 2.45 0 1 0 4.9 0a2.45 2.45 0 1 0 -4.9 0M415.35 117.61a2.45 2.45 0 1 0 4.9 0a2.45 2.45 0 1 0 -4.9 0M415.53 112.94a2.45 2.45 0 1 0 4.9 0a2.45 2.45 0 1 0 -4.9 0M415.7 108.07a2.45 2.45 0 1 0 4.9 0a2.45 2.45 0 1 0 -4.9 0M415.88 103.3a2.45 2.45 0 1 0 4.9 0a2.45 2.45 0 1 0 -4.9 0M416.06 97.41a2.45 2.45 0 1 0 4.9 0a2.45 2.45 0 1 0 -4.9 0M416.24 92.34a2.45 2.45 0 1 0 4.9 0a2.45 2.45 0 1 0 -4.9 0M416.41 86.04a2.45 2.45 0 1 0 4.9 0a2.45 2.45 0 1 0 -4.9 0M416.59 79.45a2.45 2.45 0 1 0 4.9 0a2.45 2.45 0 1 0 -4.9 0M416.76 72.54a2.45 2.45 0 1 0 4.9 0a2.45 2.45 0 1 0 -4.9 0M416.94 65.34a2.45 2.45 0 1 0 4.9 0a2.45 2.45 0 1 0 -4.9 0M417.11 58.64a2.45 2.45 0 1 0 4.9 0a2.45 2.45 0 1 0 -4.9 0M417.29 54.88a2.45 2.45 0 1 0 4.9 0a2.45 2.45 0 1 0 -4.9 0M417.46 51.13a2.45 2.45 0 1 0 4.9 0a2.45 2.45 0 1 0 -4.9 0M417.63 45.65a2.45 2.45 0 1 0 4.9 0a2.45 2.45 0 1 0 -4.9 0M417.8 45.04a2.45 2.45 0 1 0 4.9 0a2.45 2.45 0 1 0 -4.9 0"/>
<text x="50.5" y="424.9" class="tl" text-anchor="end">0</text>
<text x="634.6" y="424.9" class="tr">0</text>
<text x="50.5" y="384.06" class="tl" text-anchor="end">20</text>
<text x="634.6" y="384.06" class="tr">0.2</text>
<text x="50.5" y="343.1" class="tl" text-anchor="end">40</text>
<text x="634.6" y="343.1" class="tr">0.4</text>
<text x="50.5" y="303.06" class="tl" text-anchor="end">60</text>
<text x="634.6" y="303.06" class="tr">0.6</text>
<text x="50.5" y="262.2" class="tl" text-anchor="end">80</text>
<text x="634.6" y="262.2" class="tr">0.8</text>
<text x="50.5" y="221.8" class="tl" text-anchor="end">100</text>
<text x="634.6" y="221.8" class="tr">1</text>
<text x="50.5" y="181.1" class="tl" text-anchor="end">120</text>
<text x="634.6" y="181.1" class="tr">1.2</text>
<text x="50.5" y="140.1" class="tl" text-anchor="end">140</text>
<text x="634.6" y="140.1" class="tr">1.4</text>
<text x="50.5" y="100.06" class="tl" text-anchor="end">160</text>
<text x="634.6" y="100.06" class="tr">1.6</text>
<text x="50.5" y="59.4" class="tl" text-anchor="end">180</text>
<text x="634.6" y="59.4" class="tr">1.8</text>
<text x="50.5" y="19.06" class="tl" text-anchor="end">200</text>
<text x="634.6" y="19.06" class="tr">2</text>
<text x="60.5" y="443" class="tl" text-anchor="middle">1</text>
<text x="201.5" y="443" class="tl" text-anchor="middle">10</text>
<text x="342.5" y="443" class="tl" text-anchor="middle">100</text>
<text x="483.5" y="443" class="tl" text-anchor="middle">1000</text>
<text x="624.5" y="443" class="tl" text-anchor="middle">10000</text>
<text x="342.5" y="466.5" class="tt" text-anchor="middle">Deletion number</text>
<text transform="translate(22.1 276.4) rotate(-90)" class="ty">f</text>
<text transform="translate(22.1 262.0) rotate(-90)" class="ty" textLength="102.3" lengthAdjust="spacingAndGlyphs">(close circles)</text>
<text transform="translate(671.9 279.9) rotate(-90)" class="ty">X</text>
<text transform="translate(663.2 270.0) rotate(-90)" class="sup">2</text>
<text transform="translate(671.9 255.1) rotate(-90)" class="ty" textLength="100.6" lengthAdjust="spacingAndGlyphs">(open circles)</text>
<text x="218" y="34.6" class="pl"><tspan font-style="italic">P</tspan><tspan class="sub" font-style="italic" dy="3.6" dx="2.5">selection</tspan><tspan dy="-3.6" dx="5.4">≤</tspan></text>
<text x="303.6" y="35" class="pl">.05</text>
<text x="354.2" y="35" class="pl">.11</text>
<text x="404.5" y="35" class="pl">.20</text>
<text x="478.5" y="35" class="pl">.37</text>
</svg>
</body></html>
